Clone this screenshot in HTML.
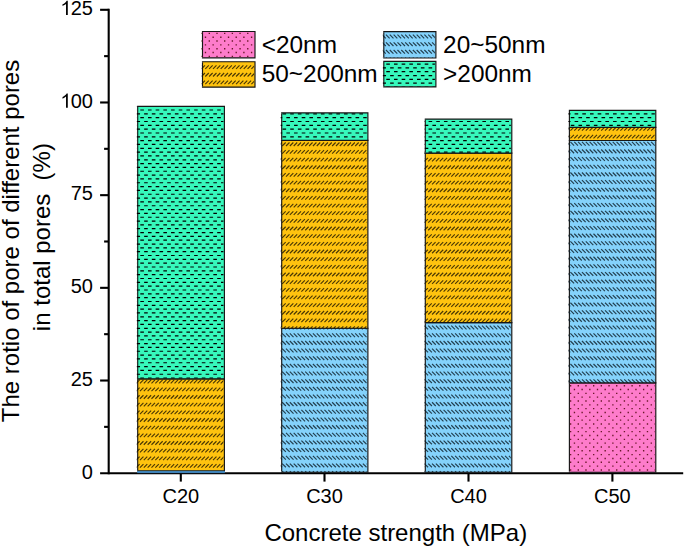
<!DOCTYPE html>
<html><head><meta charset="utf-8"><title>chart</title>
<style>html,body{margin:0;padding:0;background:#fff;}body{width:685px;height:546px;overflow:hidden;}svg{display:block;}text{font-family:"Liberation Sans",sans-serif;fill:#000;}</style>
</head><body>
<svg width="685" height="546" viewBox="0 0 685 546">
<rect width="685" height="546" fill="#fff"/>
<g stroke="#000" stroke-width="2.1" fill="none">
<path d="M108.7 8.8V474.15"/>
<path stroke-width="1.95" d="M100.1 473.2H683.2"/>
<path d="M100.1 380.52H108.7"/>
<path d="M100.1 287.84H108.7"/>
<path d="M100.1 195.16H108.7"/>
<path d="M100.1 102.48H108.7"/>
<path d="M100.1 9.8H108.7"/>
<path d="M104.1 426.86H108.7"/>
<path d="M104.1 334.18H108.7"/>
<path d="M104.1 241.5H108.7"/>
<path d="M104.1 148.82H108.7"/>
<path d="M104.1 56.14H108.7"/>
<path d="M180.8 473.2V481.6"/>
<path d="M324.5 473.2V481.6"/>
<path d="M468.5 473.2V481.6"/>
<path d="M612.4 473.2V481.6"/>
</g>
<clipPath id="c1"><rect x="136.7" y="378.8" width="86.7" height="92.1"/></clipPath>
<rect x="137.7" y="378.8" width="86.7" height="92.1" fill="#FFC30F"/>
<path d="M137.7 379.38V470.32" stroke="#161616" stroke-width="1.15" fill="none"/>
<path clip-path="url(#c1)" fill="none" stroke="#1c1400" stroke-opacity="0.8" stroke-width="1.15" d="M128.42 375.79l3.5 -3.5M132.26 375.79l3.5 -3.5M136.11 375.79l3.5 -3.5M139.95 375.79l3.5 -3.5M143.79 375.79l3.5 -3.5M147.64 375.79l3.5 -3.5M151.48 375.79l3.5 -3.5M155.32 375.79l3.5 -3.5M159.17 375.79l3.5 -3.5M163.01 375.79l3.5 -3.5M166.85 375.79l3.5 -3.5M170.7 375.79l3.5 -3.5M174.54 375.79l3.5 -3.5M178.38 375.79l3.5 -3.5M182.23 375.79l3.5 -3.5M186.07 375.79l3.5 -3.5M189.92 375.79l3.5 -3.5M193.76 375.79l3.5 -3.5M197.6 375.79l3.5 -3.5M201.45 375.79l3.5 -3.5M205.29 375.79l3.5 -3.5M209.13 375.79l3.5 -3.5M212.98 375.79l3.5 -3.5M216.82 375.79l3.5 -3.5M220.66 375.79l3.5 -3.5M224.51 375.79l3.5 -3.5M228.35 375.79l3.5 -3.5M128.42 383.45l3.5 -3.5M132.26 383.45l3.5 -3.5M136.11 383.45l3.5 -3.5M139.95 383.45l3.5 -3.5M143.79 383.45l3.5 -3.5M147.64 383.45l3.5 -3.5M151.48 383.45l3.5 -3.5M155.32 383.45l3.5 -3.5M159.17 383.45l3.5 -3.5M163.01 383.45l3.5 -3.5M166.85 383.45l3.5 -3.5M170.7 383.45l3.5 -3.5M174.54 383.45l3.5 -3.5M178.38 383.45l3.5 -3.5M182.23 383.45l3.5 -3.5M186.07 383.45l3.5 -3.5M189.92 383.45l3.5 -3.5M193.76 383.45l3.5 -3.5M197.6 383.45l3.5 -3.5M201.45 383.45l3.5 -3.5M205.29 383.45l3.5 -3.5M209.13 383.45l3.5 -3.5M212.98 383.45l3.5 -3.5M216.82 383.45l3.5 -3.5M220.66 383.45l3.5 -3.5M224.51 383.45l3.5 -3.5M228.35 383.45l3.5 -3.5M128.42 391.11l3.5 -3.5M132.26 391.11l3.5 -3.5M136.11 391.11l3.5 -3.5M139.95 391.11l3.5 -3.5M143.79 391.11l3.5 -3.5M147.64 391.11l3.5 -3.5M151.48 391.11l3.5 -3.5M155.32 391.11l3.5 -3.5M159.17 391.11l3.5 -3.5M163.01 391.11l3.5 -3.5M166.85 391.11l3.5 -3.5M170.7 391.11l3.5 -3.5M174.54 391.11l3.5 -3.5M178.38 391.11l3.5 -3.5M182.23 391.11l3.5 -3.5M186.07 391.11l3.5 -3.5M189.92 391.11l3.5 -3.5M193.76 391.11l3.5 -3.5M197.6 391.11l3.5 -3.5M201.45 391.11l3.5 -3.5M205.29 391.11l3.5 -3.5M209.13 391.11l3.5 -3.5M212.98 391.11l3.5 -3.5M216.82 391.11l3.5 -3.5M220.66 391.11l3.5 -3.5M224.51 391.11l3.5 -3.5M228.35 391.11l3.5 -3.5M128.42 398.77l3.5 -3.5M132.26 398.77l3.5 -3.5M136.11 398.77l3.5 -3.5M139.95 398.77l3.5 -3.5M143.79 398.77l3.5 -3.5M147.64 398.77l3.5 -3.5M151.48 398.77l3.5 -3.5M155.32 398.77l3.5 -3.5M159.17 398.77l3.5 -3.5M163.01 398.77l3.5 -3.5M166.85 398.77l3.5 -3.5M170.7 398.77l3.5 -3.5M174.54 398.77l3.5 -3.5M178.38 398.77l3.5 -3.5M182.23 398.77l3.5 -3.5M186.07 398.77l3.5 -3.5M189.92 398.77l3.5 -3.5M193.76 398.77l3.5 -3.5M197.6 398.77l3.5 -3.5M201.45 398.77l3.5 -3.5M205.29 398.77l3.5 -3.5M209.13 398.77l3.5 -3.5M212.98 398.77l3.5 -3.5M216.82 398.77l3.5 -3.5M220.66 398.77l3.5 -3.5M224.51 398.77l3.5 -3.5M228.35 398.77l3.5 -3.5M128.42 406.43l3.5 -3.5M132.26 406.43l3.5 -3.5M136.11 406.43l3.5 -3.5M139.95 406.43l3.5 -3.5M143.79 406.43l3.5 -3.5M147.64 406.43l3.5 -3.5M151.48 406.43l3.5 -3.5M155.32 406.43l3.5 -3.5M159.17 406.43l3.5 -3.5M163.01 406.43l3.5 -3.5M166.85 406.43l3.5 -3.5M170.7 406.43l3.5 -3.5M174.54 406.43l3.5 -3.5M178.38 406.43l3.5 -3.5M182.23 406.43l3.5 -3.5M186.07 406.43l3.5 -3.5M189.92 406.43l3.5 -3.5M193.76 406.43l3.5 -3.5M197.6 406.43l3.5 -3.5M201.45 406.43l3.5 -3.5M205.29 406.43l3.5 -3.5M209.13 406.43l3.5 -3.5M212.98 406.43l3.5 -3.5M216.82 406.43l3.5 -3.5M220.66 406.43l3.5 -3.5M224.51 406.43l3.5 -3.5M228.35 406.43l3.5 -3.5M128.42 414.09l3.5 -3.5M132.26 414.09l3.5 -3.5M136.11 414.09l3.5 -3.5M139.95 414.09l3.5 -3.5M143.79 414.09l3.5 -3.5M147.64 414.09l3.5 -3.5M151.48 414.09l3.5 -3.5M155.32 414.09l3.5 -3.5M159.17 414.09l3.5 -3.5M163.01 414.09l3.5 -3.5M166.85 414.09l3.5 -3.5M170.7 414.09l3.5 -3.5M174.54 414.09l3.5 -3.5M178.38 414.09l3.5 -3.5M182.23 414.09l3.5 -3.5M186.07 414.09l3.5 -3.5M189.92 414.09l3.5 -3.5M193.76 414.09l3.5 -3.5M197.6 414.09l3.5 -3.5M201.45 414.09l3.5 -3.5M205.29 414.09l3.5 -3.5M209.13 414.09l3.5 -3.5M212.98 414.09l3.5 -3.5M216.82 414.09l3.5 -3.5M220.66 414.09l3.5 -3.5M224.51 414.09l3.5 -3.5M228.35 414.09l3.5 -3.5M128.42 421.75l3.5 -3.5M132.26 421.75l3.5 -3.5M136.11 421.75l3.5 -3.5M139.95 421.75l3.5 -3.5M143.79 421.75l3.5 -3.5M147.64 421.75l3.5 -3.5M151.48 421.75l3.5 -3.5M155.32 421.75l3.5 -3.5M159.17 421.75l3.5 -3.5M163.01 421.75l3.5 -3.5M166.85 421.75l3.5 -3.5M170.7 421.75l3.5 -3.5M174.54 421.75l3.5 -3.5M178.38 421.75l3.5 -3.5M182.23 421.75l3.5 -3.5M186.07 421.75l3.5 -3.5M189.92 421.75l3.5 -3.5M193.76 421.75l3.5 -3.5M197.6 421.75l3.5 -3.5M201.45 421.75l3.5 -3.5M205.29 421.75l3.5 -3.5M209.13 421.75l3.5 -3.5M212.98 421.75l3.5 -3.5M216.82 421.75l3.5 -3.5M220.66 421.75l3.5 -3.5M224.51 421.75l3.5 -3.5M228.35 421.75l3.5 -3.5M128.42 429.4l3.5 -3.5M132.26 429.4l3.5 -3.5M136.11 429.4l3.5 -3.5M139.95 429.4l3.5 -3.5M143.79 429.4l3.5 -3.5M147.64 429.4l3.5 -3.5M151.48 429.4l3.5 -3.5M155.32 429.4l3.5 -3.5M159.17 429.4l3.5 -3.5M163.01 429.4l3.5 -3.5M166.85 429.4l3.5 -3.5M170.7 429.4l3.5 -3.5M174.54 429.4l3.5 -3.5M178.38 429.4l3.5 -3.5M182.23 429.4l3.5 -3.5M186.07 429.4l3.5 -3.5M189.92 429.4l3.5 -3.5M193.76 429.4l3.5 -3.5M197.6 429.4l3.5 -3.5M201.45 429.4l3.5 -3.5M205.29 429.4l3.5 -3.5M209.13 429.4l3.5 -3.5M212.98 429.4l3.5 -3.5M216.82 429.4l3.5 -3.5M220.66 429.4l3.5 -3.5M224.51 429.4l3.5 -3.5M228.35 429.4l3.5 -3.5M128.42 437.06l3.5 -3.5M132.26 437.06l3.5 -3.5M136.11 437.06l3.5 -3.5M139.95 437.06l3.5 -3.5M143.79 437.06l3.5 -3.5M147.64 437.06l3.5 -3.5M151.48 437.06l3.5 -3.5M155.32 437.06l3.5 -3.5M159.17 437.06l3.5 -3.5M163.01 437.06l3.5 -3.5M166.85 437.06l3.5 -3.5M170.7 437.06l3.5 -3.5M174.54 437.06l3.5 -3.5M178.38 437.06l3.5 -3.5M182.23 437.06l3.5 -3.5M186.07 437.06l3.5 -3.5M189.92 437.06l3.5 -3.5M193.76 437.06l3.5 -3.5M197.6 437.06l3.5 -3.5M201.45 437.06l3.5 -3.5M205.29 437.06l3.5 -3.5M209.13 437.06l3.5 -3.5M212.98 437.06l3.5 -3.5M216.82 437.06l3.5 -3.5M220.66 437.06l3.5 -3.5M224.51 437.06l3.5 -3.5M228.35 437.06l3.5 -3.5M128.42 444.72l3.5 -3.5M132.26 444.72l3.5 -3.5M136.11 444.72l3.5 -3.5M139.95 444.72l3.5 -3.5M143.79 444.72l3.5 -3.5M147.64 444.72l3.5 -3.5M151.48 444.72l3.5 -3.5M155.32 444.72l3.5 -3.5M159.17 444.72l3.5 -3.5M163.01 444.72l3.5 -3.5M166.85 444.72l3.5 -3.5M170.7 444.72l3.5 -3.5M174.54 444.72l3.5 -3.5M178.38 444.72l3.5 -3.5M182.23 444.72l3.5 -3.5M186.07 444.72l3.5 -3.5M189.92 444.72l3.5 -3.5M193.76 444.72l3.5 -3.5M197.6 444.72l3.5 -3.5M201.45 444.72l3.5 -3.5M205.29 444.72l3.5 -3.5M209.13 444.72l3.5 -3.5M212.98 444.72l3.5 -3.5M216.82 444.72l3.5 -3.5M220.66 444.72l3.5 -3.5M224.51 444.72l3.5 -3.5M228.35 444.72l3.5 -3.5M128.42 452.38l3.5 -3.5M132.26 452.38l3.5 -3.5M136.11 452.38l3.5 -3.5M139.95 452.38l3.5 -3.5M143.79 452.38l3.5 -3.5M147.64 452.38l3.5 -3.5M151.48 452.38l3.5 -3.5M155.32 452.38l3.5 -3.5M159.17 452.38l3.5 -3.5M163.01 452.38l3.5 -3.5M166.85 452.38l3.5 -3.5M170.7 452.38l3.5 -3.5M174.54 452.38l3.5 -3.5M178.38 452.38l3.5 -3.5M182.23 452.38l3.5 -3.5M186.07 452.38l3.5 -3.5M189.92 452.38l3.5 -3.5M193.76 452.38l3.5 -3.5M197.6 452.38l3.5 -3.5M201.45 452.38l3.5 -3.5M205.29 452.38l3.5 -3.5M209.13 452.38l3.5 -3.5M212.98 452.38l3.5 -3.5M216.82 452.38l3.5 -3.5M220.66 452.38l3.5 -3.5M224.51 452.38l3.5 -3.5M228.35 452.38l3.5 -3.5M128.42 460.04l3.5 -3.5M132.26 460.04l3.5 -3.5M136.11 460.04l3.5 -3.5M139.95 460.04l3.5 -3.5M143.79 460.04l3.5 -3.5M147.64 460.04l3.5 -3.5M151.48 460.04l3.5 -3.5M155.32 460.04l3.5 -3.5M159.17 460.04l3.5 -3.5M163.01 460.04l3.5 -3.5M166.85 460.04l3.5 -3.5M170.7 460.04l3.5 -3.5M174.54 460.04l3.5 -3.5M178.38 460.04l3.5 -3.5M182.23 460.04l3.5 -3.5M186.07 460.04l3.5 -3.5M189.92 460.04l3.5 -3.5M193.76 460.04l3.5 -3.5M197.6 460.04l3.5 -3.5M201.45 460.04l3.5 -3.5M205.29 460.04l3.5 -3.5M209.13 460.04l3.5 -3.5M212.98 460.04l3.5 -3.5M216.82 460.04l3.5 -3.5M220.66 460.04l3.5 -3.5M224.51 460.04l3.5 -3.5M228.35 460.04l3.5 -3.5M128.42 467.7l3.5 -3.5M132.26 467.7l3.5 -3.5M136.11 467.7l3.5 -3.5M139.95 467.7l3.5 -3.5M143.79 467.7l3.5 -3.5M147.64 467.7l3.5 -3.5M151.48 467.7l3.5 -3.5M155.32 467.7l3.5 -3.5M159.17 467.7l3.5 -3.5M163.01 467.7l3.5 -3.5M166.85 467.7l3.5 -3.5M170.7 467.7l3.5 -3.5M174.54 467.7l3.5 -3.5M178.38 467.7l3.5 -3.5M182.23 467.7l3.5 -3.5M186.07 467.7l3.5 -3.5M189.92 467.7l3.5 -3.5M193.76 467.7l3.5 -3.5M197.6 467.7l3.5 -3.5M201.45 467.7l3.5 -3.5M205.29 467.7l3.5 -3.5M209.13 467.7l3.5 -3.5M212.98 467.7l3.5 -3.5M216.82 467.7l3.5 -3.5M220.66 467.7l3.5 -3.5M224.51 467.7l3.5 -3.5M228.35 467.7l3.5 -3.5M128.42 475.36l3.5 -3.5M132.26 475.36l3.5 -3.5M136.11 475.36l3.5 -3.5M139.95 475.36l3.5 -3.5M143.79 475.36l3.5 -3.5M147.64 475.36l3.5 -3.5M151.48 475.36l3.5 -3.5M155.32 475.36l3.5 -3.5M159.17 475.36l3.5 -3.5M163.01 475.36l3.5 -3.5M166.85 475.36l3.5 -3.5M170.7 475.36l3.5 -3.5M174.54 475.36l3.5 -3.5M178.38 475.36l3.5 -3.5M182.23 475.36l3.5 -3.5M186.07 475.36l3.5 -3.5M189.92 475.36l3.5 -3.5M193.76 475.36l3.5 -3.5M197.6 475.36l3.5 -3.5M201.45 475.36l3.5 -3.5M205.29 475.36l3.5 -3.5M209.13 475.36l3.5 -3.5M212.98 475.36l3.5 -3.5M216.82 475.36l3.5 -3.5M220.66 475.36l3.5 -3.5M224.51 475.36l3.5 -3.5M228.35 475.36l3.5 -3.5M128.42 483.02l3.5 -3.5M132.26 483.02l3.5 -3.5M136.11 483.02l3.5 -3.5M139.95 483.02l3.5 -3.5M143.79 483.02l3.5 -3.5M147.64 483.02l3.5 -3.5M151.48 483.02l3.5 -3.5M155.32 483.02l3.5 -3.5M159.17 483.02l3.5 -3.5M163.01 483.02l3.5 -3.5M166.85 483.02l3.5 -3.5M170.7 483.02l3.5 -3.5M174.54 483.02l3.5 -3.5M178.38 483.02l3.5 -3.5M182.23 483.02l3.5 -3.5M186.07 483.02l3.5 -3.5M189.92 483.02l3.5 -3.5M193.76 483.02l3.5 -3.5M197.6 483.02l3.5 -3.5M201.45 483.02l3.5 -3.5M205.29 483.02l3.5 -3.5M209.13 483.02l3.5 -3.5M212.98 483.02l3.5 -3.5M216.82 483.02l3.5 -3.5M220.66 483.02l3.5 -3.5M224.51 483.02l3.5 -3.5M228.35 483.02l3.5 -3.5"/>
<path d="M137.12 378.8H224.4V470.9H137.12" stroke="#161616" stroke-width="1.15" fill="none" stroke-linejoin="miter"/>
<clipPath id="c2"><rect x="136.7" y="106.3" width="86.7" height="272.5"/></clipPath>
<rect x="137.7" y="106.3" width="86.7" height="272.5" fill="#37F8BC"/>
<path d="M137.7 106.88V378.23" stroke="#161616" stroke-width="1.15" fill="none"/>
<path clip-path="url(#c2)" fill="#000" d="M128.77 97.91h3.6v1.2h-3.6zM136.46 97.91h3.6v1.2h-3.6zM144.14 97.91h3.6v1.2h-3.6zM151.83 97.91h3.6v1.2h-3.6zM159.52 97.91h3.6v1.2h-3.6zM167.2 97.91h3.6v1.2h-3.6zM174.89 97.91h3.6v1.2h-3.6zM182.58 97.91h3.6v1.2h-3.6zM190.27 97.91h3.6v1.2h-3.6zM197.95 97.91h3.6v1.2h-3.6zM205.64 97.91h3.6v1.2h-3.6zM213.33 97.91h3.6v1.2h-3.6zM221.01 97.91h3.6v1.2h-3.6zM228.7 97.91h3.6v1.2h-3.6zM124.93 101.74h3.6v1.2h-3.6zM132.61 101.74h3.6v1.2h-3.6zM140.3 101.74h3.6v1.2h-3.6zM147.99 101.74h3.6v1.2h-3.6zM155.67 101.74h3.6v1.2h-3.6zM163.36 101.74h3.6v1.2h-3.6zM171.05 101.74h3.6v1.2h-3.6zM178.73 101.74h3.6v1.2h-3.6zM186.42 101.74h3.6v1.2h-3.6zM194.11 101.74h3.6v1.2h-3.6zM201.8 101.74h3.6v1.2h-3.6zM209.48 101.74h3.6v1.2h-3.6zM217.17 101.74h3.6v1.2h-3.6zM224.86 101.74h3.6v1.2h-3.6zM232.54 101.74h3.6v1.2h-3.6zM128.77 105.57h3.6v1.2h-3.6zM136.46 105.57h3.6v1.2h-3.6zM144.14 105.57h3.6v1.2h-3.6zM151.83 105.57h3.6v1.2h-3.6zM159.52 105.57h3.6v1.2h-3.6zM167.2 105.57h3.6v1.2h-3.6zM174.89 105.57h3.6v1.2h-3.6zM182.58 105.57h3.6v1.2h-3.6zM190.27 105.57h3.6v1.2h-3.6zM197.95 105.57h3.6v1.2h-3.6zM205.64 105.57h3.6v1.2h-3.6zM213.33 105.57h3.6v1.2h-3.6zM221.01 105.57h3.6v1.2h-3.6zM228.7 105.57h3.6v1.2h-3.6zM124.93 109.4h3.6v1.2h-3.6zM132.61 109.4h3.6v1.2h-3.6zM140.3 109.4h3.6v1.2h-3.6zM147.99 109.4h3.6v1.2h-3.6zM155.67 109.4h3.6v1.2h-3.6zM163.36 109.4h3.6v1.2h-3.6zM171.05 109.4h3.6v1.2h-3.6zM178.73 109.4h3.6v1.2h-3.6zM186.42 109.4h3.6v1.2h-3.6zM194.11 109.4h3.6v1.2h-3.6zM201.8 109.4h3.6v1.2h-3.6zM209.48 109.4h3.6v1.2h-3.6zM217.17 109.4h3.6v1.2h-3.6zM224.86 109.4h3.6v1.2h-3.6zM232.54 109.4h3.6v1.2h-3.6zM128.77 113.23h3.6v1.2h-3.6zM136.46 113.23h3.6v1.2h-3.6zM144.14 113.23h3.6v1.2h-3.6zM151.83 113.23h3.6v1.2h-3.6zM159.52 113.23h3.6v1.2h-3.6zM167.2 113.23h3.6v1.2h-3.6zM174.89 113.23h3.6v1.2h-3.6zM182.58 113.23h3.6v1.2h-3.6zM190.27 113.23h3.6v1.2h-3.6zM197.95 113.23h3.6v1.2h-3.6zM205.64 113.23h3.6v1.2h-3.6zM213.33 113.23h3.6v1.2h-3.6zM221.01 113.23h3.6v1.2h-3.6zM228.7 113.23h3.6v1.2h-3.6zM124.93 117.06h3.6v1.2h-3.6zM132.61 117.06h3.6v1.2h-3.6zM140.3 117.06h3.6v1.2h-3.6zM147.99 117.06h3.6v1.2h-3.6zM155.67 117.06h3.6v1.2h-3.6zM163.36 117.06h3.6v1.2h-3.6zM171.05 117.06h3.6v1.2h-3.6zM178.73 117.06h3.6v1.2h-3.6zM186.42 117.06h3.6v1.2h-3.6zM194.11 117.06h3.6v1.2h-3.6zM201.8 117.06h3.6v1.2h-3.6zM209.48 117.06h3.6v1.2h-3.6zM217.17 117.06h3.6v1.2h-3.6zM224.86 117.06h3.6v1.2h-3.6zM232.54 117.06h3.6v1.2h-3.6zM128.77 120.89h3.6v1.2h-3.6zM136.46 120.89h3.6v1.2h-3.6zM144.14 120.89h3.6v1.2h-3.6zM151.83 120.89h3.6v1.2h-3.6zM159.52 120.89h3.6v1.2h-3.6zM167.2 120.89h3.6v1.2h-3.6zM174.89 120.89h3.6v1.2h-3.6zM182.58 120.89h3.6v1.2h-3.6zM190.27 120.89h3.6v1.2h-3.6zM197.95 120.89h3.6v1.2h-3.6zM205.64 120.89h3.6v1.2h-3.6zM213.33 120.89h3.6v1.2h-3.6zM221.01 120.89h3.6v1.2h-3.6zM228.7 120.89h3.6v1.2h-3.6zM124.93 124.72h3.6v1.2h-3.6zM132.61 124.72h3.6v1.2h-3.6zM140.3 124.72h3.6v1.2h-3.6zM147.99 124.72h3.6v1.2h-3.6zM155.67 124.72h3.6v1.2h-3.6zM163.36 124.72h3.6v1.2h-3.6zM171.05 124.72h3.6v1.2h-3.6zM178.73 124.72h3.6v1.2h-3.6zM186.42 124.72h3.6v1.2h-3.6zM194.11 124.72h3.6v1.2h-3.6zM201.8 124.72h3.6v1.2h-3.6zM209.48 124.72h3.6v1.2h-3.6zM217.17 124.72h3.6v1.2h-3.6zM224.86 124.72h3.6v1.2h-3.6zM232.54 124.72h3.6v1.2h-3.6zM128.77 128.55h3.6v1.2h-3.6zM136.46 128.55h3.6v1.2h-3.6zM144.14 128.55h3.6v1.2h-3.6zM151.83 128.55h3.6v1.2h-3.6zM159.52 128.55h3.6v1.2h-3.6zM167.2 128.55h3.6v1.2h-3.6zM174.89 128.55h3.6v1.2h-3.6zM182.58 128.55h3.6v1.2h-3.6zM190.27 128.55h3.6v1.2h-3.6zM197.95 128.55h3.6v1.2h-3.6zM205.64 128.55h3.6v1.2h-3.6zM213.33 128.55h3.6v1.2h-3.6zM221.01 128.55h3.6v1.2h-3.6zM228.7 128.55h3.6v1.2h-3.6zM124.93 132.38h3.6v1.2h-3.6zM132.61 132.38h3.6v1.2h-3.6zM140.3 132.38h3.6v1.2h-3.6zM147.99 132.38h3.6v1.2h-3.6zM155.67 132.38h3.6v1.2h-3.6zM163.36 132.38h3.6v1.2h-3.6zM171.05 132.38h3.6v1.2h-3.6zM178.73 132.38h3.6v1.2h-3.6zM186.42 132.38h3.6v1.2h-3.6zM194.11 132.38h3.6v1.2h-3.6zM201.8 132.38h3.6v1.2h-3.6zM209.48 132.38h3.6v1.2h-3.6zM217.17 132.38h3.6v1.2h-3.6zM224.86 132.38h3.6v1.2h-3.6zM232.54 132.38h3.6v1.2h-3.6zM128.77 136.21h3.6v1.2h-3.6zM136.46 136.21h3.6v1.2h-3.6zM144.14 136.21h3.6v1.2h-3.6zM151.83 136.21h3.6v1.2h-3.6zM159.52 136.21h3.6v1.2h-3.6zM167.2 136.21h3.6v1.2h-3.6zM174.89 136.21h3.6v1.2h-3.6zM182.58 136.21h3.6v1.2h-3.6zM190.27 136.21h3.6v1.2h-3.6zM197.95 136.21h3.6v1.2h-3.6zM205.64 136.21h3.6v1.2h-3.6zM213.33 136.21h3.6v1.2h-3.6zM221.01 136.21h3.6v1.2h-3.6zM228.7 136.21h3.6v1.2h-3.6zM124.93 140.04h3.6v1.2h-3.6zM132.61 140.04h3.6v1.2h-3.6zM140.3 140.04h3.6v1.2h-3.6zM147.99 140.04h3.6v1.2h-3.6zM155.67 140.04h3.6v1.2h-3.6zM163.36 140.04h3.6v1.2h-3.6zM171.05 140.04h3.6v1.2h-3.6zM178.73 140.04h3.6v1.2h-3.6zM186.42 140.04h3.6v1.2h-3.6zM194.11 140.04h3.6v1.2h-3.6zM201.8 140.04h3.6v1.2h-3.6zM209.48 140.04h3.6v1.2h-3.6zM217.17 140.04h3.6v1.2h-3.6zM224.86 140.04h3.6v1.2h-3.6zM232.54 140.04h3.6v1.2h-3.6zM128.77 143.87h3.6v1.2h-3.6zM136.46 143.87h3.6v1.2h-3.6zM144.14 143.87h3.6v1.2h-3.6zM151.83 143.87h3.6v1.2h-3.6zM159.52 143.87h3.6v1.2h-3.6zM167.2 143.87h3.6v1.2h-3.6zM174.89 143.87h3.6v1.2h-3.6zM182.58 143.87h3.6v1.2h-3.6zM190.27 143.87h3.6v1.2h-3.6zM197.95 143.87h3.6v1.2h-3.6zM205.64 143.87h3.6v1.2h-3.6zM213.33 143.87h3.6v1.2h-3.6zM221.01 143.87h3.6v1.2h-3.6zM228.7 143.87h3.6v1.2h-3.6zM124.93 147.7h3.6v1.2h-3.6zM132.61 147.7h3.6v1.2h-3.6zM140.3 147.7h3.6v1.2h-3.6zM147.99 147.7h3.6v1.2h-3.6zM155.67 147.7h3.6v1.2h-3.6zM163.36 147.7h3.6v1.2h-3.6zM171.05 147.7h3.6v1.2h-3.6zM178.73 147.7h3.6v1.2h-3.6zM186.42 147.7h3.6v1.2h-3.6zM194.11 147.7h3.6v1.2h-3.6zM201.8 147.7h3.6v1.2h-3.6zM209.48 147.7h3.6v1.2h-3.6zM217.17 147.7h3.6v1.2h-3.6zM224.86 147.7h3.6v1.2h-3.6zM232.54 147.7h3.6v1.2h-3.6zM128.77 151.52h3.6v1.2h-3.6zM136.46 151.52h3.6v1.2h-3.6zM144.14 151.52h3.6v1.2h-3.6zM151.83 151.52h3.6v1.2h-3.6zM159.52 151.52h3.6v1.2h-3.6zM167.2 151.52h3.6v1.2h-3.6zM174.89 151.52h3.6v1.2h-3.6zM182.58 151.52h3.6v1.2h-3.6zM190.27 151.52h3.6v1.2h-3.6zM197.95 151.52h3.6v1.2h-3.6zM205.64 151.52h3.6v1.2h-3.6zM213.33 151.52h3.6v1.2h-3.6zM221.01 151.52h3.6v1.2h-3.6zM228.7 151.52h3.6v1.2h-3.6zM124.93 155.35h3.6v1.2h-3.6zM132.61 155.35h3.6v1.2h-3.6zM140.3 155.35h3.6v1.2h-3.6zM147.99 155.35h3.6v1.2h-3.6zM155.67 155.35h3.6v1.2h-3.6zM163.36 155.35h3.6v1.2h-3.6zM171.05 155.35h3.6v1.2h-3.6zM178.73 155.35h3.6v1.2h-3.6zM186.42 155.35h3.6v1.2h-3.6zM194.11 155.35h3.6v1.2h-3.6zM201.8 155.35h3.6v1.2h-3.6zM209.48 155.35h3.6v1.2h-3.6zM217.17 155.35h3.6v1.2h-3.6zM224.86 155.35h3.6v1.2h-3.6zM232.54 155.35h3.6v1.2h-3.6zM128.77 159.18h3.6v1.2h-3.6zM136.46 159.18h3.6v1.2h-3.6zM144.14 159.18h3.6v1.2h-3.6zM151.83 159.18h3.6v1.2h-3.6zM159.52 159.18h3.6v1.2h-3.6zM167.2 159.18h3.6v1.2h-3.6zM174.89 159.18h3.6v1.2h-3.6zM182.58 159.18h3.6v1.2h-3.6zM190.27 159.18h3.6v1.2h-3.6zM197.95 159.18h3.6v1.2h-3.6zM205.64 159.18h3.6v1.2h-3.6zM213.33 159.18h3.6v1.2h-3.6zM221.01 159.18h3.6v1.2h-3.6zM228.7 159.18h3.6v1.2h-3.6zM124.93 163.01h3.6v1.2h-3.6zM132.61 163.01h3.6v1.2h-3.6zM140.3 163.01h3.6v1.2h-3.6zM147.99 163.01h3.6v1.2h-3.6zM155.67 163.01h3.6v1.2h-3.6zM163.36 163.01h3.6v1.2h-3.6zM171.05 163.01h3.6v1.2h-3.6zM178.73 163.01h3.6v1.2h-3.6zM186.42 163.01h3.6v1.2h-3.6zM194.11 163.01h3.6v1.2h-3.6zM201.8 163.01h3.6v1.2h-3.6zM209.48 163.01h3.6v1.2h-3.6zM217.17 163.01h3.6v1.2h-3.6zM224.86 163.01h3.6v1.2h-3.6zM232.54 163.01h3.6v1.2h-3.6zM128.77 166.84h3.6v1.2h-3.6zM136.46 166.84h3.6v1.2h-3.6zM144.14 166.84h3.6v1.2h-3.6zM151.83 166.84h3.6v1.2h-3.6zM159.52 166.84h3.6v1.2h-3.6zM167.2 166.84h3.6v1.2h-3.6zM174.89 166.84h3.6v1.2h-3.6zM182.58 166.84h3.6v1.2h-3.6zM190.27 166.84h3.6v1.2h-3.6zM197.95 166.84h3.6v1.2h-3.6zM205.64 166.84h3.6v1.2h-3.6zM213.33 166.84h3.6v1.2h-3.6zM221.01 166.84h3.6v1.2h-3.6zM228.7 166.84h3.6v1.2h-3.6zM124.93 170.67h3.6v1.2h-3.6zM132.61 170.67h3.6v1.2h-3.6zM140.3 170.67h3.6v1.2h-3.6zM147.99 170.67h3.6v1.2h-3.6zM155.67 170.67h3.6v1.2h-3.6zM163.36 170.67h3.6v1.2h-3.6zM171.05 170.67h3.6v1.2h-3.6zM178.73 170.67h3.6v1.2h-3.6zM186.42 170.67h3.6v1.2h-3.6zM194.11 170.67h3.6v1.2h-3.6zM201.8 170.67h3.6v1.2h-3.6zM209.48 170.67h3.6v1.2h-3.6zM217.17 170.67h3.6v1.2h-3.6zM224.86 170.67h3.6v1.2h-3.6zM232.54 170.67h3.6v1.2h-3.6zM128.77 174.5h3.6v1.2h-3.6zM136.46 174.5h3.6v1.2h-3.6zM144.14 174.5h3.6v1.2h-3.6zM151.83 174.5h3.6v1.2h-3.6zM159.52 174.5h3.6v1.2h-3.6zM167.2 174.5h3.6v1.2h-3.6zM174.89 174.5h3.6v1.2h-3.6zM182.58 174.5h3.6v1.2h-3.6zM190.27 174.5h3.6v1.2h-3.6zM197.95 174.5h3.6v1.2h-3.6zM205.64 174.5h3.6v1.2h-3.6zM213.33 174.5h3.6v1.2h-3.6zM221.01 174.5h3.6v1.2h-3.6zM228.7 174.5h3.6v1.2h-3.6zM124.93 178.33h3.6v1.2h-3.6zM132.61 178.33h3.6v1.2h-3.6zM140.3 178.33h3.6v1.2h-3.6zM147.99 178.33h3.6v1.2h-3.6zM155.67 178.33h3.6v1.2h-3.6zM163.36 178.33h3.6v1.2h-3.6zM171.05 178.33h3.6v1.2h-3.6zM178.73 178.33h3.6v1.2h-3.6zM186.42 178.33h3.6v1.2h-3.6zM194.11 178.33h3.6v1.2h-3.6zM201.8 178.33h3.6v1.2h-3.6zM209.48 178.33h3.6v1.2h-3.6zM217.17 178.33h3.6v1.2h-3.6zM224.86 178.33h3.6v1.2h-3.6zM232.54 178.33h3.6v1.2h-3.6zM128.77 182.16h3.6v1.2h-3.6zM136.46 182.16h3.6v1.2h-3.6zM144.14 182.16h3.6v1.2h-3.6zM151.83 182.16h3.6v1.2h-3.6zM159.52 182.16h3.6v1.2h-3.6zM167.2 182.16h3.6v1.2h-3.6zM174.89 182.16h3.6v1.2h-3.6zM182.58 182.16h3.6v1.2h-3.6zM190.27 182.16h3.6v1.2h-3.6zM197.95 182.16h3.6v1.2h-3.6zM205.64 182.16h3.6v1.2h-3.6zM213.33 182.16h3.6v1.2h-3.6zM221.01 182.16h3.6v1.2h-3.6zM228.7 182.16h3.6v1.2h-3.6zM124.93 185.99h3.6v1.2h-3.6zM132.61 185.99h3.6v1.2h-3.6zM140.3 185.99h3.6v1.2h-3.6zM147.99 185.99h3.6v1.2h-3.6zM155.67 185.99h3.6v1.2h-3.6zM163.36 185.99h3.6v1.2h-3.6zM171.05 185.99h3.6v1.2h-3.6zM178.73 185.99h3.6v1.2h-3.6zM186.42 185.99h3.6v1.2h-3.6zM194.11 185.99h3.6v1.2h-3.6zM201.8 185.99h3.6v1.2h-3.6zM209.48 185.99h3.6v1.2h-3.6zM217.17 185.99h3.6v1.2h-3.6zM224.86 185.99h3.6v1.2h-3.6zM232.54 185.99h3.6v1.2h-3.6zM128.77 189.82h3.6v1.2h-3.6zM136.46 189.82h3.6v1.2h-3.6zM144.14 189.82h3.6v1.2h-3.6zM151.83 189.82h3.6v1.2h-3.6zM159.52 189.82h3.6v1.2h-3.6zM167.2 189.82h3.6v1.2h-3.6zM174.89 189.82h3.6v1.2h-3.6zM182.58 189.82h3.6v1.2h-3.6zM190.27 189.82h3.6v1.2h-3.6zM197.95 189.82h3.6v1.2h-3.6zM205.64 189.82h3.6v1.2h-3.6zM213.33 189.82h3.6v1.2h-3.6zM221.01 189.82h3.6v1.2h-3.6zM228.7 189.82h3.6v1.2h-3.6zM124.93 193.65h3.6v1.2h-3.6zM132.61 193.65h3.6v1.2h-3.6zM140.3 193.65h3.6v1.2h-3.6zM147.99 193.65h3.6v1.2h-3.6zM155.67 193.65h3.6v1.2h-3.6zM163.36 193.65h3.6v1.2h-3.6zM171.05 193.65h3.6v1.2h-3.6zM178.73 193.65h3.6v1.2h-3.6zM186.42 193.65h3.6v1.2h-3.6zM194.11 193.65h3.6v1.2h-3.6zM201.8 193.65h3.6v1.2h-3.6zM209.48 193.65h3.6v1.2h-3.6zM217.17 193.65h3.6v1.2h-3.6zM224.86 193.65h3.6v1.2h-3.6zM232.54 193.65h3.6v1.2h-3.6zM128.77 197.48h3.6v1.2h-3.6zM136.46 197.48h3.6v1.2h-3.6zM144.14 197.48h3.6v1.2h-3.6zM151.83 197.48h3.6v1.2h-3.6zM159.52 197.48h3.6v1.2h-3.6zM167.2 197.48h3.6v1.2h-3.6zM174.89 197.48h3.6v1.2h-3.6zM182.58 197.48h3.6v1.2h-3.6zM190.27 197.48h3.6v1.2h-3.6zM197.95 197.48h3.6v1.2h-3.6zM205.64 197.48h3.6v1.2h-3.6zM213.33 197.48h3.6v1.2h-3.6zM221.01 197.48h3.6v1.2h-3.6zM228.7 197.48h3.6v1.2h-3.6zM124.93 201.31h3.6v1.2h-3.6zM132.61 201.31h3.6v1.2h-3.6zM140.3 201.31h3.6v1.2h-3.6zM147.99 201.31h3.6v1.2h-3.6zM155.67 201.31h3.6v1.2h-3.6zM163.36 201.31h3.6v1.2h-3.6zM171.05 201.31h3.6v1.2h-3.6zM178.73 201.31h3.6v1.2h-3.6zM186.42 201.31h3.6v1.2h-3.6zM194.11 201.31h3.6v1.2h-3.6zM201.8 201.31h3.6v1.2h-3.6zM209.48 201.31h3.6v1.2h-3.6zM217.17 201.31h3.6v1.2h-3.6zM224.86 201.31h3.6v1.2h-3.6zM232.54 201.31h3.6v1.2h-3.6zM128.77 205.14h3.6v1.2h-3.6zM136.46 205.14h3.6v1.2h-3.6zM144.14 205.14h3.6v1.2h-3.6zM151.83 205.14h3.6v1.2h-3.6zM159.52 205.14h3.6v1.2h-3.6zM167.2 205.14h3.6v1.2h-3.6zM174.89 205.14h3.6v1.2h-3.6zM182.58 205.14h3.6v1.2h-3.6zM190.27 205.14h3.6v1.2h-3.6zM197.95 205.14h3.6v1.2h-3.6zM205.64 205.14h3.6v1.2h-3.6zM213.33 205.14h3.6v1.2h-3.6zM221.01 205.14h3.6v1.2h-3.6zM228.7 205.14h3.6v1.2h-3.6zM124.93 208.97h3.6v1.2h-3.6zM132.61 208.97h3.6v1.2h-3.6zM140.3 208.97h3.6v1.2h-3.6zM147.99 208.97h3.6v1.2h-3.6zM155.67 208.97h3.6v1.2h-3.6zM163.36 208.97h3.6v1.2h-3.6zM171.05 208.97h3.6v1.2h-3.6zM178.73 208.97h3.6v1.2h-3.6zM186.42 208.97h3.6v1.2h-3.6zM194.11 208.97h3.6v1.2h-3.6zM201.8 208.97h3.6v1.2h-3.6zM209.48 208.97h3.6v1.2h-3.6zM217.17 208.97h3.6v1.2h-3.6zM224.86 208.97h3.6v1.2h-3.6zM232.54 208.97h3.6v1.2h-3.6zM128.77 212.8h3.6v1.2h-3.6zM136.46 212.8h3.6v1.2h-3.6zM144.14 212.8h3.6v1.2h-3.6zM151.83 212.8h3.6v1.2h-3.6zM159.52 212.8h3.6v1.2h-3.6zM167.2 212.8h3.6v1.2h-3.6zM174.89 212.8h3.6v1.2h-3.6zM182.58 212.8h3.6v1.2h-3.6zM190.27 212.8h3.6v1.2h-3.6zM197.95 212.8h3.6v1.2h-3.6zM205.64 212.8h3.6v1.2h-3.6zM213.33 212.8h3.6v1.2h-3.6zM221.01 212.8h3.6v1.2h-3.6zM228.7 212.8h3.6v1.2h-3.6zM124.93 216.63h3.6v1.2h-3.6zM132.61 216.63h3.6v1.2h-3.6zM140.3 216.63h3.6v1.2h-3.6zM147.99 216.63h3.6v1.2h-3.6zM155.67 216.63h3.6v1.2h-3.6zM163.36 216.63h3.6v1.2h-3.6zM171.05 216.63h3.6v1.2h-3.6zM178.73 216.63h3.6v1.2h-3.6zM186.42 216.63h3.6v1.2h-3.6zM194.11 216.63h3.6v1.2h-3.6zM201.8 216.63h3.6v1.2h-3.6zM209.48 216.63h3.6v1.2h-3.6zM217.17 216.63h3.6v1.2h-3.6zM224.86 216.63h3.6v1.2h-3.6zM232.54 216.63h3.6v1.2h-3.6zM128.77 220.46h3.6v1.2h-3.6zM136.46 220.46h3.6v1.2h-3.6zM144.14 220.46h3.6v1.2h-3.6zM151.83 220.46h3.6v1.2h-3.6zM159.52 220.46h3.6v1.2h-3.6zM167.2 220.46h3.6v1.2h-3.6zM174.89 220.46h3.6v1.2h-3.6zM182.58 220.46h3.6v1.2h-3.6zM190.27 220.46h3.6v1.2h-3.6zM197.95 220.46h3.6v1.2h-3.6zM205.64 220.46h3.6v1.2h-3.6zM213.33 220.46h3.6v1.2h-3.6zM221.01 220.46h3.6v1.2h-3.6zM228.7 220.46h3.6v1.2h-3.6zM124.93 224.28h3.6v1.2h-3.6zM132.61 224.28h3.6v1.2h-3.6zM140.3 224.28h3.6v1.2h-3.6zM147.99 224.28h3.6v1.2h-3.6zM155.67 224.28h3.6v1.2h-3.6zM163.36 224.28h3.6v1.2h-3.6zM171.05 224.28h3.6v1.2h-3.6zM178.73 224.28h3.6v1.2h-3.6zM186.42 224.28h3.6v1.2h-3.6zM194.11 224.28h3.6v1.2h-3.6zM201.8 224.28h3.6v1.2h-3.6zM209.48 224.28h3.6v1.2h-3.6zM217.17 224.28h3.6v1.2h-3.6zM224.86 224.28h3.6v1.2h-3.6zM232.54 224.28h3.6v1.2h-3.6zM128.77 228.11h3.6v1.2h-3.6zM136.46 228.11h3.6v1.2h-3.6zM144.14 228.11h3.6v1.2h-3.6zM151.83 228.11h3.6v1.2h-3.6zM159.52 228.11h3.6v1.2h-3.6zM167.2 228.11h3.6v1.2h-3.6zM174.89 228.11h3.6v1.2h-3.6zM182.58 228.11h3.6v1.2h-3.6zM190.27 228.11h3.6v1.2h-3.6zM197.95 228.11h3.6v1.2h-3.6zM205.64 228.11h3.6v1.2h-3.6zM213.33 228.11h3.6v1.2h-3.6zM221.01 228.11h3.6v1.2h-3.6zM228.7 228.11h3.6v1.2h-3.6zM124.93 231.94h3.6v1.2h-3.6zM132.61 231.94h3.6v1.2h-3.6zM140.3 231.94h3.6v1.2h-3.6zM147.99 231.94h3.6v1.2h-3.6zM155.67 231.94h3.6v1.2h-3.6zM163.36 231.94h3.6v1.2h-3.6zM171.05 231.94h3.6v1.2h-3.6zM178.73 231.94h3.6v1.2h-3.6zM186.42 231.94h3.6v1.2h-3.6zM194.11 231.94h3.6v1.2h-3.6zM201.8 231.94h3.6v1.2h-3.6zM209.48 231.94h3.6v1.2h-3.6zM217.17 231.94h3.6v1.2h-3.6zM224.86 231.94h3.6v1.2h-3.6zM232.54 231.94h3.6v1.2h-3.6zM128.77 235.77h3.6v1.2h-3.6zM136.46 235.77h3.6v1.2h-3.6zM144.14 235.77h3.6v1.2h-3.6zM151.83 235.77h3.6v1.2h-3.6zM159.52 235.77h3.6v1.2h-3.6zM167.2 235.77h3.6v1.2h-3.6zM174.89 235.77h3.6v1.2h-3.6zM182.58 235.77h3.6v1.2h-3.6zM190.27 235.77h3.6v1.2h-3.6zM197.95 235.77h3.6v1.2h-3.6zM205.64 235.77h3.6v1.2h-3.6zM213.33 235.77h3.6v1.2h-3.6zM221.01 235.77h3.6v1.2h-3.6zM228.7 235.77h3.6v1.2h-3.6zM124.93 239.6h3.6v1.2h-3.6zM132.61 239.6h3.6v1.2h-3.6zM140.3 239.6h3.6v1.2h-3.6zM147.99 239.6h3.6v1.2h-3.6zM155.67 239.6h3.6v1.2h-3.6zM163.36 239.6h3.6v1.2h-3.6zM171.05 239.6h3.6v1.2h-3.6zM178.73 239.6h3.6v1.2h-3.6zM186.42 239.6h3.6v1.2h-3.6zM194.11 239.6h3.6v1.2h-3.6zM201.8 239.6h3.6v1.2h-3.6zM209.48 239.6h3.6v1.2h-3.6zM217.17 239.6h3.6v1.2h-3.6zM224.86 239.6h3.6v1.2h-3.6zM232.54 239.6h3.6v1.2h-3.6zM128.77 243.43h3.6v1.2h-3.6zM136.46 243.43h3.6v1.2h-3.6zM144.14 243.43h3.6v1.2h-3.6zM151.83 243.43h3.6v1.2h-3.6zM159.52 243.43h3.6v1.2h-3.6zM167.2 243.43h3.6v1.2h-3.6zM174.89 243.43h3.6v1.2h-3.6zM182.58 243.43h3.6v1.2h-3.6zM190.27 243.43h3.6v1.2h-3.6zM197.95 243.43h3.6v1.2h-3.6zM205.64 243.43h3.6v1.2h-3.6zM213.33 243.43h3.6v1.2h-3.6zM221.01 243.43h3.6v1.2h-3.6zM228.7 243.43h3.6v1.2h-3.6zM124.93 247.26h3.6v1.2h-3.6zM132.61 247.26h3.6v1.2h-3.6zM140.3 247.26h3.6v1.2h-3.6zM147.99 247.26h3.6v1.2h-3.6zM155.67 247.26h3.6v1.2h-3.6zM163.36 247.26h3.6v1.2h-3.6zM171.05 247.26h3.6v1.2h-3.6zM178.73 247.26h3.6v1.2h-3.6zM186.42 247.26h3.6v1.2h-3.6zM194.11 247.26h3.6v1.2h-3.6zM201.8 247.26h3.6v1.2h-3.6zM209.48 247.26h3.6v1.2h-3.6zM217.17 247.26h3.6v1.2h-3.6zM224.86 247.26h3.6v1.2h-3.6zM232.54 247.26h3.6v1.2h-3.6zM128.77 251.09h3.6v1.2h-3.6zM136.46 251.09h3.6v1.2h-3.6zM144.14 251.09h3.6v1.2h-3.6zM151.83 251.09h3.6v1.2h-3.6zM159.52 251.09h3.6v1.2h-3.6zM167.2 251.09h3.6v1.2h-3.6zM174.89 251.09h3.6v1.2h-3.6zM182.58 251.09h3.6v1.2h-3.6zM190.27 251.09h3.6v1.2h-3.6zM197.95 251.09h3.6v1.2h-3.6zM205.64 251.09h3.6v1.2h-3.6zM213.33 251.09h3.6v1.2h-3.6zM221.01 251.09h3.6v1.2h-3.6zM228.7 251.09h3.6v1.2h-3.6zM124.93 254.92h3.6v1.2h-3.6zM132.61 254.92h3.6v1.2h-3.6zM140.3 254.92h3.6v1.2h-3.6zM147.99 254.92h3.6v1.2h-3.6zM155.67 254.92h3.6v1.2h-3.6zM163.36 254.92h3.6v1.2h-3.6zM171.05 254.92h3.6v1.2h-3.6zM178.73 254.92h3.6v1.2h-3.6zM186.42 254.92h3.6v1.2h-3.6zM194.11 254.92h3.6v1.2h-3.6zM201.8 254.92h3.6v1.2h-3.6zM209.48 254.92h3.6v1.2h-3.6zM217.17 254.92h3.6v1.2h-3.6zM224.86 254.92h3.6v1.2h-3.6zM232.54 254.92h3.6v1.2h-3.6zM128.77 258.75h3.6v1.2h-3.6zM136.46 258.75h3.6v1.2h-3.6zM144.14 258.75h3.6v1.2h-3.6zM151.83 258.75h3.6v1.2h-3.6zM159.52 258.75h3.6v1.2h-3.6zM167.2 258.75h3.6v1.2h-3.6zM174.89 258.75h3.6v1.2h-3.6zM182.58 258.75h3.6v1.2h-3.6zM190.27 258.75h3.6v1.2h-3.6zM197.95 258.75h3.6v1.2h-3.6zM205.64 258.75h3.6v1.2h-3.6zM213.33 258.75h3.6v1.2h-3.6zM221.01 258.75h3.6v1.2h-3.6zM228.7 258.75h3.6v1.2h-3.6zM124.93 262.58h3.6v1.2h-3.6zM132.61 262.58h3.6v1.2h-3.6zM140.3 262.58h3.6v1.2h-3.6zM147.99 262.58h3.6v1.2h-3.6zM155.67 262.58h3.6v1.2h-3.6zM163.36 262.58h3.6v1.2h-3.6zM171.05 262.58h3.6v1.2h-3.6zM178.73 262.58h3.6v1.2h-3.6zM186.42 262.58h3.6v1.2h-3.6zM194.11 262.58h3.6v1.2h-3.6zM201.8 262.58h3.6v1.2h-3.6zM209.48 262.58h3.6v1.2h-3.6zM217.17 262.58h3.6v1.2h-3.6zM224.86 262.58h3.6v1.2h-3.6zM232.54 262.58h3.6v1.2h-3.6zM128.77 266.41h3.6v1.2h-3.6zM136.46 266.41h3.6v1.2h-3.6zM144.14 266.41h3.6v1.2h-3.6zM151.83 266.41h3.6v1.2h-3.6zM159.52 266.41h3.6v1.2h-3.6zM167.2 266.41h3.6v1.2h-3.6zM174.89 266.41h3.6v1.2h-3.6zM182.58 266.41h3.6v1.2h-3.6zM190.27 266.41h3.6v1.2h-3.6zM197.95 266.41h3.6v1.2h-3.6zM205.64 266.41h3.6v1.2h-3.6zM213.33 266.41h3.6v1.2h-3.6zM221.01 266.41h3.6v1.2h-3.6zM228.7 266.41h3.6v1.2h-3.6zM124.93 270.24h3.6v1.2h-3.6zM132.61 270.24h3.6v1.2h-3.6zM140.3 270.24h3.6v1.2h-3.6zM147.99 270.24h3.6v1.2h-3.6zM155.67 270.24h3.6v1.2h-3.6zM163.36 270.24h3.6v1.2h-3.6zM171.05 270.24h3.6v1.2h-3.6zM178.73 270.24h3.6v1.2h-3.6zM186.42 270.24h3.6v1.2h-3.6zM194.11 270.24h3.6v1.2h-3.6zM201.8 270.24h3.6v1.2h-3.6zM209.48 270.24h3.6v1.2h-3.6zM217.17 270.24h3.6v1.2h-3.6zM224.86 270.24h3.6v1.2h-3.6zM232.54 270.24h3.6v1.2h-3.6zM128.77 274.07h3.6v1.2h-3.6zM136.46 274.07h3.6v1.2h-3.6zM144.14 274.07h3.6v1.2h-3.6zM151.83 274.07h3.6v1.2h-3.6zM159.52 274.07h3.6v1.2h-3.6zM167.2 274.07h3.6v1.2h-3.6zM174.89 274.07h3.6v1.2h-3.6zM182.58 274.07h3.6v1.2h-3.6zM190.27 274.07h3.6v1.2h-3.6zM197.95 274.07h3.6v1.2h-3.6zM205.64 274.07h3.6v1.2h-3.6zM213.33 274.07h3.6v1.2h-3.6zM221.01 274.07h3.6v1.2h-3.6zM228.7 274.07h3.6v1.2h-3.6zM124.93 277.9h3.6v1.2h-3.6zM132.61 277.9h3.6v1.2h-3.6zM140.3 277.9h3.6v1.2h-3.6zM147.99 277.9h3.6v1.2h-3.6zM155.67 277.9h3.6v1.2h-3.6zM163.36 277.9h3.6v1.2h-3.6zM171.05 277.9h3.6v1.2h-3.6zM178.73 277.9h3.6v1.2h-3.6zM186.42 277.9h3.6v1.2h-3.6zM194.11 277.9h3.6v1.2h-3.6zM201.8 277.9h3.6v1.2h-3.6zM209.48 277.9h3.6v1.2h-3.6zM217.17 277.9h3.6v1.2h-3.6zM224.86 277.9h3.6v1.2h-3.6zM232.54 277.9h3.6v1.2h-3.6zM128.77 281.73h3.6v1.2h-3.6zM136.46 281.73h3.6v1.2h-3.6zM144.14 281.73h3.6v1.2h-3.6zM151.83 281.73h3.6v1.2h-3.6zM159.52 281.73h3.6v1.2h-3.6zM167.2 281.73h3.6v1.2h-3.6zM174.89 281.73h3.6v1.2h-3.6zM182.58 281.73h3.6v1.2h-3.6zM190.27 281.73h3.6v1.2h-3.6zM197.95 281.73h3.6v1.2h-3.6zM205.64 281.73h3.6v1.2h-3.6zM213.33 281.73h3.6v1.2h-3.6zM221.01 281.73h3.6v1.2h-3.6zM228.7 281.73h3.6v1.2h-3.6zM124.93 285.56h3.6v1.2h-3.6zM132.61 285.56h3.6v1.2h-3.6zM140.3 285.56h3.6v1.2h-3.6zM147.99 285.56h3.6v1.2h-3.6zM155.67 285.56h3.6v1.2h-3.6zM163.36 285.56h3.6v1.2h-3.6zM171.05 285.56h3.6v1.2h-3.6zM178.73 285.56h3.6v1.2h-3.6zM186.42 285.56h3.6v1.2h-3.6zM194.11 285.56h3.6v1.2h-3.6zM201.8 285.56h3.6v1.2h-3.6zM209.48 285.56h3.6v1.2h-3.6zM217.17 285.56h3.6v1.2h-3.6zM224.86 285.56h3.6v1.2h-3.6zM232.54 285.56h3.6v1.2h-3.6zM128.77 289.39h3.6v1.2h-3.6zM136.46 289.39h3.6v1.2h-3.6zM144.14 289.39h3.6v1.2h-3.6zM151.83 289.39h3.6v1.2h-3.6zM159.52 289.39h3.6v1.2h-3.6zM167.2 289.39h3.6v1.2h-3.6zM174.89 289.39h3.6v1.2h-3.6zM182.58 289.39h3.6v1.2h-3.6zM190.27 289.39h3.6v1.2h-3.6zM197.95 289.39h3.6v1.2h-3.6zM205.64 289.39h3.6v1.2h-3.6zM213.33 289.39h3.6v1.2h-3.6zM221.01 289.39h3.6v1.2h-3.6zM228.7 289.39h3.6v1.2h-3.6zM124.93 293.22h3.6v1.2h-3.6zM132.61 293.22h3.6v1.2h-3.6zM140.3 293.22h3.6v1.2h-3.6zM147.99 293.22h3.6v1.2h-3.6zM155.67 293.22h3.6v1.2h-3.6zM163.36 293.22h3.6v1.2h-3.6zM171.05 293.22h3.6v1.2h-3.6zM178.73 293.22h3.6v1.2h-3.6zM186.42 293.22h3.6v1.2h-3.6zM194.11 293.22h3.6v1.2h-3.6zM201.8 293.22h3.6v1.2h-3.6zM209.48 293.22h3.6v1.2h-3.6zM217.17 293.22h3.6v1.2h-3.6zM224.86 293.22h3.6v1.2h-3.6zM232.54 293.22h3.6v1.2h-3.6zM128.77 297.05h3.6v1.2h-3.6zM136.46 297.05h3.6v1.2h-3.6zM144.14 297.05h3.6v1.2h-3.6zM151.83 297.05h3.6v1.2h-3.6zM159.52 297.05h3.6v1.2h-3.6zM167.2 297.05h3.6v1.2h-3.6zM174.89 297.05h3.6v1.2h-3.6zM182.58 297.05h3.6v1.2h-3.6zM190.27 297.05h3.6v1.2h-3.6zM197.95 297.05h3.6v1.2h-3.6zM205.64 297.05h3.6v1.2h-3.6zM213.33 297.05h3.6v1.2h-3.6zM221.01 297.05h3.6v1.2h-3.6zM228.7 297.05h3.6v1.2h-3.6zM124.93 300.88h3.6v1.2h-3.6zM132.61 300.88h3.6v1.2h-3.6zM140.3 300.88h3.6v1.2h-3.6zM147.99 300.88h3.6v1.2h-3.6zM155.67 300.88h3.6v1.2h-3.6zM163.36 300.88h3.6v1.2h-3.6zM171.05 300.88h3.6v1.2h-3.6zM178.73 300.88h3.6v1.2h-3.6zM186.42 300.88h3.6v1.2h-3.6zM194.11 300.88h3.6v1.2h-3.6zM201.8 300.88h3.6v1.2h-3.6zM209.48 300.88h3.6v1.2h-3.6zM217.17 300.88h3.6v1.2h-3.6zM224.86 300.88h3.6v1.2h-3.6zM232.54 300.88h3.6v1.2h-3.6zM128.77 304.7h3.6v1.2h-3.6zM136.46 304.7h3.6v1.2h-3.6zM144.14 304.7h3.6v1.2h-3.6zM151.83 304.7h3.6v1.2h-3.6zM159.52 304.7h3.6v1.2h-3.6zM167.2 304.7h3.6v1.2h-3.6zM174.89 304.7h3.6v1.2h-3.6zM182.58 304.7h3.6v1.2h-3.6zM190.27 304.7h3.6v1.2h-3.6zM197.95 304.7h3.6v1.2h-3.6zM205.64 304.7h3.6v1.2h-3.6zM213.33 304.7h3.6v1.2h-3.6zM221.01 304.7h3.6v1.2h-3.6zM228.7 304.7h3.6v1.2h-3.6zM124.93 308.53h3.6v1.2h-3.6zM132.61 308.53h3.6v1.2h-3.6zM140.3 308.53h3.6v1.2h-3.6zM147.99 308.53h3.6v1.2h-3.6zM155.67 308.53h3.6v1.2h-3.6zM163.36 308.53h3.6v1.2h-3.6zM171.05 308.53h3.6v1.2h-3.6zM178.73 308.53h3.6v1.2h-3.6zM186.42 308.53h3.6v1.2h-3.6zM194.11 308.53h3.6v1.2h-3.6zM201.8 308.53h3.6v1.2h-3.6zM209.48 308.53h3.6v1.2h-3.6zM217.17 308.53h3.6v1.2h-3.6zM224.86 308.53h3.6v1.2h-3.6zM232.54 308.53h3.6v1.2h-3.6zM128.77 312.36h3.6v1.2h-3.6zM136.46 312.36h3.6v1.2h-3.6zM144.14 312.36h3.6v1.2h-3.6zM151.83 312.36h3.6v1.2h-3.6zM159.52 312.36h3.6v1.2h-3.6zM167.2 312.36h3.6v1.2h-3.6zM174.89 312.36h3.6v1.2h-3.6zM182.58 312.36h3.6v1.2h-3.6zM190.27 312.36h3.6v1.2h-3.6zM197.95 312.36h3.6v1.2h-3.6zM205.64 312.36h3.6v1.2h-3.6zM213.33 312.36h3.6v1.2h-3.6zM221.01 312.36h3.6v1.2h-3.6zM228.7 312.36h3.6v1.2h-3.6zM124.93 316.19h3.6v1.2h-3.6zM132.61 316.19h3.6v1.2h-3.6zM140.3 316.19h3.6v1.2h-3.6zM147.99 316.19h3.6v1.2h-3.6zM155.67 316.19h3.6v1.2h-3.6zM163.36 316.19h3.6v1.2h-3.6zM171.05 316.19h3.6v1.2h-3.6zM178.73 316.19h3.6v1.2h-3.6zM186.42 316.19h3.6v1.2h-3.6zM194.11 316.19h3.6v1.2h-3.6zM201.8 316.19h3.6v1.2h-3.6zM209.48 316.19h3.6v1.2h-3.6zM217.17 316.19h3.6v1.2h-3.6zM224.86 316.19h3.6v1.2h-3.6zM232.54 316.19h3.6v1.2h-3.6zM128.77 320.02h3.6v1.2h-3.6zM136.46 320.02h3.6v1.2h-3.6zM144.14 320.02h3.6v1.2h-3.6zM151.83 320.02h3.6v1.2h-3.6zM159.52 320.02h3.6v1.2h-3.6zM167.2 320.02h3.6v1.2h-3.6zM174.89 320.02h3.6v1.2h-3.6zM182.58 320.02h3.6v1.2h-3.6zM190.27 320.02h3.6v1.2h-3.6zM197.95 320.02h3.6v1.2h-3.6zM205.64 320.02h3.6v1.2h-3.6zM213.33 320.02h3.6v1.2h-3.6zM221.01 320.02h3.6v1.2h-3.6zM228.7 320.02h3.6v1.2h-3.6zM124.93 323.85h3.6v1.2h-3.6zM132.61 323.85h3.6v1.2h-3.6zM140.3 323.85h3.6v1.2h-3.6zM147.99 323.85h3.6v1.2h-3.6zM155.67 323.85h3.6v1.2h-3.6zM163.36 323.85h3.6v1.2h-3.6zM171.05 323.85h3.6v1.2h-3.6zM178.73 323.85h3.6v1.2h-3.6zM186.42 323.85h3.6v1.2h-3.6zM194.11 323.85h3.6v1.2h-3.6zM201.8 323.85h3.6v1.2h-3.6zM209.48 323.85h3.6v1.2h-3.6zM217.17 323.85h3.6v1.2h-3.6zM224.86 323.85h3.6v1.2h-3.6zM232.54 323.85h3.6v1.2h-3.6zM128.77 327.68h3.6v1.2h-3.6zM136.46 327.68h3.6v1.2h-3.6zM144.14 327.68h3.6v1.2h-3.6zM151.83 327.68h3.6v1.2h-3.6zM159.52 327.68h3.6v1.2h-3.6zM167.2 327.68h3.6v1.2h-3.6zM174.89 327.68h3.6v1.2h-3.6zM182.58 327.68h3.6v1.2h-3.6zM190.27 327.68h3.6v1.2h-3.6zM197.95 327.68h3.6v1.2h-3.6zM205.64 327.68h3.6v1.2h-3.6zM213.33 327.68h3.6v1.2h-3.6zM221.01 327.68h3.6v1.2h-3.6zM228.7 327.68h3.6v1.2h-3.6zM124.93 331.51h3.6v1.2h-3.6zM132.61 331.51h3.6v1.2h-3.6zM140.3 331.51h3.6v1.2h-3.6zM147.99 331.51h3.6v1.2h-3.6zM155.67 331.51h3.6v1.2h-3.6zM163.36 331.51h3.6v1.2h-3.6zM171.05 331.51h3.6v1.2h-3.6zM178.73 331.51h3.6v1.2h-3.6zM186.42 331.51h3.6v1.2h-3.6zM194.11 331.51h3.6v1.2h-3.6zM201.8 331.51h3.6v1.2h-3.6zM209.48 331.51h3.6v1.2h-3.6zM217.17 331.51h3.6v1.2h-3.6zM224.86 331.51h3.6v1.2h-3.6zM232.54 331.51h3.6v1.2h-3.6zM128.77 335.34h3.6v1.2h-3.6zM136.46 335.34h3.6v1.2h-3.6zM144.14 335.34h3.6v1.2h-3.6zM151.83 335.34h3.6v1.2h-3.6zM159.52 335.34h3.6v1.2h-3.6zM167.2 335.34h3.6v1.2h-3.6zM174.89 335.34h3.6v1.2h-3.6zM182.58 335.34h3.6v1.2h-3.6zM190.27 335.34h3.6v1.2h-3.6zM197.95 335.34h3.6v1.2h-3.6zM205.64 335.34h3.6v1.2h-3.6zM213.33 335.34h3.6v1.2h-3.6zM221.01 335.34h3.6v1.2h-3.6zM228.7 335.34h3.6v1.2h-3.6zM124.93 339.17h3.6v1.2h-3.6zM132.61 339.17h3.6v1.2h-3.6zM140.3 339.17h3.6v1.2h-3.6zM147.99 339.17h3.6v1.2h-3.6zM155.67 339.17h3.6v1.2h-3.6zM163.36 339.17h3.6v1.2h-3.6zM171.05 339.17h3.6v1.2h-3.6zM178.73 339.17h3.6v1.2h-3.6zM186.42 339.17h3.6v1.2h-3.6zM194.11 339.17h3.6v1.2h-3.6zM201.8 339.17h3.6v1.2h-3.6zM209.48 339.17h3.6v1.2h-3.6zM217.17 339.17h3.6v1.2h-3.6zM224.86 339.17h3.6v1.2h-3.6zM232.54 339.17h3.6v1.2h-3.6zM128.77 343h3.6v1.2h-3.6zM136.46 343h3.6v1.2h-3.6zM144.14 343h3.6v1.2h-3.6zM151.83 343h3.6v1.2h-3.6zM159.52 343h3.6v1.2h-3.6zM167.2 343h3.6v1.2h-3.6zM174.89 343h3.6v1.2h-3.6zM182.58 343h3.6v1.2h-3.6zM190.27 343h3.6v1.2h-3.6zM197.95 343h3.6v1.2h-3.6zM205.64 343h3.6v1.2h-3.6zM213.33 343h3.6v1.2h-3.6zM221.01 343h3.6v1.2h-3.6zM228.7 343h3.6v1.2h-3.6zM124.93 346.83h3.6v1.2h-3.6zM132.61 346.83h3.6v1.2h-3.6zM140.3 346.83h3.6v1.2h-3.6zM147.99 346.83h3.6v1.2h-3.6zM155.67 346.83h3.6v1.2h-3.6zM163.36 346.83h3.6v1.2h-3.6zM171.05 346.83h3.6v1.2h-3.6zM178.73 346.83h3.6v1.2h-3.6zM186.42 346.83h3.6v1.2h-3.6zM194.11 346.83h3.6v1.2h-3.6zM201.8 346.83h3.6v1.2h-3.6zM209.48 346.83h3.6v1.2h-3.6zM217.17 346.83h3.6v1.2h-3.6zM224.86 346.83h3.6v1.2h-3.6zM232.54 346.83h3.6v1.2h-3.6zM128.77 350.66h3.6v1.2h-3.6zM136.46 350.66h3.6v1.2h-3.6zM144.14 350.66h3.6v1.2h-3.6zM151.83 350.66h3.6v1.2h-3.6zM159.52 350.66h3.6v1.2h-3.6zM167.2 350.66h3.6v1.2h-3.6zM174.89 350.66h3.6v1.2h-3.6zM182.58 350.66h3.6v1.2h-3.6zM190.27 350.66h3.6v1.2h-3.6zM197.95 350.66h3.6v1.2h-3.6zM205.64 350.66h3.6v1.2h-3.6zM213.33 350.66h3.6v1.2h-3.6zM221.01 350.66h3.6v1.2h-3.6zM228.7 350.66h3.6v1.2h-3.6zM124.93 354.49h3.6v1.2h-3.6zM132.61 354.49h3.6v1.2h-3.6zM140.3 354.49h3.6v1.2h-3.6zM147.99 354.49h3.6v1.2h-3.6zM155.67 354.49h3.6v1.2h-3.6zM163.36 354.49h3.6v1.2h-3.6zM171.05 354.49h3.6v1.2h-3.6zM178.73 354.49h3.6v1.2h-3.6zM186.42 354.49h3.6v1.2h-3.6zM194.11 354.49h3.6v1.2h-3.6zM201.8 354.49h3.6v1.2h-3.6zM209.48 354.49h3.6v1.2h-3.6zM217.17 354.49h3.6v1.2h-3.6zM224.86 354.49h3.6v1.2h-3.6zM232.54 354.49h3.6v1.2h-3.6zM128.77 358.32h3.6v1.2h-3.6zM136.46 358.32h3.6v1.2h-3.6zM144.14 358.32h3.6v1.2h-3.6zM151.83 358.32h3.6v1.2h-3.6zM159.52 358.32h3.6v1.2h-3.6zM167.2 358.32h3.6v1.2h-3.6zM174.89 358.32h3.6v1.2h-3.6zM182.58 358.32h3.6v1.2h-3.6zM190.27 358.32h3.6v1.2h-3.6zM197.95 358.32h3.6v1.2h-3.6zM205.64 358.32h3.6v1.2h-3.6zM213.33 358.32h3.6v1.2h-3.6zM221.01 358.32h3.6v1.2h-3.6zM228.7 358.32h3.6v1.2h-3.6zM124.93 362.15h3.6v1.2h-3.6zM132.61 362.15h3.6v1.2h-3.6zM140.3 362.15h3.6v1.2h-3.6zM147.99 362.15h3.6v1.2h-3.6zM155.67 362.15h3.6v1.2h-3.6zM163.36 362.15h3.6v1.2h-3.6zM171.05 362.15h3.6v1.2h-3.6zM178.73 362.15h3.6v1.2h-3.6zM186.42 362.15h3.6v1.2h-3.6zM194.11 362.15h3.6v1.2h-3.6zM201.8 362.15h3.6v1.2h-3.6zM209.48 362.15h3.6v1.2h-3.6zM217.17 362.15h3.6v1.2h-3.6zM224.86 362.15h3.6v1.2h-3.6zM232.54 362.15h3.6v1.2h-3.6zM128.77 365.98h3.6v1.2h-3.6zM136.46 365.98h3.6v1.2h-3.6zM144.14 365.98h3.6v1.2h-3.6zM151.83 365.98h3.6v1.2h-3.6zM159.52 365.98h3.6v1.2h-3.6zM167.2 365.98h3.6v1.2h-3.6zM174.89 365.98h3.6v1.2h-3.6zM182.58 365.98h3.6v1.2h-3.6zM190.27 365.98h3.6v1.2h-3.6zM197.95 365.98h3.6v1.2h-3.6zM205.64 365.98h3.6v1.2h-3.6zM213.33 365.98h3.6v1.2h-3.6zM221.01 365.98h3.6v1.2h-3.6zM228.7 365.98h3.6v1.2h-3.6zM124.93 369.81h3.6v1.2h-3.6zM132.61 369.81h3.6v1.2h-3.6zM140.3 369.81h3.6v1.2h-3.6zM147.99 369.81h3.6v1.2h-3.6zM155.67 369.81h3.6v1.2h-3.6zM163.36 369.81h3.6v1.2h-3.6zM171.05 369.81h3.6v1.2h-3.6zM178.73 369.81h3.6v1.2h-3.6zM186.42 369.81h3.6v1.2h-3.6zM194.11 369.81h3.6v1.2h-3.6zM201.8 369.81h3.6v1.2h-3.6zM209.48 369.81h3.6v1.2h-3.6zM217.17 369.81h3.6v1.2h-3.6zM224.86 369.81h3.6v1.2h-3.6zM232.54 369.81h3.6v1.2h-3.6zM128.77 373.64h3.6v1.2h-3.6zM136.46 373.64h3.6v1.2h-3.6zM144.14 373.64h3.6v1.2h-3.6zM151.83 373.64h3.6v1.2h-3.6zM159.52 373.64h3.6v1.2h-3.6zM167.2 373.64h3.6v1.2h-3.6zM174.89 373.64h3.6v1.2h-3.6zM182.58 373.64h3.6v1.2h-3.6zM190.27 373.64h3.6v1.2h-3.6zM197.95 373.64h3.6v1.2h-3.6zM205.64 373.64h3.6v1.2h-3.6zM213.33 373.64h3.6v1.2h-3.6zM221.01 373.64h3.6v1.2h-3.6zM228.7 373.64h3.6v1.2h-3.6zM124.93 377.46h3.6v1.2h-3.6zM132.61 377.46h3.6v1.2h-3.6zM140.3 377.46h3.6v1.2h-3.6zM147.99 377.46h3.6v1.2h-3.6zM155.67 377.46h3.6v1.2h-3.6zM163.36 377.46h3.6v1.2h-3.6zM171.05 377.46h3.6v1.2h-3.6zM178.73 377.46h3.6v1.2h-3.6zM186.42 377.46h3.6v1.2h-3.6zM194.11 377.46h3.6v1.2h-3.6zM201.8 377.46h3.6v1.2h-3.6zM209.48 377.46h3.6v1.2h-3.6zM217.17 377.46h3.6v1.2h-3.6zM224.86 377.46h3.6v1.2h-3.6zM232.54 377.46h3.6v1.2h-3.6zM128.77 381.29h3.6v1.2h-3.6zM136.46 381.29h3.6v1.2h-3.6zM144.14 381.29h3.6v1.2h-3.6zM151.83 381.29h3.6v1.2h-3.6zM159.52 381.29h3.6v1.2h-3.6zM167.2 381.29h3.6v1.2h-3.6zM174.89 381.29h3.6v1.2h-3.6zM182.58 381.29h3.6v1.2h-3.6zM190.27 381.29h3.6v1.2h-3.6zM197.95 381.29h3.6v1.2h-3.6zM205.64 381.29h3.6v1.2h-3.6zM213.33 381.29h3.6v1.2h-3.6zM221.01 381.29h3.6v1.2h-3.6zM228.7 381.29h3.6v1.2h-3.6zM124.93 385.12h3.6v1.2h-3.6zM132.61 385.12h3.6v1.2h-3.6zM140.3 385.12h3.6v1.2h-3.6zM147.99 385.12h3.6v1.2h-3.6zM155.67 385.12h3.6v1.2h-3.6zM163.36 385.12h3.6v1.2h-3.6zM171.05 385.12h3.6v1.2h-3.6zM178.73 385.12h3.6v1.2h-3.6zM186.42 385.12h3.6v1.2h-3.6zM194.11 385.12h3.6v1.2h-3.6zM201.8 385.12h3.6v1.2h-3.6zM209.48 385.12h3.6v1.2h-3.6zM217.17 385.12h3.6v1.2h-3.6zM224.86 385.12h3.6v1.2h-3.6zM232.54 385.12h3.6v1.2h-3.6z"/>
<path d="M137.12 106.3H224.4V378.8H137.12" stroke="#161616" stroke-width="1.15" fill="none" stroke-linejoin="miter"/>
<rect x="137.2" y="470.9" width="87.7" height="2.2" fill="#3f82b8"/>
<clipPath id="c3"><rect x="280.7" y="328.2" width="86.2" height="144"/></clipPath>
<rect x="281.7" y="328.2" width="86.2" height="144" fill="#84D2FB"/>
<path d="M281.7 328.77V471.62" stroke="#161616" stroke-width="1.15" fill="none"/>
<path clip-path="url(#c3)" fill="none" stroke="#0a1a24" stroke-opacity="0.8" stroke-width="1.18" d="M274.47 318.03l3.7 3.7M278.31 318.03l3.7 3.7M282.16 318.03l3.7 3.7M286 318.03l3.7 3.7M289.84 318.03l3.7 3.7M293.69 318.03l3.7 3.7M297.53 318.03l3.7 3.7M301.37 318.03l3.7 3.7M305.22 318.03l3.7 3.7M309.06 318.03l3.7 3.7M312.9 318.03l3.7 3.7M316.75 318.03l3.7 3.7M320.59 318.03l3.7 3.7M324.44 318.03l3.7 3.7M328.28 318.03l3.7 3.7M332.12 318.03l3.7 3.7M335.97 318.03l3.7 3.7M339.81 318.03l3.7 3.7M343.65 318.03l3.7 3.7M347.5 318.03l3.7 3.7M351.34 318.03l3.7 3.7M355.18 318.03l3.7 3.7M359.03 318.03l3.7 3.7M362.87 318.03l3.7 3.7M366.71 318.03l3.7 3.7M370.56 318.03l3.7 3.7M274.47 325.69l3.7 3.7M278.31 325.69l3.7 3.7M282.16 325.69l3.7 3.7M286 325.69l3.7 3.7M289.84 325.69l3.7 3.7M293.69 325.69l3.7 3.7M297.53 325.69l3.7 3.7M301.37 325.69l3.7 3.7M305.22 325.69l3.7 3.7M309.06 325.69l3.7 3.7M312.9 325.69l3.7 3.7M316.75 325.69l3.7 3.7M320.59 325.69l3.7 3.7M324.44 325.69l3.7 3.7M328.28 325.69l3.7 3.7M332.12 325.69l3.7 3.7M335.97 325.69l3.7 3.7M339.81 325.69l3.7 3.7M343.65 325.69l3.7 3.7M347.5 325.69l3.7 3.7M351.34 325.69l3.7 3.7M355.18 325.69l3.7 3.7M359.03 325.69l3.7 3.7M362.87 325.69l3.7 3.7M366.71 325.69l3.7 3.7M370.56 325.69l3.7 3.7M274.47 333.35l3.7 3.7M278.31 333.35l3.7 3.7M282.16 333.35l3.7 3.7M286 333.35l3.7 3.7M289.84 333.35l3.7 3.7M293.69 333.35l3.7 3.7M297.53 333.35l3.7 3.7M301.37 333.35l3.7 3.7M305.22 333.35l3.7 3.7M309.06 333.35l3.7 3.7M312.9 333.35l3.7 3.7M316.75 333.35l3.7 3.7M320.59 333.35l3.7 3.7M324.44 333.35l3.7 3.7M328.28 333.35l3.7 3.7M332.12 333.35l3.7 3.7M335.97 333.35l3.7 3.7M339.81 333.35l3.7 3.7M343.65 333.35l3.7 3.7M347.5 333.35l3.7 3.7M351.34 333.35l3.7 3.7M355.18 333.35l3.7 3.7M359.03 333.35l3.7 3.7M362.87 333.35l3.7 3.7M366.71 333.35l3.7 3.7M370.56 333.35l3.7 3.7M274.47 341.01l3.7 3.7M278.31 341.01l3.7 3.7M282.16 341.01l3.7 3.7M286 341.01l3.7 3.7M289.84 341.01l3.7 3.7M293.69 341.01l3.7 3.7M297.53 341.01l3.7 3.7M301.37 341.01l3.7 3.7M305.22 341.01l3.7 3.7M309.06 341.01l3.7 3.7M312.9 341.01l3.7 3.7M316.75 341.01l3.7 3.7M320.59 341.01l3.7 3.7M324.44 341.01l3.7 3.7M328.28 341.01l3.7 3.7M332.12 341.01l3.7 3.7M335.97 341.01l3.7 3.7M339.81 341.01l3.7 3.7M343.65 341.01l3.7 3.7M347.5 341.01l3.7 3.7M351.34 341.01l3.7 3.7M355.18 341.01l3.7 3.7M359.03 341.01l3.7 3.7M362.87 341.01l3.7 3.7M366.71 341.01l3.7 3.7M370.56 341.01l3.7 3.7M274.47 348.67l3.7 3.7M278.31 348.67l3.7 3.7M282.16 348.67l3.7 3.7M286 348.67l3.7 3.7M289.84 348.67l3.7 3.7M293.69 348.67l3.7 3.7M297.53 348.67l3.7 3.7M301.37 348.67l3.7 3.7M305.22 348.67l3.7 3.7M309.06 348.67l3.7 3.7M312.9 348.67l3.7 3.7M316.75 348.67l3.7 3.7M320.59 348.67l3.7 3.7M324.44 348.67l3.7 3.7M328.28 348.67l3.7 3.7M332.12 348.67l3.7 3.7M335.97 348.67l3.7 3.7M339.81 348.67l3.7 3.7M343.65 348.67l3.7 3.7M347.5 348.67l3.7 3.7M351.34 348.67l3.7 3.7M355.18 348.67l3.7 3.7M359.03 348.67l3.7 3.7M362.87 348.67l3.7 3.7M366.71 348.67l3.7 3.7M370.56 348.67l3.7 3.7M274.47 356.33l3.7 3.7M278.31 356.33l3.7 3.7M282.16 356.33l3.7 3.7M286 356.33l3.7 3.7M289.84 356.33l3.7 3.7M293.69 356.33l3.7 3.7M297.53 356.33l3.7 3.7M301.37 356.33l3.7 3.7M305.22 356.33l3.7 3.7M309.06 356.33l3.7 3.7M312.9 356.33l3.7 3.7M316.75 356.33l3.7 3.7M320.59 356.33l3.7 3.7M324.44 356.33l3.7 3.7M328.28 356.33l3.7 3.7M332.12 356.33l3.7 3.7M335.97 356.33l3.7 3.7M339.81 356.33l3.7 3.7M343.65 356.33l3.7 3.7M347.5 356.33l3.7 3.7M351.34 356.33l3.7 3.7M355.18 356.33l3.7 3.7M359.03 356.33l3.7 3.7M362.87 356.33l3.7 3.7M366.71 356.33l3.7 3.7M370.56 356.33l3.7 3.7M274.47 363.99l3.7 3.7M278.31 363.99l3.7 3.7M282.16 363.99l3.7 3.7M286 363.99l3.7 3.7M289.84 363.99l3.7 3.7M293.69 363.99l3.7 3.7M297.53 363.99l3.7 3.7M301.37 363.99l3.7 3.7M305.22 363.99l3.7 3.7M309.06 363.99l3.7 3.7M312.9 363.99l3.7 3.7M316.75 363.99l3.7 3.7M320.59 363.99l3.7 3.7M324.44 363.99l3.7 3.7M328.28 363.99l3.7 3.7M332.12 363.99l3.7 3.7M335.97 363.99l3.7 3.7M339.81 363.99l3.7 3.7M343.65 363.99l3.7 3.7M347.5 363.99l3.7 3.7M351.34 363.99l3.7 3.7M355.18 363.99l3.7 3.7M359.03 363.99l3.7 3.7M362.87 363.99l3.7 3.7M366.71 363.99l3.7 3.7M370.56 363.99l3.7 3.7M274.47 371.64l3.7 3.7M278.31 371.64l3.7 3.7M282.16 371.64l3.7 3.7M286 371.64l3.7 3.7M289.84 371.64l3.7 3.7M293.69 371.64l3.7 3.7M297.53 371.64l3.7 3.7M301.37 371.64l3.7 3.7M305.22 371.64l3.7 3.7M309.06 371.64l3.7 3.7M312.9 371.64l3.7 3.7M316.75 371.64l3.7 3.7M320.59 371.64l3.7 3.7M324.44 371.64l3.7 3.7M328.28 371.64l3.7 3.7M332.12 371.64l3.7 3.7M335.97 371.64l3.7 3.7M339.81 371.64l3.7 3.7M343.65 371.64l3.7 3.7M347.5 371.64l3.7 3.7M351.34 371.64l3.7 3.7M355.18 371.64l3.7 3.7M359.03 371.64l3.7 3.7M362.87 371.64l3.7 3.7M366.71 371.64l3.7 3.7M370.56 371.64l3.7 3.7M274.47 379.3l3.7 3.7M278.31 379.3l3.7 3.7M282.16 379.3l3.7 3.7M286 379.3l3.7 3.7M289.84 379.3l3.7 3.7M293.69 379.3l3.7 3.7M297.53 379.3l3.7 3.7M301.37 379.3l3.7 3.7M305.22 379.3l3.7 3.7M309.06 379.3l3.7 3.7M312.9 379.3l3.7 3.7M316.75 379.3l3.7 3.7M320.59 379.3l3.7 3.7M324.44 379.3l3.7 3.7M328.28 379.3l3.7 3.7M332.12 379.3l3.7 3.7M335.97 379.3l3.7 3.7M339.81 379.3l3.7 3.7M343.65 379.3l3.7 3.7M347.5 379.3l3.7 3.7M351.34 379.3l3.7 3.7M355.18 379.3l3.7 3.7M359.03 379.3l3.7 3.7M362.87 379.3l3.7 3.7M366.71 379.3l3.7 3.7M370.56 379.3l3.7 3.7M274.47 386.96l3.7 3.7M278.31 386.96l3.7 3.7M282.16 386.96l3.7 3.7M286 386.96l3.7 3.7M289.84 386.96l3.7 3.7M293.69 386.96l3.7 3.7M297.53 386.96l3.7 3.7M301.37 386.96l3.7 3.7M305.22 386.96l3.7 3.7M309.06 386.96l3.7 3.7M312.9 386.96l3.7 3.7M316.75 386.96l3.7 3.7M320.59 386.96l3.7 3.7M324.44 386.96l3.7 3.7M328.28 386.96l3.7 3.7M332.12 386.96l3.7 3.7M335.97 386.96l3.7 3.7M339.81 386.96l3.7 3.7M343.65 386.96l3.7 3.7M347.5 386.96l3.7 3.7M351.34 386.96l3.7 3.7M355.18 386.96l3.7 3.7M359.03 386.96l3.7 3.7M362.87 386.96l3.7 3.7M366.71 386.96l3.7 3.7M370.56 386.96l3.7 3.7M274.47 394.62l3.7 3.7M278.31 394.62l3.7 3.7M282.16 394.62l3.7 3.7M286 394.62l3.7 3.7M289.84 394.62l3.7 3.7M293.69 394.62l3.7 3.7M297.53 394.62l3.7 3.7M301.37 394.62l3.7 3.7M305.22 394.62l3.7 3.7M309.06 394.62l3.7 3.7M312.9 394.62l3.7 3.7M316.75 394.62l3.7 3.7M320.59 394.62l3.7 3.7M324.44 394.62l3.7 3.7M328.28 394.62l3.7 3.7M332.12 394.62l3.7 3.7M335.97 394.62l3.7 3.7M339.81 394.62l3.7 3.7M343.65 394.62l3.7 3.7M347.5 394.62l3.7 3.7M351.34 394.62l3.7 3.7M355.18 394.62l3.7 3.7M359.03 394.62l3.7 3.7M362.87 394.62l3.7 3.7M366.71 394.62l3.7 3.7M370.56 394.62l3.7 3.7M274.47 402.28l3.7 3.7M278.31 402.28l3.7 3.7M282.16 402.28l3.7 3.7M286 402.28l3.7 3.7M289.84 402.28l3.7 3.7M293.69 402.28l3.7 3.7M297.53 402.28l3.7 3.7M301.37 402.28l3.7 3.7M305.22 402.28l3.7 3.7M309.06 402.28l3.7 3.7M312.9 402.28l3.7 3.7M316.75 402.28l3.7 3.7M320.59 402.28l3.7 3.7M324.44 402.28l3.7 3.7M328.28 402.28l3.7 3.7M332.12 402.28l3.7 3.7M335.97 402.28l3.7 3.7M339.81 402.28l3.7 3.7M343.65 402.28l3.7 3.7M347.5 402.28l3.7 3.7M351.34 402.28l3.7 3.7M355.18 402.28l3.7 3.7M359.03 402.28l3.7 3.7M362.87 402.28l3.7 3.7M366.71 402.28l3.7 3.7M370.56 402.28l3.7 3.7M274.47 409.94l3.7 3.7M278.31 409.94l3.7 3.7M282.16 409.94l3.7 3.7M286 409.94l3.7 3.7M289.84 409.94l3.7 3.7M293.69 409.94l3.7 3.7M297.53 409.94l3.7 3.7M301.37 409.94l3.7 3.7M305.22 409.94l3.7 3.7M309.06 409.94l3.7 3.7M312.9 409.94l3.7 3.7M316.75 409.94l3.7 3.7M320.59 409.94l3.7 3.7M324.44 409.94l3.7 3.7M328.28 409.94l3.7 3.7M332.12 409.94l3.7 3.7M335.97 409.94l3.7 3.7M339.81 409.94l3.7 3.7M343.65 409.94l3.7 3.7M347.5 409.94l3.7 3.7M351.34 409.94l3.7 3.7M355.18 409.94l3.7 3.7M359.03 409.94l3.7 3.7M362.87 409.94l3.7 3.7M366.71 409.94l3.7 3.7M370.56 409.94l3.7 3.7M274.47 417.6l3.7 3.7M278.31 417.6l3.7 3.7M282.16 417.6l3.7 3.7M286 417.6l3.7 3.7M289.84 417.6l3.7 3.7M293.69 417.6l3.7 3.7M297.53 417.6l3.7 3.7M301.37 417.6l3.7 3.7M305.22 417.6l3.7 3.7M309.06 417.6l3.7 3.7M312.9 417.6l3.7 3.7M316.75 417.6l3.7 3.7M320.59 417.6l3.7 3.7M324.44 417.6l3.7 3.7M328.28 417.6l3.7 3.7M332.12 417.6l3.7 3.7M335.97 417.6l3.7 3.7M339.81 417.6l3.7 3.7M343.65 417.6l3.7 3.7M347.5 417.6l3.7 3.7M351.34 417.6l3.7 3.7M355.18 417.6l3.7 3.7M359.03 417.6l3.7 3.7M362.87 417.6l3.7 3.7M366.71 417.6l3.7 3.7M370.56 417.6l3.7 3.7M274.47 425.26l3.7 3.7M278.31 425.26l3.7 3.7M282.16 425.26l3.7 3.7M286 425.26l3.7 3.7M289.84 425.26l3.7 3.7M293.69 425.26l3.7 3.7M297.53 425.26l3.7 3.7M301.37 425.26l3.7 3.7M305.22 425.26l3.7 3.7M309.06 425.26l3.7 3.7M312.9 425.26l3.7 3.7M316.75 425.26l3.7 3.7M320.59 425.26l3.7 3.7M324.44 425.26l3.7 3.7M328.28 425.26l3.7 3.7M332.12 425.26l3.7 3.7M335.97 425.26l3.7 3.7M339.81 425.26l3.7 3.7M343.65 425.26l3.7 3.7M347.5 425.26l3.7 3.7M351.34 425.26l3.7 3.7M355.18 425.26l3.7 3.7M359.03 425.26l3.7 3.7M362.87 425.26l3.7 3.7M366.71 425.26l3.7 3.7M370.56 425.26l3.7 3.7M274.47 432.92l3.7 3.7M278.31 432.92l3.7 3.7M282.16 432.92l3.7 3.7M286 432.92l3.7 3.7M289.84 432.92l3.7 3.7M293.69 432.92l3.7 3.7M297.53 432.92l3.7 3.7M301.37 432.92l3.7 3.7M305.22 432.92l3.7 3.7M309.06 432.92l3.7 3.7M312.9 432.92l3.7 3.7M316.75 432.92l3.7 3.7M320.59 432.92l3.7 3.7M324.44 432.92l3.7 3.7M328.28 432.92l3.7 3.7M332.12 432.92l3.7 3.7M335.97 432.92l3.7 3.7M339.81 432.92l3.7 3.7M343.65 432.92l3.7 3.7M347.5 432.92l3.7 3.7M351.34 432.92l3.7 3.7M355.18 432.92l3.7 3.7M359.03 432.92l3.7 3.7M362.87 432.92l3.7 3.7M366.71 432.92l3.7 3.7M370.56 432.92l3.7 3.7M274.47 440.58l3.7 3.7M278.31 440.58l3.7 3.7M282.16 440.58l3.7 3.7M286 440.58l3.7 3.7M289.84 440.58l3.7 3.7M293.69 440.58l3.7 3.7M297.53 440.58l3.7 3.7M301.37 440.58l3.7 3.7M305.22 440.58l3.7 3.7M309.06 440.58l3.7 3.7M312.9 440.58l3.7 3.7M316.75 440.58l3.7 3.7M320.59 440.58l3.7 3.7M324.44 440.58l3.7 3.7M328.28 440.58l3.7 3.7M332.12 440.58l3.7 3.7M335.97 440.58l3.7 3.7M339.81 440.58l3.7 3.7M343.65 440.58l3.7 3.7M347.5 440.58l3.7 3.7M351.34 440.58l3.7 3.7M355.18 440.58l3.7 3.7M359.03 440.58l3.7 3.7M362.87 440.58l3.7 3.7M366.71 440.58l3.7 3.7M370.56 440.58l3.7 3.7M274.47 448.23l3.7 3.7M278.31 448.23l3.7 3.7M282.16 448.23l3.7 3.7M286 448.23l3.7 3.7M289.84 448.23l3.7 3.7M293.69 448.23l3.7 3.7M297.53 448.23l3.7 3.7M301.37 448.23l3.7 3.7M305.22 448.23l3.7 3.7M309.06 448.23l3.7 3.7M312.9 448.23l3.7 3.7M316.75 448.23l3.7 3.7M320.59 448.23l3.7 3.7M324.44 448.23l3.7 3.7M328.28 448.23l3.7 3.7M332.12 448.23l3.7 3.7M335.97 448.23l3.7 3.7M339.81 448.23l3.7 3.7M343.65 448.23l3.7 3.7M347.5 448.23l3.7 3.7M351.34 448.23l3.7 3.7M355.18 448.23l3.7 3.7M359.03 448.23l3.7 3.7M362.87 448.23l3.7 3.7M366.71 448.23l3.7 3.7M370.56 448.23l3.7 3.7M274.47 455.89l3.7 3.7M278.31 455.89l3.7 3.7M282.16 455.89l3.7 3.7M286 455.89l3.7 3.7M289.84 455.89l3.7 3.7M293.69 455.89l3.7 3.7M297.53 455.89l3.7 3.7M301.37 455.89l3.7 3.7M305.22 455.89l3.7 3.7M309.06 455.89l3.7 3.7M312.9 455.89l3.7 3.7M316.75 455.89l3.7 3.7M320.59 455.89l3.7 3.7M324.44 455.89l3.7 3.7M328.28 455.89l3.7 3.7M332.12 455.89l3.7 3.7M335.97 455.89l3.7 3.7M339.81 455.89l3.7 3.7M343.65 455.89l3.7 3.7M347.5 455.89l3.7 3.7M351.34 455.89l3.7 3.7M355.18 455.89l3.7 3.7M359.03 455.89l3.7 3.7M362.87 455.89l3.7 3.7M366.71 455.89l3.7 3.7M370.56 455.89l3.7 3.7M274.47 463.55l3.7 3.7M278.31 463.55l3.7 3.7M282.16 463.55l3.7 3.7M286 463.55l3.7 3.7M289.84 463.55l3.7 3.7M293.69 463.55l3.7 3.7M297.53 463.55l3.7 3.7M301.37 463.55l3.7 3.7M305.22 463.55l3.7 3.7M309.06 463.55l3.7 3.7M312.9 463.55l3.7 3.7M316.75 463.55l3.7 3.7M320.59 463.55l3.7 3.7M324.44 463.55l3.7 3.7M328.28 463.55l3.7 3.7M332.12 463.55l3.7 3.7M335.97 463.55l3.7 3.7M339.81 463.55l3.7 3.7M343.65 463.55l3.7 3.7M347.5 463.55l3.7 3.7M351.34 463.55l3.7 3.7M355.18 463.55l3.7 3.7M359.03 463.55l3.7 3.7M362.87 463.55l3.7 3.7M366.71 463.55l3.7 3.7M370.56 463.55l3.7 3.7M274.47 471.21l3.7 3.7M278.31 471.21l3.7 3.7M282.16 471.21l3.7 3.7M286 471.21l3.7 3.7M289.84 471.21l3.7 3.7M293.69 471.21l3.7 3.7M297.53 471.21l3.7 3.7M301.37 471.21l3.7 3.7M305.22 471.21l3.7 3.7M309.06 471.21l3.7 3.7M312.9 471.21l3.7 3.7M316.75 471.21l3.7 3.7M320.59 471.21l3.7 3.7M324.44 471.21l3.7 3.7M328.28 471.21l3.7 3.7M332.12 471.21l3.7 3.7M335.97 471.21l3.7 3.7M339.81 471.21l3.7 3.7M343.65 471.21l3.7 3.7M347.5 471.21l3.7 3.7M351.34 471.21l3.7 3.7M355.18 471.21l3.7 3.7M359.03 471.21l3.7 3.7M362.87 471.21l3.7 3.7M366.71 471.21l3.7 3.7M370.56 471.21l3.7 3.7M274.47 478.87l3.7 3.7M278.31 478.87l3.7 3.7M282.16 478.87l3.7 3.7M286 478.87l3.7 3.7M289.84 478.87l3.7 3.7M293.69 478.87l3.7 3.7M297.53 478.87l3.7 3.7M301.37 478.87l3.7 3.7M305.22 478.87l3.7 3.7M309.06 478.87l3.7 3.7M312.9 478.87l3.7 3.7M316.75 478.87l3.7 3.7M320.59 478.87l3.7 3.7M324.44 478.87l3.7 3.7M328.28 478.87l3.7 3.7M332.12 478.87l3.7 3.7M335.97 478.87l3.7 3.7M339.81 478.87l3.7 3.7M343.65 478.87l3.7 3.7M347.5 478.87l3.7 3.7M351.34 478.87l3.7 3.7M355.18 478.87l3.7 3.7M359.03 478.87l3.7 3.7M362.87 478.87l3.7 3.7M366.71 478.87l3.7 3.7M370.56 478.87l3.7 3.7"/>
<path d="M281.12 328.2H367.9V472.2H281.12" stroke="#161616" stroke-width="1.15" fill="none" stroke-linejoin="miter"/>
<clipPath id="c4"><rect x="280.7" y="140.3" width="86.2" height="187.9"/></clipPath>
<rect x="281.7" y="140.3" width="86.2" height="187.9" fill="#FFC30F"/>
<path d="M281.7 140.88V327.62" stroke="#161616" stroke-width="1.15" fill="none"/>
<path clip-path="url(#c4)" fill="none" stroke="#1c1400" stroke-opacity="0.8" stroke-width="1.15" d="M274.47 130.7l3.5 -3.5M278.32 130.7l3.5 -3.5M282.16 130.7l3.5 -3.5M286 130.7l3.5 -3.5M289.85 130.7l3.5 -3.5M293.69 130.7l3.5 -3.5M297.53 130.7l3.5 -3.5M301.38 130.7l3.5 -3.5M305.22 130.7l3.5 -3.5M309.06 130.7l3.5 -3.5M312.91 130.7l3.5 -3.5M316.75 130.7l3.5 -3.5M320.59 130.7l3.5 -3.5M324.44 130.7l3.5 -3.5M328.28 130.7l3.5 -3.5M332.12 130.7l3.5 -3.5M335.97 130.7l3.5 -3.5M339.81 130.7l3.5 -3.5M343.66 130.7l3.5 -3.5M347.5 130.7l3.5 -3.5M351.34 130.7l3.5 -3.5M355.19 130.7l3.5 -3.5M359.03 130.7l3.5 -3.5M362.87 130.7l3.5 -3.5M366.72 130.7l3.5 -3.5M370.56 130.7l3.5 -3.5M274.47 138.36l3.5 -3.5M278.32 138.36l3.5 -3.5M282.16 138.36l3.5 -3.5M286 138.36l3.5 -3.5M289.85 138.36l3.5 -3.5M293.69 138.36l3.5 -3.5M297.53 138.36l3.5 -3.5M301.38 138.36l3.5 -3.5M305.22 138.36l3.5 -3.5M309.06 138.36l3.5 -3.5M312.91 138.36l3.5 -3.5M316.75 138.36l3.5 -3.5M320.59 138.36l3.5 -3.5M324.44 138.36l3.5 -3.5M328.28 138.36l3.5 -3.5M332.12 138.36l3.5 -3.5M335.97 138.36l3.5 -3.5M339.81 138.36l3.5 -3.5M343.66 138.36l3.5 -3.5M347.5 138.36l3.5 -3.5M351.34 138.36l3.5 -3.5M355.19 138.36l3.5 -3.5M359.03 138.36l3.5 -3.5M362.87 138.36l3.5 -3.5M366.72 138.36l3.5 -3.5M370.56 138.36l3.5 -3.5M274.47 146.02l3.5 -3.5M278.32 146.02l3.5 -3.5M282.16 146.02l3.5 -3.5M286 146.02l3.5 -3.5M289.85 146.02l3.5 -3.5M293.69 146.02l3.5 -3.5M297.53 146.02l3.5 -3.5M301.38 146.02l3.5 -3.5M305.22 146.02l3.5 -3.5M309.06 146.02l3.5 -3.5M312.91 146.02l3.5 -3.5M316.75 146.02l3.5 -3.5M320.59 146.02l3.5 -3.5M324.44 146.02l3.5 -3.5M328.28 146.02l3.5 -3.5M332.12 146.02l3.5 -3.5M335.97 146.02l3.5 -3.5M339.81 146.02l3.5 -3.5M343.66 146.02l3.5 -3.5M347.5 146.02l3.5 -3.5M351.34 146.02l3.5 -3.5M355.19 146.02l3.5 -3.5M359.03 146.02l3.5 -3.5M362.87 146.02l3.5 -3.5M366.72 146.02l3.5 -3.5M370.56 146.02l3.5 -3.5M274.47 153.68l3.5 -3.5M278.32 153.68l3.5 -3.5M282.16 153.68l3.5 -3.5M286 153.68l3.5 -3.5M289.85 153.68l3.5 -3.5M293.69 153.68l3.5 -3.5M297.53 153.68l3.5 -3.5M301.38 153.68l3.5 -3.5M305.22 153.68l3.5 -3.5M309.06 153.68l3.5 -3.5M312.91 153.68l3.5 -3.5M316.75 153.68l3.5 -3.5M320.59 153.68l3.5 -3.5M324.44 153.68l3.5 -3.5M328.28 153.68l3.5 -3.5M332.12 153.68l3.5 -3.5M335.97 153.68l3.5 -3.5M339.81 153.68l3.5 -3.5M343.66 153.68l3.5 -3.5M347.5 153.68l3.5 -3.5M351.34 153.68l3.5 -3.5M355.19 153.68l3.5 -3.5M359.03 153.68l3.5 -3.5M362.87 153.68l3.5 -3.5M366.72 153.68l3.5 -3.5M370.56 153.68l3.5 -3.5M274.47 161.34l3.5 -3.5M278.32 161.34l3.5 -3.5M282.16 161.34l3.5 -3.5M286 161.34l3.5 -3.5M289.85 161.34l3.5 -3.5M293.69 161.34l3.5 -3.5M297.53 161.34l3.5 -3.5M301.38 161.34l3.5 -3.5M305.22 161.34l3.5 -3.5M309.06 161.34l3.5 -3.5M312.91 161.34l3.5 -3.5M316.75 161.34l3.5 -3.5M320.59 161.34l3.5 -3.5M324.44 161.34l3.5 -3.5M328.28 161.34l3.5 -3.5M332.12 161.34l3.5 -3.5M335.97 161.34l3.5 -3.5M339.81 161.34l3.5 -3.5M343.66 161.34l3.5 -3.5M347.5 161.34l3.5 -3.5M351.34 161.34l3.5 -3.5M355.19 161.34l3.5 -3.5M359.03 161.34l3.5 -3.5M362.87 161.34l3.5 -3.5M366.72 161.34l3.5 -3.5M370.56 161.34l3.5 -3.5M274.47 169l3.5 -3.5M278.32 169l3.5 -3.5M282.16 169l3.5 -3.5M286 169l3.5 -3.5M289.85 169l3.5 -3.5M293.69 169l3.5 -3.5M297.53 169l3.5 -3.5M301.38 169l3.5 -3.5M305.22 169l3.5 -3.5M309.06 169l3.5 -3.5M312.91 169l3.5 -3.5M316.75 169l3.5 -3.5M320.59 169l3.5 -3.5M324.44 169l3.5 -3.5M328.28 169l3.5 -3.5M332.12 169l3.5 -3.5M335.97 169l3.5 -3.5M339.81 169l3.5 -3.5M343.66 169l3.5 -3.5M347.5 169l3.5 -3.5M351.34 169l3.5 -3.5M355.19 169l3.5 -3.5M359.03 169l3.5 -3.5M362.87 169l3.5 -3.5M366.72 169l3.5 -3.5M370.56 169l3.5 -3.5M274.47 176.66l3.5 -3.5M278.32 176.66l3.5 -3.5M282.16 176.66l3.5 -3.5M286 176.66l3.5 -3.5M289.85 176.66l3.5 -3.5M293.69 176.66l3.5 -3.5M297.53 176.66l3.5 -3.5M301.38 176.66l3.5 -3.5M305.22 176.66l3.5 -3.5M309.06 176.66l3.5 -3.5M312.91 176.66l3.5 -3.5M316.75 176.66l3.5 -3.5M320.59 176.66l3.5 -3.5M324.44 176.66l3.5 -3.5M328.28 176.66l3.5 -3.5M332.12 176.66l3.5 -3.5M335.97 176.66l3.5 -3.5M339.81 176.66l3.5 -3.5M343.66 176.66l3.5 -3.5M347.5 176.66l3.5 -3.5M351.34 176.66l3.5 -3.5M355.19 176.66l3.5 -3.5M359.03 176.66l3.5 -3.5M362.87 176.66l3.5 -3.5M366.72 176.66l3.5 -3.5M370.56 176.66l3.5 -3.5M274.47 184.32l3.5 -3.5M278.32 184.32l3.5 -3.5M282.16 184.32l3.5 -3.5M286 184.32l3.5 -3.5M289.85 184.32l3.5 -3.5M293.69 184.32l3.5 -3.5M297.53 184.32l3.5 -3.5M301.38 184.32l3.5 -3.5M305.22 184.32l3.5 -3.5M309.06 184.32l3.5 -3.5M312.91 184.32l3.5 -3.5M316.75 184.32l3.5 -3.5M320.59 184.32l3.5 -3.5M324.44 184.32l3.5 -3.5M328.28 184.32l3.5 -3.5M332.12 184.32l3.5 -3.5M335.97 184.32l3.5 -3.5M339.81 184.32l3.5 -3.5M343.66 184.32l3.5 -3.5M347.5 184.32l3.5 -3.5M351.34 184.32l3.5 -3.5M355.19 184.32l3.5 -3.5M359.03 184.32l3.5 -3.5M362.87 184.32l3.5 -3.5M366.72 184.32l3.5 -3.5M370.56 184.32l3.5 -3.5M274.47 191.97l3.5 -3.5M278.32 191.97l3.5 -3.5M282.16 191.97l3.5 -3.5M286 191.97l3.5 -3.5M289.85 191.97l3.5 -3.5M293.69 191.97l3.5 -3.5M297.53 191.97l3.5 -3.5M301.38 191.97l3.5 -3.5M305.22 191.97l3.5 -3.5M309.06 191.97l3.5 -3.5M312.91 191.97l3.5 -3.5M316.75 191.97l3.5 -3.5M320.59 191.97l3.5 -3.5M324.44 191.97l3.5 -3.5M328.28 191.97l3.5 -3.5M332.12 191.97l3.5 -3.5M335.97 191.97l3.5 -3.5M339.81 191.97l3.5 -3.5M343.66 191.97l3.5 -3.5M347.5 191.97l3.5 -3.5M351.34 191.97l3.5 -3.5M355.19 191.97l3.5 -3.5M359.03 191.97l3.5 -3.5M362.87 191.97l3.5 -3.5M366.72 191.97l3.5 -3.5M370.56 191.97l3.5 -3.5M274.47 199.63l3.5 -3.5M278.32 199.63l3.5 -3.5M282.16 199.63l3.5 -3.5M286 199.63l3.5 -3.5M289.85 199.63l3.5 -3.5M293.69 199.63l3.5 -3.5M297.53 199.63l3.5 -3.5M301.38 199.63l3.5 -3.5M305.22 199.63l3.5 -3.5M309.06 199.63l3.5 -3.5M312.91 199.63l3.5 -3.5M316.75 199.63l3.5 -3.5M320.59 199.63l3.5 -3.5M324.44 199.63l3.5 -3.5M328.28 199.63l3.5 -3.5M332.12 199.63l3.5 -3.5M335.97 199.63l3.5 -3.5M339.81 199.63l3.5 -3.5M343.66 199.63l3.5 -3.5M347.5 199.63l3.5 -3.5M351.34 199.63l3.5 -3.5M355.19 199.63l3.5 -3.5M359.03 199.63l3.5 -3.5M362.87 199.63l3.5 -3.5M366.72 199.63l3.5 -3.5M370.56 199.63l3.5 -3.5M274.47 207.29l3.5 -3.5M278.32 207.29l3.5 -3.5M282.16 207.29l3.5 -3.5M286 207.29l3.5 -3.5M289.85 207.29l3.5 -3.5M293.69 207.29l3.5 -3.5M297.53 207.29l3.5 -3.5M301.38 207.29l3.5 -3.5M305.22 207.29l3.5 -3.5M309.06 207.29l3.5 -3.5M312.91 207.29l3.5 -3.5M316.75 207.29l3.5 -3.5M320.59 207.29l3.5 -3.5M324.44 207.29l3.5 -3.5M328.28 207.29l3.5 -3.5M332.12 207.29l3.5 -3.5M335.97 207.29l3.5 -3.5M339.81 207.29l3.5 -3.5M343.66 207.29l3.5 -3.5M347.5 207.29l3.5 -3.5M351.34 207.29l3.5 -3.5M355.19 207.29l3.5 -3.5M359.03 207.29l3.5 -3.5M362.87 207.29l3.5 -3.5M366.72 207.29l3.5 -3.5M370.56 207.29l3.5 -3.5M274.47 214.95l3.5 -3.5M278.32 214.95l3.5 -3.5M282.16 214.95l3.5 -3.5M286 214.95l3.5 -3.5M289.85 214.95l3.5 -3.5M293.69 214.95l3.5 -3.5M297.53 214.95l3.5 -3.5M301.38 214.95l3.5 -3.5M305.22 214.95l3.5 -3.5M309.06 214.95l3.5 -3.5M312.91 214.95l3.5 -3.5M316.75 214.95l3.5 -3.5M320.59 214.95l3.5 -3.5M324.44 214.95l3.5 -3.5M328.28 214.95l3.5 -3.5M332.12 214.95l3.5 -3.5M335.97 214.95l3.5 -3.5M339.81 214.95l3.5 -3.5M343.66 214.95l3.5 -3.5M347.5 214.95l3.5 -3.5M351.34 214.95l3.5 -3.5M355.19 214.95l3.5 -3.5M359.03 214.95l3.5 -3.5M362.87 214.95l3.5 -3.5M366.72 214.95l3.5 -3.5M370.56 214.95l3.5 -3.5M274.47 222.61l3.5 -3.5M278.32 222.61l3.5 -3.5M282.16 222.61l3.5 -3.5M286 222.61l3.5 -3.5M289.85 222.61l3.5 -3.5M293.69 222.61l3.5 -3.5M297.53 222.61l3.5 -3.5M301.38 222.61l3.5 -3.5M305.22 222.61l3.5 -3.5M309.06 222.61l3.5 -3.5M312.91 222.61l3.5 -3.5M316.75 222.61l3.5 -3.5M320.59 222.61l3.5 -3.5M324.44 222.61l3.5 -3.5M328.28 222.61l3.5 -3.5M332.12 222.61l3.5 -3.5M335.97 222.61l3.5 -3.5M339.81 222.61l3.5 -3.5M343.66 222.61l3.5 -3.5M347.5 222.61l3.5 -3.5M351.34 222.61l3.5 -3.5M355.19 222.61l3.5 -3.5M359.03 222.61l3.5 -3.5M362.87 222.61l3.5 -3.5M366.72 222.61l3.5 -3.5M370.56 222.61l3.5 -3.5M274.47 230.27l3.5 -3.5M278.32 230.27l3.5 -3.5M282.16 230.27l3.5 -3.5M286 230.27l3.5 -3.5M289.85 230.27l3.5 -3.5M293.69 230.27l3.5 -3.5M297.53 230.27l3.5 -3.5M301.38 230.27l3.5 -3.5M305.22 230.27l3.5 -3.5M309.06 230.27l3.5 -3.5M312.91 230.27l3.5 -3.5M316.75 230.27l3.5 -3.5M320.59 230.27l3.5 -3.5M324.44 230.27l3.5 -3.5M328.28 230.27l3.5 -3.5M332.12 230.27l3.5 -3.5M335.97 230.27l3.5 -3.5M339.81 230.27l3.5 -3.5M343.66 230.27l3.5 -3.5M347.5 230.27l3.5 -3.5M351.34 230.27l3.5 -3.5M355.19 230.27l3.5 -3.5M359.03 230.27l3.5 -3.5M362.87 230.27l3.5 -3.5M366.72 230.27l3.5 -3.5M370.56 230.27l3.5 -3.5M274.47 237.93l3.5 -3.5M278.32 237.93l3.5 -3.5M282.16 237.93l3.5 -3.5M286 237.93l3.5 -3.5M289.85 237.93l3.5 -3.5M293.69 237.93l3.5 -3.5M297.53 237.93l3.5 -3.5M301.38 237.93l3.5 -3.5M305.22 237.93l3.5 -3.5M309.06 237.93l3.5 -3.5M312.91 237.93l3.5 -3.5M316.75 237.93l3.5 -3.5M320.59 237.93l3.5 -3.5M324.44 237.93l3.5 -3.5M328.28 237.93l3.5 -3.5M332.12 237.93l3.5 -3.5M335.97 237.93l3.5 -3.5M339.81 237.93l3.5 -3.5M343.66 237.93l3.5 -3.5M347.5 237.93l3.5 -3.5M351.34 237.93l3.5 -3.5M355.19 237.93l3.5 -3.5M359.03 237.93l3.5 -3.5M362.87 237.93l3.5 -3.5M366.72 237.93l3.5 -3.5M370.56 237.93l3.5 -3.5M274.47 245.59l3.5 -3.5M278.32 245.59l3.5 -3.5M282.16 245.59l3.5 -3.5M286 245.59l3.5 -3.5M289.85 245.59l3.5 -3.5M293.69 245.59l3.5 -3.5M297.53 245.59l3.5 -3.5M301.38 245.59l3.5 -3.5M305.22 245.59l3.5 -3.5M309.06 245.59l3.5 -3.5M312.91 245.59l3.5 -3.5M316.75 245.59l3.5 -3.5M320.59 245.59l3.5 -3.5M324.44 245.59l3.5 -3.5M328.28 245.59l3.5 -3.5M332.12 245.59l3.5 -3.5M335.97 245.59l3.5 -3.5M339.81 245.59l3.5 -3.5M343.66 245.59l3.5 -3.5M347.5 245.59l3.5 -3.5M351.34 245.59l3.5 -3.5M355.19 245.59l3.5 -3.5M359.03 245.59l3.5 -3.5M362.87 245.59l3.5 -3.5M366.72 245.59l3.5 -3.5M370.56 245.59l3.5 -3.5M274.47 253.25l3.5 -3.5M278.32 253.25l3.5 -3.5M282.16 253.25l3.5 -3.5M286 253.25l3.5 -3.5M289.85 253.25l3.5 -3.5M293.69 253.25l3.5 -3.5M297.53 253.25l3.5 -3.5M301.38 253.25l3.5 -3.5M305.22 253.25l3.5 -3.5M309.06 253.25l3.5 -3.5M312.91 253.25l3.5 -3.5M316.75 253.25l3.5 -3.5M320.59 253.25l3.5 -3.5M324.44 253.25l3.5 -3.5M328.28 253.25l3.5 -3.5M332.12 253.25l3.5 -3.5M335.97 253.25l3.5 -3.5M339.81 253.25l3.5 -3.5M343.66 253.25l3.5 -3.5M347.5 253.25l3.5 -3.5M351.34 253.25l3.5 -3.5M355.19 253.25l3.5 -3.5M359.03 253.25l3.5 -3.5M362.87 253.25l3.5 -3.5M366.72 253.25l3.5 -3.5M370.56 253.25l3.5 -3.5M274.47 260.91l3.5 -3.5M278.32 260.91l3.5 -3.5M282.16 260.91l3.5 -3.5M286 260.91l3.5 -3.5M289.85 260.91l3.5 -3.5M293.69 260.91l3.5 -3.5M297.53 260.91l3.5 -3.5M301.38 260.91l3.5 -3.5M305.22 260.91l3.5 -3.5M309.06 260.91l3.5 -3.5M312.91 260.91l3.5 -3.5M316.75 260.91l3.5 -3.5M320.59 260.91l3.5 -3.5M324.44 260.91l3.5 -3.5M328.28 260.91l3.5 -3.5M332.12 260.91l3.5 -3.5M335.97 260.91l3.5 -3.5M339.81 260.91l3.5 -3.5M343.66 260.91l3.5 -3.5M347.5 260.91l3.5 -3.5M351.34 260.91l3.5 -3.5M355.19 260.91l3.5 -3.5M359.03 260.91l3.5 -3.5M362.87 260.91l3.5 -3.5M366.72 260.91l3.5 -3.5M370.56 260.91l3.5 -3.5M274.47 268.56l3.5 -3.5M278.32 268.56l3.5 -3.5M282.16 268.56l3.5 -3.5M286 268.56l3.5 -3.5M289.85 268.56l3.5 -3.5M293.69 268.56l3.5 -3.5M297.53 268.56l3.5 -3.5M301.38 268.56l3.5 -3.5M305.22 268.56l3.5 -3.5M309.06 268.56l3.5 -3.5M312.91 268.56l3.5 -3.5M316.75 268.56l3.5 -3.5M320.59 268.56l3.5 -3.5M324.44 268.56l3.5 -3.5M328.28 268.56l3.5 -3.5M332.12 268.56l3.5 -3.5M335.97 268.56l3.5 -3.5M339.81 268.56l3.5 -3.5M343.66 268.56l3.5 -3.5M347.5 268.56l3.5 -3.5M351.34 268.56l3.5 -3.5M355.19 268.56l3.5 -3.5M359.03 268.56l3.5 -3.5M362.87 268.56l3.5 -3.5M366.72 268.56l3.5 -3.5M370.56 268.56l3.5 -3.5M274.47 276.22l3.5 -3.5M278.32 276.22l3.5 -3.5M282.16 276.22l3.5 -3.5M286 276.22l3.5 -3.5M289.85 276.22l3.5 -3.5M293.69 276.22l3.5 -3.5M297.53 276.22l3.5 -3.5M301.38 276.22l3.5 -3.5M305.22 276.22l3.5 -3.5M309.06 276.22l3.5 -3.5M312.91 276.22l3.5 -3.5M316.75 276.22l3.5 -3.5M320.59 276.22l3.5 -3.5M324.44 276.22l3.5 -3.5M328.28 276.22l3.5 -3.5M332.12 276.22l3.5 -3.5M335.97 276.22l3.5 -3.5M339.81 276.22l3.5 -3.5M343.66 276.22l3.5 -3.5M347.5 276.22l3.5 -3.5M351.34 276.22l3.5 -3.5M355.19 276.22l3.5 -3.5M359.03 276.22l3.5 -3.5M362.87 276.22l3.5 -3.5M366.72 276.22l3.5 -3.5M370.56 276.22l3.5 -3.5M274.47 283.88l3.5 -3.5M278.32 283.88l3.5 -3.5M282.16 283.88l3.5 -3.5M286 283.88l3.5 -3.5M289.85 283.88l3.5 -3.5M293.69 283.88l3.5 -3.5M297.53 283.88l3.5 -3.5M301.38 283.88l3.5 -3.5M305.22 283.88l3.5 -3.5M309.06 283.88l3.5 -3.5M312.91 283.88l3.5 -3.5M316.75 283.88l3.5 -3.5M320.59 283.88l3.5 -3.5M324.44 283.88l3.5 -3.5M328.28 283.88l3.5 -3.5M332.12 283.88l3.5 -3.5M335.97 283.88l3.5 -3.5M339.81 283.88l3.5 -3.5M343.66 283.88l3.5 -3.5M347.5 283.88l3.5 -3.5M351.34 283.88l3.5 -3.5M355.19 283.88l3.5 -3.5M359.03 283.88l3.5 -3.5M362.87 283.88l3.5 -3.5M366.72 283.88l3.5 -3.5M370.56 283.88l3.5 -3.5M274.47 291.54l3.5 -3.5M278.32 291.54l3.5 -3.5M282.16 291.54l3.5 -3.5M286 291.54l3.5 -3.5M289.85 291.54l3.5 -3.5M293.69 291.54l3.5 -3.5M297.53 291.54l3.5 -3.5M301.38 291.54l3.5 -3.5M305.22 291.54l3.5 -3.5M309.06 291.54l3.5 -3.5M312.91 291.54l3.5 -3.5M316.75 291.54l3.5 -3.5M320.59 291.54l3.5 -3.5M324.44 291.54l3.5 -3.5M328.28 291.54l3.5 -3.5M332.12 291.54l3.5 -3.5M335.97 291.54l3.5 -3.5M339.81 291.54l3.5 -3.5M343.66 291.54l3.5 -3.5M347.5 291.54l3.5 -3.5M351.34 291.54l3.5 -3.5M355.19 291.54l3.5 -3.5M359.03 291.54l3.5 -3.5M362.87 291.54l3.5 -3.5M366.72 291.54l3.5 -3.5M370.56 291.54l3.5 -3.5M274.47 299.2l3.5 -3.5M278.32 299.2l3.5 -3.5M282.16 299.2l3.5 -3.5M286 299.2l3.5 -3.5M289.85 299.2l3.5 -3.5M293.69 299.2l3.5 -3.5M297.53 299.2l3.5 -3.5M301.38 299.2l3.5 -3.5M305.22 299.2l3.5 -3.5M309.06 299.2l3.5 -3.5M312.91 299.2l3.5 -3.5M316.75 299.2l3.5 -3.5M320.59 299.2l3.5 -3.5M324.44 299.2l3.5 -3.5M328.28 299.2l3.5 -3.5M332.12 299.2l3.5 -3.5M335.97 299.2l3.5 -3.5M339.81 299.2l3.5 -3.5M343.66 299.2l3.5 -3.5M347.5 299.2l3.5 -3.5M351.34 299.2l3.5 -3.5M355.19 299.2l3.5 -3.5M359.03 299.2l3.5 -3.5M362.87 299.2l3.5 -3.5M366.72 299.2l3.5 -3.5M370.56 299.2l3.5 -3.5M274.47 306.86l3.5 -3.5M278.32 306.86l3.5 -3.5M282.16 306.86l3.5 -3.5M286 306.86l3.5 -3.5M289.85 306.86l3.5 -3.5M293.69 306.86l3.5 -3.5M297.53 306.86l3.5 -3.5M301.38 306.86l3.5 -3.5M305.22 306.86l3.5 -3.5M309.06 306.86l3.5 -3.5M312.91 306.86l3.5 -3.5M316.75 306.86l3.5 -3.5M320.59 306.86l3.5 -3.5M324.44 306.86l3.5 -3.5M328.28 306.86l3.5 -3.5M332.12 306.86l3.5 -3.5M335.97 306.86l3.5 -3.5M339.81 306.86l3.5 -3.5M343.66 306.86l3.5 -3.5M347.5 306.86l3.5 -3.5M351.34 306.86l3.5 -3.5M355.19 306.86l3.5 -3.5M359.03 306.86l3.5 -3.5M362.87 306.86l3.5 -3.5M366.72 306.86l3.5 -3.5M370.56 306.86l3.5 -3.5M274.47 314.52l3.5 -3.5M278.32 314.52l3.5 -3.5M282.16 314.52l3.5 -3.5M286 314.52l3.5 -3.5M289.85 314.52l3.5 -3.5M293.69 314.52l3.5 -3.5M297.53 314.52l3.5 -3.5M301.38 314.52l3.5 -3.5M305.22 314.52l3.5 -3.5M309.06 314.52l3.5 -3.5M312.91 314.52l3.5 -3.5M316.75 314.52l3.5 -3.5M320.59 314.52l3.5 -3.5M324.44 314.52l3.5 -3.5M328.28 314.52l3.5 -3.5M332.12 314.52l3.5 -3.5M335.97 314.52l3.5 -3.5M339.81 314.52l3.5 -3.5M343.66 314.52l3.5 -3.5M347.5 314.52l3.5 -3.5M351.34 314.52l3.5 -3.5M355.19 314.52l3.5 -3.5M359.03 314.52l3.5 -3.5M362.87 314.52l3.5 -3.5M366.72 314.52l3.5 -3.5M370.56 314.52l3.5 -3.5M274.47 322.18l3.5 -3.5M278.32 322.18l3.5 -3.5M282.16 322.18l3.5 -3.5M286 322.18l3.5 -3.5M289.85 322.18l3.5 -3.5M293.69 322.18l3.5 -3.5M297.53 322.18l3.5 -3.5M301.38 322.18l3.5 -3.5M305.22 322.18l3.5 -3.5M309.06 322.18l3.5 -3.5M312.91 322.18l3.5 -3.5M316.75 322.18l3.5 -3.5M320.59 322.18l3.5 -3.5M324.44 322.18l3.5 -3.5M328.28 322.18l3.5 -3.5M332.12 322.18l3.5 -3.5M335.97 322.18l3.5 -3.5M339.81 322.18l3.5 -3.5M343.66 322.18l3.5 -3.5M347.5 322.18l3.5 -3.5M351.34 322.18l3.5 -3.5M355.19 322.18l3.5 -3.5M359.03 322.18l3.5 -3.5M362.87 322.18l3.5 -3.5M366.72 322.18l3.5 -3.5M370.56 322.18l3.5 -3.5M274.47 329.84l3.5 -3.5M278.32 329.84l3.5 -3.5M282.16 329.84l3.5 -3.5M286 329.84l3.5 -3.5M289.85 329.84l3.5 -3.5M293.69 329.84l3.5 -3.5M297.53 329.84l3.5 -3.5M301.38 329.84l3.5 -3.5M305.22 329.84l3.5 -3.5M309.06 329.84l3.5 -3.5M312.91 329.84l3.5 -3.5M316.75 329.84l3.5 -3.5M320.59 329.84l3.5 -3.5M324.44 329.84l3.5 -3.5M328.28 329.84l3.5 -3.5M332.12 329.84l3.5 -3.5M335.97 329.84l3.5 -3.5M339.81 329.84l3.5 -3.5M343.66 329.84l3.5 -3.5M347.5 329.84l3.5 -3.5M351.34 329.84l3.5 -3.5M355.19 329.84l3.5 -3.5M359.03 329.84l3.5 -3.5M362.87 329.84l3.5 -3.5M366.72 329.84l3.5 -3.5M370.56 329.84l3.5 -3.5M274.47 337.5l3.5 -3.5M278.32 337.5l3.5 -3.5M282.16 337.5l3.5 -3.5M286 337.5l3.5 -3.5M289.85 337.5l3.5 -3.5M293.69 337.5l3.5 -3.5M297.53 337.5l3.5 -3.5M301.38 337.5l3.5 -3.5M305.22 337.5l3.5 -3.5M309.06 337.5l3.5 -3.5M312.91 337.5l3.5 -3.5M316.75 337.5l3.5 -3.5M320.59 337.5l3.5 -3.5M324.44 337.5l3.5 -3.5M328.28 337.5l3.5 -3.5M332.12 337.5l3.5 -3.5M335.97 337.5l3.5 -3.5M339.81 337.5l3.5 -3.5M343.66 337.5l3.5 -3.5M347.5 337.5l3.5 -3.5M351.34 337.5l3.5 -3.5M355.19 337.5l3.5 -3.5M359.03 337.5l3.5 -3.5M362.87 337.5l3.5 -3.5M366.72 337.5l3.5 -3.5M370.56 337.5l3.5 -3.5"/>
<path d="M281.12 140.3H367.9V328.2H281.12" stroke="#161616" stroke-width="1.15" fill="none" stroke-linejoin="miter"/>
<clipPath id="c5"><rect x="280.7" y="112.9" width="86.2" height="27.4"/></clipPath>
<rect x="281.7" y="112.9" width="86.2" height="27.4" fill="#37F8BC"/>
<path d="M281.7 113.48V139.73" stroke="#161616" stroke-width="1.15" fill="none"/>
<path clip-path="url(#c5)" fill="#000" d="M274.82 105.57h3.6v1.2h-3.6zM282.51 105.57h3.6v1.2h-3.6zM290.2 105.57h3.6v1.2h-3.6zM297.88 105.57h3.6v1.2h-3.6zM305.57 105.57h3.6v1.2h-3.6zM313.26 105.57h3.6v1.2h-3.6zM320.94 105.57h3.6v1.2h-3.6zM328.63 105.57h3.6v1.2h-3.6zM336.32 105.57h3.6v1.2h-3.6zM344.01 105.57h3.6v1.2h-3.6zM351.69 105.57h3.6v1.2h-3.6zM359.38 105.57h3.6v1.2h-3.6zM367.07 105.57h3.6v1.2h-3.6zM374.75 105.57h3.6v1.2h-3.6zM270.98 109.4h3.6v1.2h-3.6zM278.67 109.4h3.6v1.2h-3.6zM286.35 109.4h3.6v1.2h-3.6zM294.04 109.4h3.6v1.2h-3.6zM301.73 109.4h3.6v1.2h-3.6zM309.41 109.4h3.6v1.2h-3.6zM317.1 109.4h3.6v1.2h-3.6zM324.79 109.4h3.6v1.2h-3.6zM332.47 109.4h3.6v1.2h-3.6zM340.16 109.4h3.6v1.2h-3.6zM347.85 109.4h3.6v1.2h-3.6zM355.54 109.4h3.6v1.2h-3.6zM363.22 109.4h3.6v1.2h-3.6zM370.91 109.4h3.6v1.2h-3.6zM274.82 113.23h3.6v1.2h-3.6zM282.51 113.23h3.6v1.2h-3.6zM290.2 113.23h3.6v1.2h-3.6zM297.88 113.23h3.6v1.2h-3.6zM305.57 113.23h3.6v1.2h-3.6zM313.26 113.23h3.6v1.2h-3.6zM320.94 113.23h3.6v1.2h-3.6zM328.63 113.23h3.6v1.2h-3.6zM336.32 113.23h3.6v1.2h-3.6zM344.01 113.23h3.6v1.2h-3.6zM351.69 113.23h3.6v1.2h-3.6zM359.38 113.23h3.6v1.2h-3.6zM367.07 113.23h3.6v1.2h-3.6zM374.75 113.23h3.6v1.2h-3.6zM270.98 117.06h3.6v1.2h-3.6zM278.67 117.06h3.6v1.2h-3.6zM286.35 117.06h3.6v1.2h-3.6zM294.04 117.06h3.6v1.2h-3.6zM301.73 117.06h3.6v1.2h-3.6zM309.41 117.06h3.6v1.2h-3.6zM317.1 117.06h3.6v1.2h-3.6zM324.79 117.06h3.6v1.2h-3.6zM332.47 117.06h3.6v1.2h-3.6zM340.16 117.06h3.6v1.2h-3.6zM347.85 117.06h3.6v1.2h-3.6zM355.54 117.06h3.6v1.2h-3.6zM363.22 117.06h3.6v1.2h-3.6zM370.91 117.06h3.6v1.2h-3.6zM274.82 120.89h3.6v1.2h-3.6zM282.51 120.89h3.6v1.2h-3.6zM290.2 120.89h3.6v1.2h-3.6zM297.88 120.89h3.6v1.2h-3.6zM305.57 120.89h3.6v1.2h-3.6zM313.26 120.89h3.6v1.2h-3.6zM320.94 120.89h3.6v1.2h-3.6zM328.63 120.89h3.6v1.2h-3.6zM336.32 120.89h3.6v1.2h-3.6zM344.01 120.89h3.6v1.2h-3.6zM351.69 120.89h3.6v1.2h-3.6zM359.38 120.89h3.6v1.2h-3.6zM367.07 120.89h3.6v1.2h-3.6zM374.75 120.89h3.6v1.2h-3.6zM270.98 124.72h3.6v1.2h-3.6zM278.67 124.72h3.6v1.2h-3.6zM286.35 124.72h3.6v1.2h-3.6zM294.04 124.72h3.6v1.2h-3.6zM301.73 124.72h3.6v1.2h-3.6zM309.41 124.72h3.6v1.2h-3.6zM317.1 124.72h3.6v1.2h-3.6zM324.79 124.72h3.6v1.2h-3.6zM332.47 124.72h3.6v1.2h-3.6zM340.16 124.72h3.6v1.2h-3.6zM347.85 124.72h3.6v1.2h-3.6zM355.54 124.72h3.6v1.2h-3.6zM363.22 124.72h3.6v1.2h-3.6zM370.91 124.72h3.6v1.2h-3.6zM274.82 128.55h3.6v1.2h-3.6zM282.51 128.55h3.6v1.2h-3.6zM290.2 128.55h3.6v1.2h-3.6zM297.88 128.55h3.6v1.2h-3.6zM305.57 128.55h3.6v1.2h-3.6zM313.26 128.55h3.6v1.2h-3.6zM320.94 128.55h3.6v1.2h-3.6zM328.63 128.55h3.6v1.2h-3.6zM336.32 128.55h3.6v1.2h-3.6zM344.01 128.55h3.6v1.2h-3.6zM351.69 128.55h3.6v1.2h-3.6zM359.38 128.55h3.6v1.2h-3.6zM367.07 128.55h3.6v1.2h-3.6zM374.75 128.55h3.6v1.2h-3.6zM270.98 132.38h3.6v1.2h-3.6zM278.67 132.38h3.6v1.2h-3.6zM286.35 132.38h3.6v1.2h-3.6zM294.04 132.38h3.6v1.2h-3.6zM301.73 132.38h3.6v1.2h-3.6zM309.41 132.38h3.6v1.2h-3.6zM317.1 132.38h3.6v1.2h-3.6zM324.79 132.38h3.6v1.2h-3.6zM332.47 132.38h3.6v1.2h-3.6zM340.16 132.38h3.6v1.2h-3.6zM347.85 132.38h3.6v1.2h-3.6zM355.54 132.38h3.6v1.2h-3.6zM363.22 132.38h3.6v1.2h-3.6zM370.91 132.38h3.6v1.2h-3.6zM274.82 136.21h3.6v1.2h-3.6zM282.51 136.21h3.6v1.2h-3.6zM290.2 136.21h3.6v1.2h-3.6zM297.88 136.21h3.6v1.2h-3.6zM305.57 136.21h3.6v1.2h-3.6zM313.26 136.21h3.6v1.2h-3.6zM320.94 136.21h3.6v1.2h-3.6zM328.63 136.21h3.6v1.2h-3.6zM336.32 136.21h3.6v1.2h-3.6zM344.01 136.21h3.6v1.2h-3.6zM351.69 136.21h3.6v1.2h-3.6zM359.38 136.21h3.6v1.2h-3.6zM367.07 136.21h3.6v1.2h-3.6zM374.75 136.21h3.6v1.2h-3.6zM270.98 140.04h3.6v1.2h-3.6zM278.67 140.04h3.6v1.2h-3.6zM286.35 140.04h3.6v1.2h-3.6zM294.04 140.04h3.6v1.2h-3.6zM301.73 140.04h3.6v1.2h-3.6zM309.41 140.04h3.6v1.2h-3.6zM317.1 140.04h3.6v1.2h-3.6zM324.79 140.04h3.6v1.2h-3.6zM332.47 140.04h3.6v1.2h-3.6zM340.16 140.04h3.6v1.2h-3.6zM347.85 140.04h3.6v1.2h-3.6zM355.54 140.04h3.6v1.2h-3.6zM363.22 140.04h3.6v1.2h-3.6zM370.91 140.04h3.6v1.2h-3.6zM274.82 143.87h3.6v1.2h-3.6zM282.51 143.87h3.6v1.2h-3.6zM290.2 143.87h3.6v1.2h-3.6zM297.88 143.87h3.6v1.2h-3.6zM305.57 143.87h3.6v1.2h-3.6zM313.26 143.87h3.6v1.2h-3.6zM320.94 143.87h3.6v1.2h-3.6zM328.63 143.87h3.6v1.2h-3.6zM336.32 143.87h3.6v1.2h-3.6zM344.01 143.87h3.6v1.2h-3.6zM351.69 143.87h3.6v1.2h-3.6zM359.38 143.87h3.6v1.2h-3.6zM367.07 143.87h3.6v1.2h-3.6zM374.75 143.87h3.6v1.2h-3.6z"/>
<path d="M281.12 112.9H367.9V140.3H281.12" stroke="#161616" stroke-width="1.15" fill="none" stroke-linejoin="miter"/>
<clipPath id="c6"><rect x="424.3" y="322.6" width="86.5" height="149.6"/></clipPath>
<rect x="425.3" y="322.6" width="86.5" height="149.6" fill="#84D2FB"/>
<path d="M425.3 323.18V471.62" stroke="#161616" stroke-width="1.15" fill="none"/>
<path clip-path="url(#c6)" fill="none" stroke="#0a1a24" stroke-opacity="0.8" stroke-width="1.18" d="M416.68 310.37l3.7 3.7M420.52 310.37l3.7 3.7M424.37 310.37l3.7 3.7M428.21 310.37l3.7 3.7M432.05 310.37l3.7 3.7M435.9 310.37l3.7 3.7M439.74 310.37l3.7 3.7M443.58 310.37l3.7 3.7M447.43 310.37l3.7 3.7M451.27 310.37l3.7 3.7M455.11 310.37l3.7 3.7M458.96 310.37l3.7 3.7M462.8 310.37l3.7 3.7M466.64 310.37l3.7 3.7M470.49 310.37l3.7 3.7M474.33 310.37l3.7 3.7M478.18 310.37l3.7 3.7M482.02 310.37l3.7 3.7M485.86 310.37l3.7 3.7M489.71 310.37l3.7 3.7M493.55 310.37l3.7 3.7M497.39 310.37l3.7 3.7M501.24 310.37l3.7 3.7M505.08 310.37l3.7 3.7M508.92 310.37l3.7 3.7M512.77 310.37l3.7 3.7M516.61 310.37l3.7 3.7M416.68 318.03l3.7 3.7M420.52 318.03l3.7 3.7M424.37 318.03l3.7 3.7M428.21 318.03l3.7 3.7M432.05 318.03l3.7 3.7M435.9 318.03l3.7 3.7M439.74 318.03l3.7 3.7M443.58 318.03l3.7 3.7M447.43 318.03l3.7 3.7M451.27 318.03l3.7 3.7M455.11 318.03l3.7 3.7M458.96 318.03l3.7 3.7M462.8 318.03l3.7 3.7M466.64 318.03l3.7 3.7M470.49 318.03l3.7 3.7M474.33 318.03l3.7 3.7M478.18 318.03l3.7 3.7M482.02 318.03l3.7 3.7M485.86 318.03l3.7 3.7M489.71 318.03l3.7 3.7M493.55 318.03l3.7 3.7M497.39 318.03l3.7 3.7M501.24 318.03l3.7 3.7M505.08 318.03l3.7 3.7M508.92 318.03l3.7 3.7M512.77 318.03l3.7 3.7M516.61 318.03l3.7 3.7M416.68 325.69l3.7 3.7M420.52 325.69l3.7 3.7M424.37 325.69l3.7 3.7M428.21 325.69l3.7 3.7M432.05 325.69l3.7 3.7M435.9 325.69l3.7 3.7M439.74 325.69l3.7 3.7M443.58 325.69l3.7 3.7M447.43 325.69l3.7 3.7M451.27 325.69l3.7 3.7M455.11 325.69l3.7 3.7M458.96 325.69l3.7 3.7M462.8 325.69l3.7 3.7M466.64 325.69l3.7 3.7M470.49 325.69l3.7 3.7M474.33 325.69l3.7 3.7M478.18 325.69l3.7 3.7M482.02 325.69l3.7 3.7M485.86 325.69l3.7 3.7M489.71 325.69l3.7 3.7M493.55 325.69l3.7 3.7M497.39 325.69l3.7 3.7M501.24 325.69l3.7 3.7M505.08 325.69l3.7 3.7M508.92 325.69l3.7 3.7M512.77 325.69l3.7 3.7M516.61 325.69l3.7 3.7M416.68 333.35l3.7 3.7M420.52 333.35l3.7 3.7M424.37 333.35l3.7 3.7M428.21 333.35l3.7 3.7M432.05 333.35l3.7 3.7M435.9 333.35l3.7 3.7M439.74 333.35l3.7 3.7M443.58 333.35l3.7 3.7M447.43 333.35l3.7 3.7M451.27 333.35l3.7 3.7M455.11 333.35l3.7 3.7M458.96 333.35l3.7 3.7M462.8 333.35l3.7 3.7M466.64 333.35l3.7 3.7M470.49 333.35l3.7 3.7M474.33 333.35l3.7 3.7M478.18 333.35l3.7 3.7M482.02 333.35l3.7 3.7M485.86 333.35l3.7 3.7M489.71 333.35l3.7 3.7M493.55 333.35l3.7 3.7M497.39 333.35l3.7 3.7M501.24 333.35l3.7 3.7M505.08 333.35l3.7 3.7M508.92 333.35l3.7 3.7M512.77 333.35l3.7 3.7M516.61 333.35l3.7 3.7M416.68 341.01l3.7 3.7M420.52 341.01l3.7 3.7M424.37 341.01l3.7 3.7M428.21 341.01l3.7 3.7M432.05 341.01l3.7 3.7M435.9 341.01l3.7 3.7M439.74 341.01l3.7 3.7M443.58 341.01l3.7 3.7M447.43 341.01l3.7 3.7M451.27 341.01l3.7 3.7M455.11 341.01l3.7 3.7M458.96 341.01l3.7 3.7M462.8 341.01l3.7 3.7M466.64 341.01l3.7 3.7M470.49 341.01l3.7 3.7M474.33 341.01l3.7 3.7M478.18 341.01l3.7 3.7M482.02 341.01l3.7 3.7M485.86 341.01l3.7 3.7M489.71 341.01l3.7 3.7M493.55 341.01l3.7 3.7M497.39 341.01l3.7 3.7M501.24 341.01l3.7 3.7M505.08 341.01l3.7 3.7M508.92 341.01l3.7 3.7M512.77 341.01l3.7 3.7M516.61 341.01l3.7 3.7M416.68 348.67l3.7 3.7M420.52 348.67l3.7 3.7M424.37 348.67l3.7 3.7M428.21 348.67l3.7 3.7M432.05 348.67l3.7 3.7M435.9 348.67l3.7 3.7M439.74 348.67l3.7 3.7M443.58 348.67l3.7 3.7M447.43 348.67l3.7 3.7M451.27 348.67l3.7 3.7M455.11 348.67l3.7 3.7M458.96 348.67l3.7 3.7M462.8 348.67l3.7 3.7M466.64 348.67l3.7 3.7M470.49 348.67l3.7 3.7M474.33 348.67l3.7 3.7M478.18 348.67l3.7 3.7M482.02 348.67l3.7 3.7M485.86 348.67l3.7 3.7M489.71 348.67l3.7 3.7M493.55 348.67l3.7 3.7M497.39 348.67l3.7 3.7M501.24 348.67l3.7 3.7M505.08 348.67l3.7 3.7M508.92 348.67l3.7 3.7M512.77 348.67l3.7 3.7M516.61 348.67l3.7 3.7M416.68 356.33l3.7 3.7M420.52 356.33l3.7 3.7M424.37 356.33l3.7 3.7M428.21 356.33l3.7 3.7M432.05 356.33l3.7 3.7M435.9 356.33l3.7 3.7M439.74 356.33l3.7 3.7M443.58 356.33l3.7 3.7M447.43 356.33l3.7 3.7M451.27 356.33l3.7 3.7M455.11 356.33l3.7 3.7M458.96 356.33l3.7 3.7M462.8 356.33l3.7 3.7M466.64 356.33l3.7 3.7M470.49 356.33l3.7 3.7M474.33 356.33l3.7 3.7M478.18 356.33l3.7 3.7M482.02 356.33l3.7 3.7M485.86 356.33l3.7 3.7M489.71 356.33l3.7 3.7M493.55 356.33l3.7 3.7M497.39 356.33l3.7 3.7M501.24 356.33l3.7 3.7M505.08 356.33l3.7 3.7M508.92 356.33l3.7 3.7M512.77 356.33l3.7 3.7M516.61 356.33l3.7 3.7M416.68 363.99l3.7 3.7M420.52 363.99l3.7 3.7M424.37 363.99l3.7 3.7M428.21 363.99l3.7 3.7M432.05 363.99l3.7 3.7M435.9 363.99l3.7 3.7M439.74 363.99l3.7 3.7M443.58 363.99l3.7 3.7M447.43 363.99l3.7 3.7M451.27 363.99l3.7 3.7M455.11 363.99l3.7 3.7M458.96 363.99l3.7 3.7M462.8 363.99l3.7 3.7M466.64 363.99l3.7 3.7M470.49 363.99l3.7 3.7M474.33 363.99l3.7 3.7M478.18 363.99l3.7 3.7M482.02 363.99l3.7 3.7M485.86 363.99l3.7 3.7M489.71 363.99l3.7 3.7M493.55 363.99l3.7 3.7M497.39 363.99l3.7 3.7M501.24 363.99l3.7 3.7M505.08 363.99l3.7 3.7M508.92 363.99l3.7 3.7M512.77 363.99l3.7 3.7M516.61 363.99l3.7 3.7M416.68 371.64l3.7 3.7M420.52 371.64l3.7 3.7M424.37 371.64l3.7 3.7M428.21 371.64l3.7 3.7M432.05 371.64l3.7 3.7M435.9 371.64l3.7 3.7M439.74 371.64l3.7 3.7M443.58 371.64l3.7 3.7M447.43 371.64l3.7 3.7M451.27 371.64l3.7 3.7M455.11 371.64l3.7 3.7M458.96 371.64l3.7 3.7M462.8 371.64l3.7 3.7M466.64 371.64l3.7 3.7M470.49 371.64l3.7 3.7M474.33 371.64l3.7 3.7M478.18 371.64l3.7 3.7M482.02 371.64l3.7 3.7M485.86 371.64l3.7 3.7M489.71 371.64l3.7 3.7M493.55 371.64l3.7 3.7M497.39 371.64l3.7 3.7M501.24 371.64l3.7 3.7M505.08 371.64l3.7 3.7M508.92 371.64l3.7 3.7M512.77 371.64l3.7 3.7M516.61 371.64l3.7 3.7M416.68 379.3l3.7 3.7M420.52 379.3l3.7 3.7M424.37 379.3l3.7 3.7M428.21 379.3l3.7 3.7M432.05 379.3l3.7 3.7M435.9 379.3l3.7 3.7M439.74 379.3l3.7 3.7M443.58 379.3l3.7 3.7M447.43 379.3l3.7 3.7M451.27 379.3l3.7 3.7M455.11 379.3l3.7 3.7M458.96 379.3l3.7 3.7M462.8 379.3l3.7 3.7M466.64 379.3l3.7 3.7M470.49 379.3l3.7 3.7M474.33 379.3l3.7 3.7M478.18 379.3l3.7 3.7M482.02 379.3l3.7 3.7M485.86 379.3l3.7 3.7M489.71 379.3l3.7 3.7M493.55 379.3l3.7 3.7M497.39 379.3l3.7 3.7M501.24 379.3l3.7 3.7M505.08 379.3l3.7 3.7M508.92 379.3l3.7 3.7M512.77 379.3l3.7 3.7M516.61 379.3l3.7 3.7M416.68 386.96l3.7 3.7M420.52 386.96l3.7 3.7M424.37 386.96l3.7 3.7M428.21 386.96l3.7 3.7M432.05 386.96l3.7 3.7M435.9 386.96l3.7 3.7M439.74 386.96l3.7 3.7M443.58 386.96l3.7 3.7M447.43 386.96l3.7 3.7M451.27 386.96l3.7 3.7M455.11 386.96l3.7 3.7M458.96 386.96l3.7 3.7M462.8 386.96l3.7 3.7M466.64 386.96l3.7 3.7M470.49 386.96l3.7 3.7M474.33 386.96l3.7 3.7M478.18 386.96l3.7 3.7M482.02 386.96l3.7 3.7M485.86 386.96l3.7 3.7M489.71 386.96l3.7 3.7M493.55 386.96l3.7 3.7M497.39 386.96l3.7 3.7M501.24 386.96l3.7 3.7M505.08 386.96l3.7 3.7M508.92 386.96l3.7 3.7M512.77 386.96l3.7 3.7M516.61 386.96l3.7 3.7M416.68 394.62l3.7 3.7M420.52 394.62l3.7 3.7M424.37 394.62l3.7 3.7M428.21 394.62l3.7 3.7M432.05 394.62l3.7 3.7M435.9 394.62l3.7 3.7M439.74 394.62l3.7 3.7M443.58 394.62l3.7 3.7M447.43 394.62l3.7 3.7M451.27 394.62l3.7 3.7M455.11 394.62l3.7 3.7M458.96 394.62l3.7 3.7M462.8 394.62l3.7 3.7M466.64 394.62l3.7 3.7M470.49 394.62l3.7 3.7M474.33 394.62l3.7 3.7M478.18 394.62l3.7 3.7M482.02 394.62l3.7 3.7M485.86 394.62l3.7 3.7M489.71 394.62l3.7 3.7M493.55 394.62l3.7 3.7M497.39 394.62l3.7 3.7M501.24 394.62l3.7 3.7M505.08 394.62l3.7 3.7M508.92 394.62l3.7 3.7M512.77 394.62l3.7 3.7M516.61 394.62l3.7 3.7M416.68 402.28l3.7 3.7M420.52 402.28l3.7 3.7M424.37 402.28l3.7 3.7M428.21 402.28l3.7 3.7M432.05 402.28l3.7 3.7M435.9 402.28l3.7 3.7M439.74 402.28l3.7 3.7M443.58 402.28l3.7 3.7M447.43 402.28l3.7 3.7M451.27 402.28l3.7 3.7M455.11 402.28l3.7 3.7M458.96 402.28l3.7 3.7M462.8 402.28l3.7 3.7M466.64 402.28l3.7 3.7M470.49 402.28l3.7 3.7M474.33 402.28l3.7 3.7M478.18 402.28l3.7 3.7M482.02 402.28l3.7 3.7M485.86 402.28l3.7 3.7M489.71 402.28l3.7 3.7M493.55 402.28l3.7 3.7M497.39 402.28l3.7 3.7M501.24 402.28l3.7 3.7M505.08 402.28l3.7 3.7M508.92 402.28l3.7 3.7M512.77 402.28l3.7 3.7M516.61 402.28l3.7 3.7M416.68 409.94l3.7 3.7M420.52 409.94l3.7 3.7M424.37 409.94l3.7 3.7M428.21 409.94l3.7 3.7M432.05 409.94l3.7 3.7M435.9 409.94l3.7 3.7M439.74 409.94l3.7 3.7M443.58 409.94l3.7 3.7M447.43 409.94l3.7 3.7M451.27 409.94l3.7 3.7M455.11 409.94l3.7 3.7M458.96 409.94l3.7 3.7M462.8 409.94l3.7 3.7M466.64 409.94l3.7 3.7M470.49 409.94l3.7 3.7M474.33 409.94l3.7 3.7M478.18 409.94l3.7 3.7M482.02 409.94l3.7 3.7M485.86 409.94l3.7 3.7M489.71 409.94l3.7 3.7M493.55 409.94l3.7 3.7M497.39 409.94l3.7 3.7M501.24 409.94l3.7 3.7M505.08 409.94l3.7 3.7M508.92 409.94l3.7 3.7M512.77 409.94l3.7 3.7M516.61 409.94l3.7 3.7M416.68 417.6l3.7 3.7M420.52 417.6l3.7 3.7M424.37 417.6l3.7 3.7M428.21 417.6l3.7 3.7M432.05 417.6l3.7 3.7M435.9 417.6l3.7 3.7M439.74 417.6l3.7 3.7M443.58 417.6l3.7 3.7M447.43 417.6l3.7 3.7M451.27 417.6l3.7 3.7M455.11 417.6l3.7 3.7M458.96 417.6l3.7 3.7M462.8 417.6l3.7 3.7M466.64 417.6l3.7 3.7M470.49 417.6l3.7 3.7M474.33 417.6l3.7 3.7M478.18 417.6l3.7 3.7M482.02 417.6l3.7 3.7M485.86 417.6l3.7 3.7M489.71 417.6l3.7 3.7M493.55 417.6l3.7 3.7M497.39 417.6l3.7 3.7M501.24 417.6l3.7 3.7M505.08 417.6l3.7 3.7M508.92 417.6l3.7 3.7M512.77 417.6l3.7 3.7M516.61 417.6l3.7 3.7M416.68 425.26l3.7 3.7M420.52 425.26l3.7 3.7M424.37 425.26l3.7 3.7M428.21 425.26l3.7 3.7M432.05 425.26l3.7 3.7M435.9 425.26l3.7 3.7M439.74 425.26l3.7 3.7M443.58 425.26l3.7 3.7M447.43 425.26l3.7 3.7M451.27 425.26l3.7 3.7M455.11 425.26l3.7 3.7M458.96 425.26l3.7 3.7M462.8 425.26l3.7 3.7M466.64 425.26l3.7 3.7M470.49 425.26l3.7 3.7M474.33 425.26l3.7 3.7M478.18 425.26l3.7 3.7M482.02 425.26l3.7 3.7M485.86 425.26l3.7 3.7M489.71 425.26l3.7 3.7M493.55 425.26l3.7 3.7M497.39 425.26l3.7 3.7M501.24 425.26l3.7 3.7M505.08 425.26l3.7 3.7M508.92 425.26l3.7 3.7M512.77 425.26l3.7 3.7M516.61 425.26l3.7 3.7M416.68 432.92l3.7 3.7M420.52 432.92l3.7 3.7M424.37 432.92l3.7 3.7M428.21 432.92l3.7 3.7M432.05 432.92l3.7 3.7M435.9 432.92l3.7 3.7M439.74 432.92l3.7 3.7M443.58 432.92l3.7 3.7M447.43 432.92l3.7 3.7M451.27 432.92l3.7 3.7M455.11 432.92l3.7 3.7M458.96 432.92l3.7 3.7M462.8 432.92l3.7 3.7M466.64 432.92l3.7 3.7M470.49 432.92l3.7 3.7M474.33 432.92l3.7 3.7M478.18 432.92l3.7 3.7M482.02 432.92l3.7 3.7M485.86 432.92l3.7 3.7M489.71 432.92l3.7 3.7M493.55 432.92l3.7 3.7M497.39 432.92l3.7 3.7M501.24 432.92l3.7 3.7M505.08 432.92l3.7 3.7M508.92 432.92l3.7 3.7M512.77 432.92l3.7 3.7M516.61 432.92l3.7 3.7M416.68 440.58l3.7 3.7M420.52 440.58l3.7 3.7M424.37 440.58l3.7 3.7M428.21 440.58l3.7 3.7M432.05 440.58l3.7 3.7M435.9 440.58l3.7 3.7M439.74 440.58l3.7 3.7M443.58 440.58l3.7 3.7M447.43 440.58l3.7 3.7M451.27 440.58l3.7 3.7M455.11 440.58l3.7 3.7M458.96 440.58l3.7 3.7M462.8 440.58l3.7 3.7M466.64 440.58l3.7 3.7M470.49 440.58l3.7 3.7M474.33 440.58l3.7 3.7M478.18 440.58l3.7 3.7M482.02 440.58l3.7 3.7M485.86 440.58l3.7 3.7M489.71 440.58l3.7 3.7M493.55 440.58l3.7 3.7M497.39 440.58l3.7 3.7M501.24 440.58l3.7 3.7M505.08 440.58l3.7 3.7M508.92 440.58l3.7 3.7M512.77 440.58l3.7 3.7M516.61 440.58l3.7 3.7M416.68 448.23l3.7 3.7M420.52 448.23l3.7 3.7M424.37 448.23l3.7 3.7M428.21 448.23l3.7 3.7M432.05 448.23l3.7 3.7M435.9 448.23l3.7 3.7M439.74 448.23l3.7 3.7M443.58 448.23l3.7 3.7M447.43 448.23l3.7 3.7M451.27 448.23l3.7 3.7M455.11 448.23l3.7 3.7M458.96 448.23l3.7 3.7M462.8 448.23l3.7 3.7M466.64 448.23l3.7 3.7M470.49 448.23l3.7 3.7M474.33 448.23l3.7 3.7M478.18 448.23l3.7 3.7M482.02 448.23l3.7 3.7M485.86 448.23l3.7 3.7M489.71 448.23l3.7 3.7M493.55 448.23l3.7 3.7M497.39 448.23l3.7 3.7M501.24 448.23l3.7 3.7M505.08 448.23l3.7 3.7M508.92 448.23l3.7 3.7M512.77 448.23l3.7 3.7M516.61 448.23l3.7 3.7M416.68 455.89l3.7 3.7M420.52 455.89l3.7 3.7M424.37 455.89l3.7 3.7M428.21 455.89l3.7 3.7M432.05 455.89l3.7 3.7M435.9 455.89l3.7 3.7M439.74 455.89l3.7 3.7M443.58 455.89l3.7 3.7M447.43 455.89l3.7 3.7M451.27 455.89l3.7 3.7M455.11 455.89l3.7 3.7M458.96 455.89l3.7 3.7M462.8 455.89l3.7 3.7M466.64 455.89l3.7 3.7M470.49 455.89l3.7 3.7M474.33 455.89l3.7 3.7M478.18 455.89l3.7 3.7M482.02 455.89l3.7 3.7M485.86 455.89l3.7 3.7M489.71 455.89l3.7 3.7M493.55 455.89l3.7 3.7M497.39 455.89l3.7 3.7M501.24 455.89l3.7 3.7M505.08 455.89l3.7 3.7M508.92 455.89l3.7 3.7M512.77 455.89l3.7 3.7M516.61 455.89l3.7 3.7M416.68 463.55l3.7 3.7M420.52 463.55l3.7 3.7M424.37 463.55l3.7 3.7M428.21 463.55l3.7 3.7M432.05 463.55l3.7 3.7M435.9 463.55l3.7 3.7M439.74 463.55l3.7 3.7M443.58 463.55l3.7 3.7M447.43 463.55l3.7 3.7M451.27 463.55l3.7 3.7M455.11 463.55l3.7 3.7M458.96 463.55l3.7 3.7M462.8 463.55l3.7 3.7M466.64 463.55l3.7 3.7M470.49 463.55l3.7 3.7M474.33 463.55l3.7 3.7M478.18 463.55l3.7 3.7M482.02 463.55l3.7 3.7M485.86 463.55l3.7 3.7M489.71 463.55l3.7 3.7M493.55 463.55l3.7 3.7M497.39 463.55l3.7 3.7M501.24 463.55l3.7 3.7M505.08 463.55l3.7 3.7M508.92 463.55l3.7 3.7M512.77 463.55l3.7 3.7M516.61 463.55l3.7 3.7M416.68 471.21l3.7 3.7M420.52 471.21l3.7 3.7M424.37 471.21l3.7 3.7M428.21 471.21l3.7 3.7M432.05 471.21l3.7 3.7M435.9 471.21l3.7 3.7M439.74 471.21l3.7 3.7M443.58 471.21l3.7 3.7M447.43 471.21l3.7 3.7M451.27 471.21l3.7 3.7M455.11 471.21l3.7 3.7M458.96 471.21l3.7 3.7M462.8 471.21l3.7 3.7M466.64 471.21l3.7 3.7M470.49 471.21l3.7 3.7M474.33 471.21l3.7 3.7M478.18 471.21l3.7 3.7M482.02 471.21l3.7 3.7M485.86 471.21l3.7 3.7M489.71 471.21l3.7 3.7M493.55 471.21l3.7 3.7M497.39 471.21l3.7 3.7M501.24 471.21l3.7 3.7M505.08 471.21l3.7 3.7M508.92 471.21l3.7 3.7M512.77 471.21l3.7 3.7M516.61 471.21l3.7 3.7M416.68 478.87l3.7 3.7M420.52 478.87l3.7 3.7M424.37 478.87l3.7 3.7M428.21 478.87l3.7 3.7M432.05 478.87l3.7 3.7M435.9 478.87l3.7 3.7M439.74 478.87l3.7 3.7M443.58 478.87l3.7 3.7M447.43 478.87l3.7 3.7M451.27 478.87l3.7 3.7M455.11 478.87l3.7 3.7M458.96 478.87l3.7 3.7M462.8 478.87l3.7 3.7M466.64 478.87l3.7 3.7M470.49 478.87l3.7 3.7M474.33 478.87l3.7 3.7M478.18 478.87l3.7 3.7M482.02 478.87l3.7 3.7M485.86 478.87l3.7 3.7M489.71 478.87l3.7 3.7M493.55 478.87l3.7 3.7M497.39 478.87l3.7 3.7M501.24 478.87l3.7 3.7M505.08 478.87l3.7 3.7M508.92 478.87l3.7 3.7M512.77 478.87l3.7 3.7M516.61 478.87l3.7 3.7"/>
<path d="M424.73 322.6H511.8V472.2H424.73" stroke="#161616" stroke-width="1.15" fill="none" stroke-linejoin="miter"/>
<clipPath id="c7"><rect x="424.3" y="153.1" width="86.5" height="169.5"/></clipPath>
<rect x="425.3" y="153.1" width="86.5" height="169.5" fill="#FFC30F"/>
<path d="M425.3 153.67V322.03" stroke="#161616" stroke-width="1.15" fill="none"/>
<path clip-path="url(#c7)" fill="none" stroke="#1c1400" stroke-opacity="0.8" stroke-width="1.15" d="M416.68 146.02l3.5 -3.5M420.53 146.02l3.5 -3.5M424.37 146.02l3.5 -3.5M428.21 146.02l3.5 -3.5M432.06 146.02l3.5 -3.5M435.9 146.02l3.5 -3.5M439.74 146.02l3.5 -3.5M443.59 146.02l3.5 -3.5M447.43 146.02l3.5 -3.5M451.27 146.02l3.5 -3.5M455.12 146.02l3.5 -3.5M458.96 146.02l3.5 -3.5M462.8 146.02l3.5 -3.5M466.65 146.02l3.5 -3.5M470.49 146.02l3.5 -3.5M474.33 146.02l3.5 -3.5M478.18 146.02l3.5 -3.5M482.02 146.02l3.5 -3.5M485.87 146.02l3.5 -3.5M489.71 146.02l3.5 -3.5M493.55 146.02l3.5 -3.5M497.4 146.02l3.5 -3.5M501.24 146.02l3.5 -3.5M505.08 146.02l3.5 -3.5M508.93 146.02l3.5 -3.5M512.77 146.02l3.5 -3.5M516.61 146.02l3.5 -3.5M416.68 153.68l3.5 -3.5M420.53 153.68l3.5 -3.5M424.37 153.68l3.5 -3.5M428.21 153.68l3.5 -3.5M432.06 153.68l3.5 -3.5M435.9 153.68l3.5 -3.5M439.74 153.68l3.5 -3.5M443.59 153.68l3.5 -3.5M447.43 153.68l3.5 -3.5M451.27 153.68l3.5 -3.5M455.12 153.68l3.5 -3.5M458.96 153.68l3.5 -3.5M462.8 153.68l3.5 -3.5M466.65 153.68l3.5 -3.5M470.49 153.68l3.5 -3.5M474.33 153.68l3.5 -3.5M478.18 153.68l3.5 -3.5M482.02 153.68l3.5 -3.5M485.87 153.68l3.5 -3.5M489.71 153.68l3.5 -3.5M493.55 153.68l3.5 -3.5M497.4 153.68l3.5 -3.5M501.24 153.68l3.5 -3.5M505.08 153.68l3.5 -3.5M508.93 153.68l3.5 -3.5M512.77 153.68l3.5 -3.5M516.61 153.68l3.5 -3.5M416.68 161.34l3.5 -3.5M420.53 161.34l3.5 -3.5M424.37 161.34l3.5 -3.5M428.21 161.34l3.5 -3.5M432.06 161.34l3.5 -3.5M435.9 161.34l3.5 -3.5M439.74 161.34l3.5 -3.5M443.59 161.34l3.5 -3.5M447.43 161.34l3.5 -3.5M451.27 161.34l3.5 -3.5M455.12 161.34l3.5 -3.5M458.96 161.34l3.5 -3.5M462.8 161.34l3.5 -3.5M466.65 161.34l3.5 -3.5M470.49 161.34l3.5 -3.5M474.33 161.34l3.5 -3.5M478.18 161.34l3.5 -3.5M482.02 161.34l3.5 -3.5M485.87 161.34l3.5 -3.5M489.71 161.34l3.5 -3.5M493.55 161.34l3.5 -3.5M497.4 161.34l3.5 -3.5M501.24 161.34l3.5 -3.5M505.08 161.34l3.5 -3.5M508.93 161.34l3.5 -3.5M512.77 161.34l3.5 -3.5M516.61 161.34l3.5 -3.5M416.68 169l3.5 -3.5M420.53 169l3.5 -3.5M424.37 169l3.5 -3.5M428.21 169l3.5 -3.5M432.06 169l3.5 -3.5M435.9 169l3.5 -3.5M439.74 169l3.5 -3.5M443.59 169l3.5 -3.5M447.43 169l3.5 -3.5M451.27 169l3.5 -3.5M455.12 169l3.5 -3.5M458.96 169l3.5 -3.5M462.8 169l3.5 -3.5M466.65 169l3.5 -3.5M470.49 169l3.5 -3.5M474.33 169l3.5 -3.5M478.18 169l3.5 -3.5M482.02 169l3.5 -3.5M485.87 169l3.5 -3.5M489.71 169l3.5 -3.5M493.55 169l3.5 -3.5M497.4 169l3.5 -3.5M501.24 169l3.5 -3.5M505.08 169l3.5 -3.5M508.93 169l3.5 -3.5M512.77 169l3.5 -3.5M516.61 169l3.5 -3.5M416.68 176.66l3.5 -3.5M420.53 176.66l3.5 -3.5M424.37 176.66l3.5 -3.5M428.21 176.66l3.5 -3.5M432.06 176.66l3.5 -3.5M435.9 176.66l3.5 -3.5M439.74 176.66l3.5 -3.5M443.59 176.66l3.5 -3.5M447.43 176.66l3.5 -3.5M451.27 176.66l3.5 -3.5M455.12 176.66l3.5 -3.5M458.96 176.66l3.5 -3.5M462.8 176.66l3.5 -3.5M466.65 176.66l3.5 -3.5M470.49 176.66l3.5 -3.5M474.33 176.66l3.5 -3.5M478.18 176.66l3.5 -3.5M482.02 176.66l3.5 -3.5M485.87 176.66l3.5 -3.5M489.71 176.66l3.5 -3.5M493.55 176.66l3.5 -3.5M497.4 176.66l3.5 -3.5M501.24 176.66l3.5 -3.5M505.08 176.66l3.5 -3.5M508.93 176.66l3.5 -3.5M512.77 176.66l3.5 -3.5M516.61 176.66l3.5 -3.5M416.68 184.32l3.5 -3.5M420.53 184.32l3.5 -3.5M424.37 184.32l3.5 -3.5M428.21 184.32l3.5 -3.5M432.06 184.32l3.5 -3.5M435.9 184.32l3.5 -3.5M439.74 184.32l3.5 -3.5M443.59 184.32l3.5 -3.5M447.43 184.32l3.5 -3.5M451.27 184.32l3.5 -3.5M455.12 184.32l3.5 -3.5M458.96 184.32l3.5 -3.5M462.8 184.32l3.5 -3.5M466.65 184.32l3.5 -3.5M470.49 184.32l3.5 -3.5M474.33 184.32l3.5 -3.5M478.18 184.32l3.5 -3.5M482.02 184.32l3.5 -3.5M485.87 184.32l3.5 -3.5M489.71 184.32l3.5 -3.5M493.55 184.32l3.5 -3.5M497.4 184.32l3.5 -3.5M501.24 184.32l3.5 -3.5M505.08 184.32l3.5 -3.5M508.93 184.32l3.5 -3.5M512.77 184.32l3.5 -3.5M516.61 184.32l3.5 -3.5M416.68 191.97l3.5 -3.5M420.53 191.97l3.5 -3.5M424.37 191.97l3.5 -3.5M428.21 191.97l3.5 -3.5M432.06 191.97l3.5 -3.5M435.9 191.97l3.5 -3.5M439.74 191.97l3.5 -3.5M443.59 191.97l3.5 -3.5M447.43 191.97l3.5 -3.5M451.27 191.97l3.5 -3.5M455.12 191.97l3.5 -3.5M458.96 191.97l3.5 -3.5M462.8 191.97l3.5 -3.5M466.65 191.97l3.5 -3.5M470.49 191.97l3.5 -3.5M474.33 191.97l3.5 -3.5M478.18 191.97l3.5 -3.5M482.02 191.97l3.5 -3.5M485.87 191.97l3.5 -3.5M489.71 191.97l3.5 -3.5M493.55 191.97l3.5 -3.5M497.4 191.97l3.5 -3.5M501.24 191.97l3.5 -3.5M505.08 191.97l3.5 -3.5M508.93 191.97l3.5 -3.5M512.77 191.97l3.5 -3.5M516.61 191.97l3.5 -3.5M416.68 199.63l3.5 -3.5M420.53 199.63l3.5 -3.5M424.37 199.63l3.5 -3.5M428.21 199.63l3.5 -3.5M432.06 199.63l3.5 -3.5M435.9 199.63l3.5 -3.5M439.74 199.63l3.5 -3.5M443.59 199.63l3.5 -3.5M447.43 199.63l3.5 -3.5M451.27 199.63l3.5 -3.5M455.12 199.63l3.5 -3.5M458.96 199.63l3.5 -3.5M462.8 199.63l3.5 -3.5M466.65 199.63l3.5 -3.5M470.49 199.63l3.5 -3.5M474.33 199.63l3.5 -3.5M478.18 199.63l3.5 -3.5M482.02 199.63l3.5 -3.5M485.87 199.63l3.5 -3.5M489.71 199.63l3.5 -3.5M493.55 199.63l3.5 -3.5M497.4 199.63l3.5 -3.5M501.24 199.63l3.5 -3.5M505.08 199.63l3.5 -3.5M508.93 199.63l3.5 -3.5M512.77 199.63l3.5 -3.5M516.61 199.63l3.5 -3.5M416.68 207.29l3.5 -3.5M420.53 207.29l3.5 -3.5M424.37 207.29l3.5 -3.5M428.21 207.29l3.5 -3.5M432.06 207.29l3.5 -3.5M435.9 207.29l3.5 -3.5M439.74 207.29l3.5 -3.5M443.59 207.29l3.5 -3.5M447.43 207.29l3.5 -3.5M451.27 207.29l3.5 -3.5M455.12 207.29l3.5 -3.5M458.96 207.29l3.5 -3.5M462.8 207.29l3.5 -3.5M466.65 207.29l3.5 -3.5M470.49 207.29l3.5 -3.5M474.33 207.29l3.5 -3.5M478.18 207.29l3.5 -3.5M482.02 207.29l3.5 -3.5M485.87 207.29l3.5 -3.5M489.71 207.29l3.5 -3.5M493.55 207.29l3.5 -3.5M497.4 207.29l3.5 -3.5M501.24 207.29l3.5 -3.5M505.08 207.29l3.5 -3.5M508.93 207.29l3.5 -3.5M512.77 207.29l3.5 -3.5M516.61 207.29l3.5 -3.5M416.68 214.95l3.5 -3.5M420.53 214.95l3.5 -3.5M424.37 214.95l3.5 -3.5M428.21 214.95l3.5 -3.5M432.06 214.95l3.5 -3.5M435.9 214.95l3.5 -3.5M439.74 214.95l3.5 -3.5M443.59 214.95l3.5 -3.5M447.43 214.95l3.5 -3.5M451.27 214.95l3.5 -3.5M455.12 214.95l3.5 -3.5M458.96 214.95l3.5 -3.5M462.8 214.95l3.5 -3.5M466.65 214.95l3.5 -3.5M470.49 214.95l3.5 -3.5M474.33 214.95l3.5 -3.5M478.18 214.95l3.5 -3.5M482.02 214.95l3.5 -3.5M485.87 214.95l3.5 -3.5M489.71 214.95l3.5 -3.5M493.55 214.95l3.5 -3.5M497.4 214.95l3.5 -3.5M501.24 214.95l3.5 -3.5M505.08 214.95l3.5 -3.5M508.93 214.95l3.5 -3.5M512.77 214.95l3.5 -3.5M516.61 214.95l3.5 -3.5M416.68 222.61l3.5 -3.5M420.53 222.61l3.5 -3.5M424.37 222.61l3.5 -3.5M428.21 222.61l3.5 -3.5M432.06 222.61l3.5 -3.5M435.9 222.61l3.5 -3.5M439.74 222.61l3.5 -3.5M443.59 222.61l3.5 -3.5M447.43 222.61l3.5 -3.5M451.27 222.61l3.5 -3.5M455.12 222.61l3.5 -3.5M458.96 222.61l3.5 -3.5M462.8 222.61l3.5 -3.5M466.65 222.61l3.5 -3.5M470.49 222.61l3.5 -3.5M474.33 222.61l3.5 -3.5M478.18 222.61l3.5 -3.5M482.02 222.61l3.5 -3.5M485.87 222.61l3.5 -3.5M489.71 222.61l3.5 -3.5M493.55 222.61l3.5 -3.5M497.4 222.61l3.5 -3.5M501.24 222.61l3.5 -3.5M505.08 222.61l3.5 -3.5M508.93 222.61l3.5 -3.5M512.77 222.61l3.5 -3.5M516.61 222.61l3.5 -3.5M416.68 230.27l3.5 -3.5M420.53 230.27l3.5 -3.5M424.37 230.27l3.5 -3.5M428.21 230.27l3.5 -3.5M432.06 230.27l3.5 -3.5M435.9 230.27l3.5 -3.5M439.74 230.27l3.5 -3.5M443.59 230.27l3.5 -3.5M447.43 230.27l3.5 -3.5M451.27 230.27l3.5 -3.5M455.12 230.27l3.5 -3.5M458.96 230.27l3.5 -3.5M462.8 230.27l3.5 -3.5M466.65 230.27l3.5 -3.5M470.49 230.27l3.5 -3.5M474.33 230.27l3.5 -3.5M478.18 230.27l3.5 -3.5M482.02 230.27l3.5 -3.5M485.87 230.27l3.5 -3.5M489.71 230.27l3.5 -3.5M493.55 230.27l3.5 -3.5M497.4 230.27l3.5 -3.5M501.24 230.27l3.5 -3.5M505.08 230.27l3.5 -3.5M508.93 230.27l3.5 -3.5M512.77 230.27l3.5 -3.5M516.61 230.27l3.5 -3.5M416.68 237.93l3.5 -3.5M420.53 237.93l3.5 -3.5M424.37 237.93l3.5 -3.5M428.21 237.93l3.5 -3.5M432.06 237.93l3.5 -3.5M435.9 237.93l3.5 -3.5M439.74 237.93l3.5 -3.5M443.59 237.93l3.5 -3.5M447.43 237.93l3.5 -3.5M451.27 237.93l3.5 -3.5M455.12 237.93l3.5 -3.5M458.96 237.93l3.5 -3.5M462.8 237.93l3.5 -3.5M466.65 237.93l3.5 -3.5M470.49 237.93l3.5 -3.5M474.33 237.93l3.5 -3.5M478.18 237.93l3.5 -3.5M482.02 237.93l3.5 -3.5M485.87 237.93l3.5 -3.5M489.71 237.93l3.5 -3.5M493.55 237.93l3.5 -3.5M497.4 237.93l3.5 -3.5M501.24 237.93l3.5 -3.5M505.08 237.93l3.5 -3.5M508.93 237.93l3.5 -3.5M512.77 237.93l3.5 -3.5M516.61 237.93l3.5 -3.5M416.68 245.59l3.5 -3.5M420.53 245.59l3.5 -3.5M424.37 245.59l3.5 -3.5M428.21 245.59l3.5 -3.5M432.06 245.59l3.5 -3.5M435.9 245.59l3.5 -3.5M439.74 245.59l3.5 -3.5M443.59 245.59l3.5 -3.5M447.43 245.59l3.5 -3.5M451.27 245.59l3.5 -3.5M455.12 245.59l3.5 -3.5M458.96 245.59l3.5 -3.5M462.8 245.59l3.5 -3.5M466.65 245.59l3.5 -3.5M470.49 245.59l3.5 -3.5M474.33 245.59l3.5 -3.5M478.18 245.59l3.5 -3.5M482.02 245.59l3.5 -3.5M485.87 245.59l3.5 -3.5M489.71 245.59l3.5 -3.5M493.55 245.59l3.5 -3.5M497.4 245.59l3.5 -3.5M501.24 245.59l3.5 -3.5M505.08 245.59l3.5 -3.5M508.93 245.59l3.5 -3.5M512.77 245.59l3.5 -3.5M516.61 245.59l3.5 -3.5M416.68 253.25l3.5 -3.5M420.53 253.25l3.5 -3.5M424.37 253.25l3.5 -3.5M428.21 253.25l3.5 -3.5M432.06 253.25l3.5 -3.5M435.9 253.25l3.5 -3.5M439.74 253.25l3.5 -3.5M443.59 253.25l3.5 -3.5M447.43 253.25l3.5 -3.5M451.27 253.25l3.5 -3.5M455.12 253.25l3.5 -3.5M458.96 253.25l3.5 -3.5M462.8 253.25l3.5 -3.5M466.65 253.25l3.5 -3.5M470.49 253.25l3.5 -3.5M474.33 253.25l3.5 -3.5M478.18 253.25l3.5 -3.5M482.02 253.25l3.5 -3.5M485.87 253.25l3.5 -3.5M489.71 253.25l3.5 -3.5M493.55 253.25l3.5 -3.5M497.4 253.25l3.5 -3.5M501.24 253.25l3.5 -3.5M505.08 253.25l3.5 -3.5M508.93 253.25l3.5 -3.5M512.77 253.25l3.5 -3.5M516.61 253.25l3.5 -3.5M416.68 260.91l3.5 -3.5M420.53 260.91l3.5 -3.5M424.37 260.91l3.5 -3.5M428.21 260.91l3.5 -3.5M432.06 260.91l3.5 -3.5M435.9 260.91l3.5 -3.5M439.74 260.91l3.5 -3.5M443.59 260.91l3.5 -3.5M447.43 260.91l3.5 -3.5M451.27 260.91l3.5 -3.5M455.12 260.91l3.5 -3.5M458.96 260.91l3.5 -3.5M462.8 260.91l3.5 -3.5M466.65 260.91l3.5 -3.5M470.49 260.91l3.5 -3.5M474.33 260.91l3.5 -3.5M478.18 260.91l3.5 -3.5M482.02 260.91l3.5 -3.5M485.87 260.91l3.5 -3.5M489.71 260.91l3.5 -3.5M493.55 260.91l3.5 -3.5M497.4 260.91l3.5 -3.5M501.24 260.91l3.5 -3.5M505.08 260.91l3.5 -3.5M508.93 260.91l3.5 -3.5M512.77 260.91l3.5 -3.5M516.61 260.91l3.5 -3.5M416.68 268.56l3.5 -3.5M420.53 268.56l3.5 -3.5M424.37 268.56l3.5 -3.5M428.21 268.56l3.5 -3.5M432.06 268.56l3.5 -3.5M435.9 268.56l3.5 -3.5M439.74 268.56l3.5 -3.5M443.59 268.56l3.5 -3.5M447.43 268.56l3.5 -3.5M451.27 268.56l3.5 -3.5M455.12 268.56l3.5 -3.5M458.96 268.56l3.5 -3.5M462.8 268.56l3.5 -3.5M466.65 268.56l3.5 -3.5M470.49 268.56l3.5 -3.5M474.33 268.56l3.5 -3.5M478.18 268.56l3.5 -3.5M482.02 268.56l3.5 -3.5M485.87 268.56l3.5 -3.5M489.71 268.56l3.5 -3.5M493.55 268.56l3.5 -3.5M497.4 268.56l3.5 -3.5M501.24 268.56l3.5 -3.5M505.08 268.56l3.5 -3.5M508.93 268.56l3.5 -3.5M512.77 268.56l3.5 -3.5M516.61 268.56l3.5 -3.5M416.68 276.22l3.5 -3.5M420.53 276.22l3.5 -3.5M424.37 276.22l3.5 -3.5M428.21 276.22l3.5 -3.5M432.06 276.22l3.5 -3.5M435.9 276.22l3.5 -3.5M439.74 276.22l3.5 -3.5M443.59 276.22l3.5 -3.5M447.43 276.22l3.5 -3.5M451.27 276.22l3.5 -3.5M455.12 276.22l3.5 -3.5M458.96 276.22l3.5 -3.5M462.8 276.22l3.5 -3.5M466.65 276.22l3.5 -3.5M470.49 276.22l3.5 -3.5M474.33 276.22l3.5 -3.5M478.18 276.22l3.5 -3.5M482.02 276.22l3.5 -3.5M485.87 276.22l3.5 -3.5M489.71 276.22l3.5 -3.5M493.55 276.22l3.5 -3.5M497.4 276.22l3.5 -3.5M501.24 276.22l3.5 -3.5M505.08 276.22l3.5 -3.5M508.93 276.22l3.5 -3.5M512.77 276.22l3.5 -3.5M516.61 276.22l3.5 -3.5M416.68 283.88l3.5 -3.5M420.53 283.88l3.5 -3.5M424.37 283.88l3.5 -3.5M428.21 283.88l3.5 -3.5M432.06 283.88l3.5 -3.5M435.9 283.88l3.5 -3.5M439.74 283.88l3.5 -3.5M443.59 283.88l3.5 -3.5M447.43 283.88l3.5 -3.5M451.27 283.88l3.5 -3.5M455.12 283.88l3.5 -3.5M458.96 283.88l3.5 -3.5M462.8 283.88l3.5 -3.5M466.65 283.88l3.5 -3.5M470.49 283.88l3.5 -3.5M474.33 283.88l3.5 -3.5M478.18 283.88l3.5 -3.5M482.02 283.88l3.5 -3.5M485.87 283.88l3.5 -3.5M489.71 283.88l3.5 -3.5M493.55 283.88l3.5 -3.5M497.4 283.88l3.5 -3.5M501.24 283.88l3.5 -3.5M505.08 283.88l3.5 -3.5M508.93 283.88l3.5 -3.5M512.77 283.88l3.5 -3.5M516.61 283.88l3.5 -3.5M416.68 291.54l3.5 -3.5M420.53 291.54l3.5 -3.5M424.37 291.54l3.5 -3.5M428.21 291.54l3.5 -3.5M432.06 291.54l3.5 -3.5M435.9 291.54l3.5 -3.5M439.74 291.54l3.5 -3.5M443.59 291.54l3.5 -3.5M447.43 291.54l3.5 -3.5M451.27 291.54l3.5 -3.5M455.12 291.54l3.5 -3.5M458.96 291.54l3.5 -3.5M462.8 291.54l3.5 -3.5M466.65 291.54l3.5 -3.5M470.49 291.54l3.5 -3.5M474.33 291.54l3.5 -3.5M478.18 291.54l3.5 -3.5M482.02 291.54l3.5 -3.5M485.87 291.54l3.5 -3.5M489.71 291.54l3.5 -3.5M493.55 291.54l3.5 -3.5M497.4 291.54l3.5 -3.5M501.24 291.54l3.5 -3.5M505.08 291.54l3.5 -3.5M508.93 291.54l3.5 -3.5M512.77 291.54l3.5 -3.5M516.61 291.54l3.5 -3.5M416.68 299.2l3.5 -3.5M420.53 299.2l3.5 -3.5M424.37 299.2l3.5 -3.5M428.21 299.2l3.5 -3.5M432.06 299.2l3.5 -3.5M435.9 299.2l3.5 -3.5M439.74 299.2l3.5 -3.5M443.59 299.2l3.5 -3.5M447.43 299.2l3.5 -3.5M451.27 299.2l3.5 -3.5M455.12 299.2l3.5 -3.5M458.96 299.2l3.5 -3.5M462.8 299.2l3.5 -3.5M466.65 299.2l3.5 -3.5M470.49 299.2l3.5 -3.5M474.33 299.2l3.5 -3.5M478.18 299.2l3.5 -3.5M482.02 299.2l3.5 -3.5M485.87 299.2l3.5 -3.5M489.71 299.2l3.5 -3.5M493.55 299.2l3.5 -3.5M497.4 299.2l3.5 -3.5M501.24 299.2l3.5 -3.5M505.08 299.2l3.5 -3.5M508.93 299.2l3.5 -3.5M512.77 299.2l3.5 -3.5M516.61 299.2l3.5 -3.5M416.68 306.86l3.5 -3.5M420.53 306.86l3.5 -3.5M424.37 306.86l3.5 -3.5M428.21 306.86l3.5 -3.5M432.06 306.86l3.5 -3.5M435.9 306.86l3.5 -3.5M439.74 306.86l3.5 -3.5M443.59 306.86l3.5 -3.5M447.43 306.86l3.5 -3.5M451.27 306.86l3.5 -3.5M455.12 306.86l3.5 -3.5M458.96 306.86l3.5 -3.5M462.8 306.86l3.5 -3.5M466.65 306.86l3.5 -3.5M470.49 306.86l3.5 -3.5M474.33 306.86l3.5 -3.5M478.18 306.86l3.5 -3.5M482.02 306.86l3.5 -3.5M485.87 306.86l3.5 -3.5M489.71 306.86l3.5 -3.5M493.55 306.86l3.5 -3.5M497.4 306.86l3.5 -3.5M501.24 306.86l3.5 -3.5M505.08 306.86l3.5 -3.5M508.93 306.86l3.5 -3.5M512.77 306.86l3.5 -3.5M516.61 306.86l3.5 -3.5M416.68 314.52l3.5 -3.5M420.53 314.52l3.5 -3.5M424.37 314.52l3.5 -3.5M428.21 314.52l3.5 -3.5M432.06 314.52l3.5 -3.5M435.9 314.52l3.5 -3.5M439.74 314.52l3.5 -3.5M443.59 314.52l3.5 -3.5M447.43 314.52l3.5 -3.5M451.27 314.52l3.5 -3.5M455.12 314.52l3.5 -3.5M458.96 314.52l3.5 -3.5M462.8 314.52l3.5 -3.5M466.65 314.52l3.5 -3.5M470.49 314.52l3.5 -3.5M474.33 314.52l3.5 -3.5M478.18 314.52l3.5 -3.5M482.02 314.52l3.5 -3.5M485.87 314.52l3.5 -3.5M489.71 314.52l3.5 -3.5M493.55 314.52l3.5 -3.5M497.4 314.52l3.5 -3.5M501.24 314.52l3.5 -3.5M505.08 314.52l3.5 -3.5M508.93 314.52l3.5 -3.5M512.77 314.52l3.5 -3.5M516.61 314.52l3.5 -3.5M416.68 322.18l3.5 -3.5M420.53 322.18l3.5 -3.5M424.37 322.18l3.5 -3.5M428.21 322.18l3.5 -3.5M432.06 322.18l3.5 -3.5M435.9 322.18l3.5 -3.5M439.74 322.18l3.5 -3.5M443.59 322.18l3.5 -3.5M447.43 322.18l3.5 -3.5M451.27 322.18l3.5 -3.5M455.12 322.18l3.5 -3.5M458.96 322.18l3.5 -3.5M462.8 322.18l3.5 -3.5M466.65 322.18l3.5 -3.5M470.49 322.18l3.5 -3.5M474.33 322.18l3.5 -3.5M478.18 322.18l3.5 -3.5M482.02 322.18l3.5 -3.5M485.87 322.18l3.5 -3.5M489.71 322.18l3.5 -3.5M493.55 322.18l3.5 -3.5M497.4 322.18l3.5 -3.5M501.24 322.18l3.5 -3.5M505.08 322.18l3.5 -3.5M508.93 322.18l3.5 -3.5M512.77 322.18l3.5 -3.5M516.61 322.18l3.5 -3.5M416.68 329.84l3.5 -3.5M420.53 329.84l3.5 -3.5M424.37 329.84l3.5 -3.5M428.21 329.84l3.5 -3.5M432.06 329.84l3.5 -3.5M435.9 329.84l3.5 -3.5M439.74 329.84l3.5 -3.5M443.59 329.84l3.5 -3.5M447.43 329.84l3.5 -3.5M451.27 329.84l3.5 -3.5M455.12 329.84l3.5 -3.5M458.96 329.84l3.5 -3.5M462.8 329.84l3.5 -3.5M466.65 329.84l3.5 -3.5M470.49 329.84l3.5 -3.5M474.33 329.84l3.5 -3.5M478.18 329.84l3.5 -3.5M482.02 329.84l3.5 -3.5M485.87 329.84l3.5 -3.5M489.71 329.84l3.5 -3.5M493.55 329.84l3.5 -3.5M497.4 329.84l3.5 -3.5M501.24 329.84l3.5 -3.5M505.08 329.84l3.5 -3.5M508.93 329.84l3.5 -3.5M512.77 329.84l3.5 -3.5M516.61 329.84l3.5 -3.5"/>
<path d="M424.73 153.1H511.8V322.6H424.73" stroke="#161616" stroke-width="1.15" fill="none" stroke-linejoin="miter"/>
<clipPath id="c8"><rect x="424.3" y="119.1" width="86.5" height="34"/></clipPath>
<rect x="425.3" y="119.1" width="86.5" height="34" fill="#37F8BC"/>
<path d="M425.3 119.67V152.53" stroke="#161616" stroke-width="1.15" fill="none"/>
<path clip-path="url(#c8)" fill="#000" d="M413.19 113.23h3.6v1.2h-3.6zM420.88 113.23h3.6v1.2h-3.6zM428.56 113.23h3.6v1.2h-3.6zM436.25 113.23h3.6v1.2h-3.6zM443.94 113.23h3.6v1.2h-3.6zM451.62 113.23h3.6v1.2h-3.6zM459.31 113.23h3.6v1.2h-3.6zM467 113.23h3.6v1.2h-3.6zM474.68 113.23h3.6v1.2h-3.6zM482.37 113.23h3.6v1.2h-3.6zM490.06 113.23h3.6v1.2h-3.6zM497.75 113.23h3.6v1.2h-3.6zM505.43 113.23h3.6v1.2h-3.6zM513.12 113.23h3.6v1.2h-3.6zM520.81 113.23h3.6v1.2h-3.6zM417.03 117.06h3.6v1.2h-3.6zM424.72 117.06h3.6v1.2h-3.6zM432.41 117.06h3.6v1.2h-3.6zM440.09 117.06h3.6v1.2h-3.6zM447.78 117.06h3.6v1.2h-3.6zM455.47 117.06h3.6v1.2h-3.6zM463.15 117.06h3.6v1.2h-3.6zM470.84 117.06h3.6v1.2h-3.6zM478.53 117.06h3.6v1.2h-3.6zM486.21 117.06h3.6v1.2h-3.6zM493.9 117.06h3.6v1.2h-3.6zM501.59 117.06h3.6v1.2h-3.6zM509.28 117.06h3.6v1.2h-3.6zM516.96 117.06h3.6v1.2h-3.6zM413.19 120.89h3.6v1.2h-3.6zM420.88 120.89h3.6v1.2h-3.6zM428.56 120.89h3.6v1.2h-3.6zM436.25 120.89h3.6v1.2h-3.6zM443.94 120.89h3.6v1.2h-3.6zM451.62 120.89h3.6v1.2h-3.6zM459.31 120.89h3.6v1.2h-3.6zM467 120.89h3.6v1.2h-3.6zM474.68 120.89h3.6v1.2h-3.6zM482.37 120.89h3.6v1.2h-3.6zM490.06 120.89h3.6v1.2h-3.6zM497.75 120.89h3.6v1.2h-3.6zM505.43 120.89h3.6v1.2h-3.6zM513.12 120.89h3.6v1.2h-3.6zM520.81 120.89h3.6v1.2h-3.6zM417.03 124.72h3.6v1.2h-3.6zM424.72 124.72h3.6v1.2h-3.6zM432.41 124.72h3.6v1.2h-3.6zM440.09 124.72h3.6v1.2h-3.6zM447.78 124.72h3.6v1.2h-3.6zM455.47 124.72h3.6v1.2h-3.6zM463.15 124.72h3.6v1.2h-3.6zM470.84 124.72h3.6v1.2h-3.6zM478.53 124.72h3.6v1.2h-3.6zM486.21 124.72h3.6v1.2h-3.6zM493.9 124.72h3.6v1.2h-3.6zM501.59 124.72h3.6v1.2h-3.6zM509.28 124.72h3.6v1.2h-3.6zM516.96 124.72h3.6v1.2h-3.6zM413.19 128.55h3.6v1.2h-3.6zM420.88 128.55h3.6v1.2h-3.6zM428.56 128.55h3.6v1.2h-3.6zM436.25 128.55h3.6v1.2h-3.6zM443.94 128.55h3.6v1.2h-3.6zM451.62 128.55h3.6v1.2h-3.6zM459.31 128.55h3.6v1.2h-3.6zM467 128.55h3.6v1.2h-3.6zM474.68 128.55h3.6v1.2h-3.6zM482.37 128.55h3.6v1.2h-3.6zM490.06 128.55h3.6v1.2h-3.6zM497.75 128.55h3.6v1.2h-3.6zM505.43 128.55h3.6v1.2h-3.6zM513.12 128.55h3.6v1.2h-3.6zM520.81 128.55h3.6v1.2h-3.6zM417.03 132.38h3.6v1.2h-3.6zM424.72 132.38h3.6v1.2h-3.6zM432.41 132.38h3.6v1.2h-3.6zM440.09 132.38h3.6v1.2h-3.6zM447.78 132.38h3.6v1.2h-3.6zM455.47 132.38h3.6v1.2h-3.6zM463.15 132.38h3.6v1.2h-3.6zM470.84 132.38h3.6v1.2h-3.6zM478.53 132.38h3.6v1.2h-3.6zM486.21 132.38h3.6v1.2h-3.6zM493.9 132.38h3.6v1.2h-3.6zM501.59 132.38h3.6v1.2h-3.6zM509.28 132.38h3.6v1.2h-3.6zM516.96 132.38h3.6v1.2h-3.6zM413.19 136.21h3.6v1.2h-3.6zM420.88 136.21h3.6v1.2h-3.6zM428.56 136.21h3.6v1.2h-3.6zM436.25 136.21h3.6v1.2h-3.6zM443.94 136.21h3.6v1.2h-3.6zM451.62 136.21h3.6v1.2h-3.6zM459.31 136.21h3.6v1.2h-3.6zM467 136.21h3.6v1.2h-3.6zM474.68 136.21h3.6v1.2h-3.6zM482.37 136.21h3.6v1.2h-3.6zM490.06 136.21h3.6v1.2h-3.6zM497.75 136.21h3.6v1.2h-3.6zM505.43 136.21h3.6v1.2h-3.6zM513.12 136.21h3.6v1.2h-3.6zM520.81 136.21h3.6v1.2h-3.6zM417.03 140.04h3.6v1.2h-3.6zM424.72 140.04h3.6v1.2h-3.6zM432.41 140.04h3.6v1.2h-3.6zM440.09 140.04h3.6v1.2h-3.6zM447.78 140.04h3.6v1.2h-3.6zM455.47 140.04h3.6v1.2h-3.6zM463.15 140.04h3.6v1.2h-3.6zM470.84 140.04h3.6v1.2h-3.6zM478.53 140.04h3.6v1.2h-3.6zM486.21 140.04h3.6v1.2h-3.6zM493.9 140.04h3.6v1.2h-3.6zM501.59 140.04h3.6v1.2h-3.6zM509.28 140.04h3.6v1.2h-3.6zM516.96 140.04h3.6v1.2h-3.6zM413.19 143.87h3.6v1.2h-3.6zM420.88 143.87h3.6v1.2h-3.6zM428.56 143.87h3.6v1.2h-3.6zM436.25 143.87h3.6v1.2h-3.6zM443.94 143.87h3.6v1.2h-3.6zM451.62 143.87h3.6v1.2h-3.6zM459.31 143.87h3.6v1.2h-3.6zM467 143.87h3.6v1.2h-3.6zM474.68 143.87h3.6v1.2h-3.6zM482.37 143.87h3.6v1.2h-3.6zM490.06 143.87h3.6v1.2h-3.6zM497.75 143.87h3.6v1.2h-3.6zM505.43 143.87h3.6v1.2h-3.6zM513.12 143.87h3.6v1.2h-3.6zM520.81 143.87h3.6v1.2h-3.6zM417.03 147.7h3.6v1.2h-3.6zM424.72 147.7h3.6v1.2h-3.6zM432.41 147.7h3.6v1.2h-3.6zM440.09 147.7h3.6v1.2h-3.6zM447.78 147.7h3.6v1.2h-3.6zM455.47 147.7h3.6v1.2h-3.6zM463.15 147.7h3.6v1.2h-3.6zM470.84 147.7h3.6v1.2h-3.6zM478.53 147.7h3.6v1.2h-3.6zM486.21 147.7h3.6v1.2h-3.6zM493.9 147.7h3.6v1.2h-3.6zM501.59 147.7h3.6v1.2h-3.6zM509.28 147.7h3.6v1.2h-3.6zM516.96 147.7h3.6v1.2h-3.6zM413.19 151.52h3.6v1.2h-3.6zM420.88 151.52h3.6v1.2h-3.6zM428.56 151.52h3.6v1.2h-3.6zM436.25 151.52h3.6v1.2h-3.6zM443.94 151.52h3.6v1.2h-3.6zM451.62 151.52h3.6v1.2h-3.6zM459.31 151.52h3.6v1.2h-3.6zM467 151.52h3.6v1.2h-3.6zM474.68 151.52h3.6v1.2h-3.6zM482.37 151.52h3.6v1.2h-3.6zM490.06 151.52h3.6v1.2h-3.6zM497.75 151.52h3.6v1.2h-3.6zM505.43 151.52h3.6v1.2h-3.6zM513.12 151.52h3.6v1.2h-3.6zM520.81 151.52h3.6v1.2h-3.6zM417.03 155.35h3.6v1.2h-3.6zM424.72 155.35h3.6v1.2h-3.6zM432.41 155.35h3.6v1.2h-3.6zM440.09 155.35h3.6v1.2h-3.6zM447.78 155.35h3.6v1.2h-3.6zM455.47 155.35h3.6v1.2h-3.6zM463.15 155.35h3.6v1.2h-3.6zM470.84 155.35h3.6v1.2h-3.6zM478.53 155.35h3.6v1.2h-3.6zM486.21 155.35h3.6v1.2h-3.6zM493.9 155.35h3.6v1.2h-3.6zM501.59 155.35h3.6v1.2h-3.6zM509.28 155.35h3.6v1.2h-3.6zM516.96 155.35h3.6v1.2h-3.6zM413.19 159.18h3.6v1.2h-3.6zM420.88 159.18h3.6v1.2h-3.6zM428.56 159.18h3.6v1.2h-3.6zM436.25 159.18h3.6v1.2h-3.6zM443.94 159.18h3.6v1.2h-3.6zM451.62 159.18h3.6v1.2h-3.6zM459.31 159.18h3.6v1.2h-3.6zM467 159.18h3.6v1.2h-3.6zM474.68 159.18h3.6v1.2h-3.6zM482.37 159.18h3.6v1.2h-3.6zM490.06 159.18h3.6v1.2h-3.6zM497.75 159.18h3.6v1.2h-3.6zM505.43 159.18h3.6v1.2h-3.6zM513.12 159.18h3.6v1.2h-3.6zM520.81 159.18h3.6v1.2h-3.6z"/>
<path d="M424.73 119.1H511.8V153.1H424.73" stroke="#161616" stroke-width="1.15" fill="none" stroke-linejoin="miter"/>
<clipPath id="c9"><rect x="568.4" y="382.9" width="86.4" height="89.3"/></clipPath>
<rect x="569.4" y="382.9" width="86.4" height="89.3" fill="#FE7CCB"/>
<path d="M569.4 383.47V471.62" stroke="#161616" stroke-width="1.15" fill="none"/>
<path clip-path="url(#c9)" fill="#6a1828" d="M562.23 377.36h1.36v1.36h-1.36zM569.92 377.36h1.36v1.36h-1.36zM577.61 377.36h1.36v1.36h-1.36zM585.29 377.36h1.36v1.36h-1.36zM592.98 377.36h1.36v1.36h-1.36zM600.67 377.36h1.36v1.36h-1.36zM608.36 377.36h1.36v1.36h-1.36zM616.04 377.36h1.36v1.36h-1.36zM623.73 377.36h1.36v1.36h-1.36zM631.42 377.36h1.36v1.36h-1.36zM639.1 377.36h1.36v1.36h-1.36zM646.79 377.36h1.36v1.36h-1.36zM654.48 377.36h1.36v1.36h-1.36zM662.16 377.36h1.36v1.36h-1.36zM558.39 381.19h1.36v1.36h-1.36zM566.08 381.19h1.36v1.36h-1.36zM573.76 381.19h1.36v1.36h-1.36zM581.45 381.19h1.36v1.36h-1.36zM589.14 381.19h1.36v1.36h-1.36zM596.82 381.19h1.36v1.36h-1.36zM604.51 381.19h1.36v1.36h-1.36zM612.2 381.19h1.36v1.36h-1.36zM619.89 381.19h1.36v1.36h-1.36zM627.57 381.19h1.36v1.36h-1.36zM635.26 381.19h1.36v1.36h-1.36zM642.95 381.19h1.36v1.36h-1.36zM650.63 381.19h1.36v1.36h-1.36zM658.32 381.19h1.36v1.36h-1.36zM666.01 381.19h1.36v1.36h-1.36zM562.23 385.02h1.36v1.36h-1.36zM569.92 385.02h1.36v1.36h-1.36zM577.61 385.02h1.36v1.36h-1.36zM585.29 385.02h1.36v1.36h-1.36zM592.98 385.02h1.36v1.36h-1.36zM600.67 385.02h1.36v1.36h-1.36zM608.36 385.02h1.36v1.36h-1.36zM616.04 385.02h1.36v1.36h-1.36zM623.73 385.02h1.36v1.36h-1.36zM631.42 385.02h1.36v1.36h-1.36zM639.1 385.02h1.36v1.36h-1.36zM646.79 385.02h1.36v1.36h-1.36zM654.48 385.02h1.36v1.36h-1.36zM662.16 385.02h1.36v1.36h-1.36zM558.39 388.85h1.36v1.36h-1.36zM566.08 388.85h1.36v1.36h-1.36zM573.76 388.85h1.36v1.36h-1.36zM581.45 388.85h1.36v1.36h-1.36zM589.14 388.85h1.36v1.36h-1.36zM596.82 388.85h1.36v1.36h-1.36zM604.51 388.85h1.36v1.36h-1.36zM612.2 388.85h1.36v1.36h-1.36zM619.89 388.85h1.36v1.36h-1.36zM627.57 388.85h1.36v1.36h-1.36zM635.26 388.85h1.36v1.36h-1.36zM642.95 388.85h1.36v1.36h-1.36zM650.63 388.85h1.36v1.36h-1.36zM658.32 388.85h1.36v1.36h-1.36zM666.01 388.85h1.36v1.36h-1.36zM562.23 392.68h1.36v1.36h-1.36zM569.92 392.68h1.36v1.36h-1.36zM577.61 392.68h1.36v1.36h-1.36zM585.29 392.68h1.36v1.36h-1.36zM592.98 392.68h1.36v1.36h-1.36zM600.67 392.68h1.36v1.36h-1.36zM608.36 392.68h1.36v1.36h-1.36zM616.04 392.68h1.36v1.36h-1.36zM623.73 392.68h1.36v1.36h-1.36zM631.42 392.68h1.36v1.36h-1.36zM639.1 392.68h1.36v1.36h-1.36zM646.79 392.68h1.36v1.36h-1.36zM654.48 392.68h1.36v1.36h-1.36zM662.16 392.68h1.36v1.36h-1.36zM558.39 396.51h1.36v1.36h-1.36zM566.08 396.51h1.36v1.36h-1.36zM573.76 396.51h1.36v1.36h-1.36zM581.45 396.51h1.36v1.36h-1.36zM589.14 396.51h1.36v1.36h-1.36zM596.82 396.51h1.36v1.36h-1.36zM604.51 396.51h1.36v1.36h-1.36zM612.2 396.51h1.36v1.36h-1.36zM619.89 396.51h1.36v1.36h-1.36zM627.57 396.51h1.36v1.36h-1.36zM635.26 396.51h1.36v1.36h-1.36zM642.95 396.51h1.36v1.36h-1.36zM650.63 396.51h1.36v1.36h-1.36zM658.32 396.51h1.36v1.36h-1.36zM666.01 396.51h1.36v1.36h-1.36zM562.23 400.34h1.36v1.36h-1.36zM569.92 400.34h1.36v1.36h-1.36zM577.61 400.34h1.36v1.36h-1.36zM585.29 400.34h1.36v1.36h-1.36zM592.98 400.34h1.36v1.36h-1.36zM600.67 400.34h1.36v1.36h-1.36zM608.36 400.34h1.36v1.36h-1.36zM616.04 400.34h1.36v1.36h-1.36zM623.73 400.34h1.36v1.36h-1.36zM631.42 400.34h1.36v1.36h-1.36zM639.1 400.34h1.36v1.36h-1.36zM646.79 400.34h1.36v1.36h-1.36zM654.48 400.34h1.36v1.36h-1.36zM662.16 400.34h1.36v1.36h-1.36zM558.39 404.17h1.36v1.36h-1.36zM566.08 404.17h1.36v1.36h-1.36zM573.76 404.17h1.36v1.36h-1.36zM581.45 404.17h1.36v1.36h-1.36zM589.14 404.17h1.36v1.36h-1.36zM596.82 404.17h1.36v1.36h-1.36zM604.51 404.17h1.36v1.36h-1.36zM612.2 404.17h1.36v1.36h-1.36zM619.89 404.17h1.36v1.36h-1.36zM627.57 404.17h1.36v1.36h-1.36zM635.26 404.17h1.36v1.36h-1.36zM642.95 404.17h1.36v1.36h-1.36zM650.63 404.17h1.36v1.36h-1.36zM658.32 404.17h1.36v1.36h-1.36zM666.01 404.17h1.36v1.36h-1.36zM562.23 408h1.36v1.36h-1.36zM569.92 408h1.36v1.36h-1.36zM577.61 408h1.36v1.36h-1.36zM585.29 408h1.36v1.36h-1.36zM592.98 408h1.36v1.36h-1.36zM600.67 408h1.36v1.36h-1.36zM608.36 408h1.36v1.36h-1.36zM616.04 408h1.36v1.36h-1.36zM623.73 408h1.36v1.36h-1.36zM631.42 408h1.36v1.36h-1.36zM639.1 408h1.36v1.36h-1.36zM646.79 408h1.36v1.36h-1.36zM654.48 408h1.36v1.36h-1.36zM662.16 408h1.36v1.36h-1.36zM558.39 411.83h1.36v1.36h-1.36zM566.08 411.83h1.36v1.36h-1.36zM573.76 411.83h1.36v1.36h-1.36zM581.45 411.83h1.36v1.36h-1.36zM589.14 411.83h1.36v1.36h-1.36zM596.82 411.83h1.36v1.36h-1.36zM604.51 411.83h1.36v1.36h-1.36zM612.2 411.83h1.36v1.36h-1.36zM619.89 411.83h1.36v1.36h-1.36zM627.57 411.83h1.36v1.36h-1.36zM635.26 411.83h1.36v1.36h-1.36zM642.95 411.83h1.36v1.36h-1.36zM650.63 411.83h1.36v1.36h-1.36zM658.32 411.83h1.36v1.36h-1.36zM666.01 411.83h1.36v1.36h-1.36zM562.23 415.66h1.36v1.36h-1.36zM569.92 415.66h1.36v1.36h-1.36zM577.61 415.66h1.36v1.36h-1.36zM585.29 415.66h1.36v1.36h-1.36zM592.98 415.66h1.36v1.36h-1.36zM600.67 415.66h1.36v1.36h-1.36zM608.36 415.66h1.36v1.36h-1.36zM616.04 415.66h1.36v1.36h-1.36zM623.73 415.66h1.36v1.36h-1.36zM631.42 415.66h1.36v1.36h-1.36zM639.1 415.66h1.36v1.36h-1.36zM646.79 415.66h1.36v1.36h-1.36zM654.48 415.66h1.36v1.36h-1.36zM662.16 415.66h1.36v1.36h-1.36zM558.39 419.49h1.36v1.36h-1.36zM566.08 419.49h1.36v1.36h-1.36zM573.76 419.49h1.36v1.36h-1.36zM581.45 419.49h1.36v1.36h-1.36zM589.14 419.49h1.36v1.36h-1.36zM596.82 419.49h1.36v1.36h-1.36zM604.51 419.49h1.36v1.36h-1.36zM612.2 419.49h1.36v1.36h-1.36zM619.89 419.49h1.36v1.36h-1.36zM627.57 419.49h1.36v1.36h-1.36zM635.26 419.49h1.36v1.36h-1.36zM642.95 419.49h1.36v1.36h-1.36zM650.63 419.49h1.36v1.36h-1.36zM658.32 419.49h1.36v1.36h-1.36zM666.01 419.49h1.36v1.36h-1.36zM562.23 423.31h1.36v1.36h-1.36zM569.92 423.31h1.36v1.36h-1.36zM577.61 423.31h1.36v1.36h-1.36zM585.29 423.31h1.36v1.36h-1.36zM592.98 423.31h1.36v1.36h-1.36zM600.67 423.31h1.36v1.36h-1.36zM608.36 423.31h1.36v1.36h-1.36zM616.04 423.31h1.36v1.36h-1.36zM623.73 423.31h1.36v1.36h-1.36zM631.42 423.31h1.36v1.36h-1.36zM639.1 423.31h1.36v1.36h-1.36zM646.79 423.31h1.36v1.36h-1.36zM654.48 423.31h1.36v1.36h-1.36zM662.16 423.31h1.36v1.36h-1.36zM558.39 427.14h1.36v1.36h-1.36zM566.08 427.14h1.36v1.36h-1.36zM573.76 427.14h1.36v1.36h-1.36zM581.45 427.14h1.36v1.36h-1.36zM589.14 427.14h1.36v1.36h-1.36zM596.82 427.14h1.36v1.36h-1.36zM604.51 427.14h1.36v1.36h-1.36zM612.2 427.14h1.36v1.36h-1.36zM619.89 427.14h1.36v1.36h-1.36zM627.57 427.14h1.36v1.36h-1.36zM635.26 427.14h1.36v1.36h-1.36zM642.95 427.14h1.36v1.36h-1.36zM650.63 427.14h1.36v1.36h-1.36zM658.32 427.14h1.36v1.36h-1.36zM666.01 427.14h1.36v1.36h-1.36zM562.23 430.97h1.36v1.36h-1.36zM569.92 430.97h1.36v1.36h-1.36zM577.61 430.97h1.36v1.36h-1.36zM585.29 430.97h1.36v1.36h-1.36zM592.98 430.97h1.36v1.36h-1.36zM600.67 430.97h1.36v1.36h-1.36zM608.36 430.97h1.36v1.36h-1.36zM616.04 430.97h1.36v1.36h-1.36zM623.73 430.97h1.36v1.36h-1.36zM631.42 430.97h1.36v1.36h-1.36zM639.1 430.97h1.36v1.36h-1.36zM646.79 430.97h1.36v1.36h-1.36zM654.48 430.97h1.36v1.36h-1.36zM662.16 430.97h1.36v1.36h-1.36zM558.39 434.8h1.36v1.36h-1.36zM566.08 434.8h1.36v1.36h-1.36zM573.76 434.8h1.36v1.36h-1.36zM581.45 434.8h1.36v1.36h-1.36zM589.14 434.8h1.36v1.36h-1.36zM596.82 434.8h1.36v1.36h-1.36zM604.51 434.8h1.36v1.36h-1.36zM612.2 434.8h1.36v1.36h-1.36zM619.89 434.8h1.36v1.36h-1.36zM627.57 434.8h1.36v1.36h-1.36zM635.26 434.8h1.36v1.36h-1.36zM642.95 434.8h1.36v1.36h-1.36zM650.63 434.8h1.36v1.36h-1.36zM658.32 434.8h1.36v1.36h-1.36zM666.01 434.8h1.36v1.36h-1.36zM562.23 438.63h1.36v1.36h-1.36zM569.92 438.63h1.36v1.36h-1.36zM577.61 438.63h1.36v1.36h-1.36zM585.29 438.63h1.36v1.36h-1.36zM592.98 438.63h1.36v1.36h-1.36zM600.67 438.63h1.36v1.36h-1.36zM608.36 438.63h1.36v1.36h-1.36zM616.04 438.63h1.36v1.36h-1.36zM623.73 438.63h1.36v1.36h-1.36zM631.42 438.63h1.36v1.36h-1.36zM639.1 438.63h1.36v1.36h-1.36zM646.79 438.63h1.36v1.36h-1.36zM654.48 438.63h1.36v1.36h-1.36zM662.16 438.63h1.36v1.36h-1.36zM558.39 442.46h1.36v1.36h-1.36zM566.08 442.46h1.36v1.36h-1.36zM573.76 442.46h1.36v1.36h-1.36zM581.45 442.46h1.36v1.36h-1.36zM589.14 442.46h1.36v1.36h-1.36zM596.82 442.46h1.36v1.36h-1.36zM604.51 442.46h1.36v1.36h-1.36zM612.2 442.46h1.36v1.36h-1.36zM619.89 442.46h1.36v1.36h-1.36zM627.57 442.46h1.36v1.36h-1.36zM635.26 442.46h1.36v1.36h-1.36zM642.95 442.46h1.36v1.36h-1.36zM650.63 442.46h1.36v1.36h-1.36zM658.32 442.46h1.36v1.36h-1.36zM666.01 442.46h1.36v1.36h-1.36zM562.23 446.29h1.36v1.36h-1.36zM569.92 446.29h1.36v1.36h-1.36zM577.61 446.29h1.36v1.36h-1.36zM585.29 446.29h1.36v1.36h-1.36zM592.98 446.29h1.36v1.36h-1.36zM600.67 446.29h1.36v1.36h-1.36zM608.36 446.29h1.36v1.36h-1.36zM616.04 446.29h1.36v1.36h-1.36zM623.73 446.29h1.36v1.36h-1.36zM631.42 446.29h1.36v1.36h-1.36zM639.1 446.29h1.36v1.36h-1.36zM646.79 446.29h1.36v1.36h-1.36zM654.48 446.29h1.36v1.36h-1.36zM662.16 446.29h1.36v1.36h-1.36zM558.39 450.12h1.36v1.36h-1.36zM566.08 450.12h1.36v1.36h-1.36zM573.76 450.12h1.36v1.36h-1.36zM581.45 450.12h1.36v1.36h-1.36zM589.14 450.12h1.36v1.36h-1.36zM596.82 450.12h1.36v1.36h-1.36zM604.51 450.12h1.36v1.36h-1.36zM612.2 450.12h1.36v1.36h-1.36zM619.89 450.12h1.36v1.36h-1.36zM627.57 450.12h1.36v1.36h-1.36zM635.26 450.12h1.36v1.36h-1.36zM642.95 450.12h1.36v1.36h-1.36zM650.63 450.12h1.36v1.36h-1.36zM658.32 450.12h1.36v1.36h-1.36zM666.01 450.12h1.36v1.36h-1.36zM562.23 453.95h1.36v1.36h-1.36zM569.92 453.95h1.36v1.36h-1.36zM577.61 453.95h1.36v1.36h-1.36zM585.29 453.95h1.36v1.36h-1.36zM592.98 453.95h1.36v1.36h-1.36zM600.67 453.95h1.36v1.36h-1.36zM608.36 453.95h1.36v1.36h-1.36zM616.04 453.95h1.36v1.36h-1.36zM623.73 453.95h1.36v1.36h-1.36zM631.42 453.95h1.36v1.36h-1.36zM639.1 453.95h1.36v1.36h-1.36zM646.79 453.95h1.36v1.36h-1.36zM654.48 453.95h1.36v1.36h-1.36zM662.16 453.95h1.36v1.36h-1.36zM558.39 457.78h1.36v1.36h-1.36zM566.08 457.78h1.36v1.36h-1.36zM573.76 457.78h1.36v1.36h-1.36zM581.45 457.78h1.36v1.36h-1.36zM589.14 457.78h1.36v1.36h-1.36zM596.82 457.78h1.36v1.36h-1.36zM604.51 457.78h1.36v1.36h-1.36zM612.2 457.78h1.36v1.36h-1.36zM619.89 457.78h1.36v1.36h-1.36zM627.57 457.78h1.36v1.36h-1.36zM635.26 457.78h1.36v1.36h-1.36zM642.95 457.78h1.36v1.36h-1.36zM650.63 457.78h1.36v1.36h-1.36zM658.32 457.78h1.36v1.36h-1.36zM666.01 457.78h1.36v1.36h-1.36zM562.23 461.61h1.36v1.36h-1.36zM569.92 461.61h1.36v1.36h-1.36zM577.61 461.61h1.36v1.36h-1.36zM585.29 461.61h1.36v1.36h-1.36zM592.98 461.61h1.36v1.36h-1.36zM600.67 461.61h1.36v1.36h-1.36zM608.36 461.61h1.36v1.36h-1.36zM616.04 461.61h1.36v1.36h-1.36zM623.73 461.61h1.36v1.36h-1.36zM631.42 461.61h1.36v1.36h-1.36zM639.1 461.61h1.36v1.36h-1.36zM646.79 461.61h1.36v1.36h-1.36zM654.48 461.61h1.36v1.36h-1.36zM662.16 461.61h1.36v1.36h-1.36zM558.39 465.44h1.36v1.36h-1.36zM566.08 465.44h1.36v1.36h-1.36zM573.76 465.44h1.36v1.36h-1.36zM581.45 465.44h1.36v1.36h-1.36zM589.14 465.44h1.36v1.36h-1.36zM596.82 465.44h1.36v1.36h-1.36zM604.51 465.44h1.36v1.36h-1.36zM612.2 465.44h1.36v1.36h-1.36zM619.89 465.44h1.36v1.36h-1.36zM627.57 465.44h1.36v1.36h-1.36zM635.26 465.44h1.36v1.36h-1.36zM642.95 465.44h1.36v1.36h-1.36zM650.63 465.44h1.36v1.36h-1.36zM658.32 465.44h1.36v1.36h-1.36zM666.01 465.44h1.36v1.36h-1.36zM562.23 469.27h1.36v1.36h-1.36zM569.92 469.27h1.36v1.36h-1.36zM577.61 469.27h1.36v1.36h-1.36zM585.29 469.27h1.36v1.36h-1.36zM592.98 469.27h1.36v1.36h-1.36zM600.67 469.27h1.36v1.36h-1.36zM608.36 469.27h1.36v1.36h-1.36zM616.04 469.27h1.36v1.36h-1.36zM623.73 469.27h1.36v1.36h-1.36zM631.42 469.27h1.36v1.36h-1.36zM639.1 469.27h1.36v1.36h-1.36zM646.79 469.27h1.36v1.36h-1.36zM654.48 469.27h1.36v1.36h-1.36zM662.16 469.27h1.36v1.36h-1.36zM558.39 473.1h1.36v1.36h-1.36zM566.08 473.1h1.36v1.36h-1.36zM573.76 473.1h1.36v1.36h-1.36zM581.45 473.1h1.36v1.36h-1.36zM589.14 473.1h1.36v1.36h-1.36zM596.82 473.1h1.36v1.36h-1.36zM604.51 473.1h1.36v1.36h-1.36zM612.2 473.1h1.36v1.36h-1.36zM619.89 473.1h1.36v1.36h-1.36zM627.57 473.1h1.36v1.36h-1.36zM635.26 473.1h1.36v1.36h-1.36zM642.95 473.1h1.36v1.36h-1.36zM650.63 473.1h1.36v1.36h-1.36zM658.32 473.1h1.36v1.36h-1.36zM666.01 473.1h1.36v1.36h-1.36zM562.23 476.93h1.36v1.36h-1.36zM569.92 476.93h1.36v1.36h-1.36zM577.61 476.93h1.36v1.36h-1.36zM585.29 476.93h1.36v1.36h-1.36zM592.98 476.93h1.36v1.36h-1.36zM600.67 476.93h1.36v1.36h-1.36zM608.36 476.93h1.36v1.36h-1.36zM616.04 476.93h1.36v1.36h-1.36zM623.73 476.93h1.36v1.36h-1.36zM631.42 476.93h1.36v1.36h-1.36zM639.1 476.93h1.36v1.36h-1.36zM646.79 476.93h1.36v1.36h-1.36zM654.48 476.93h1.36v1.36h-1.36zM662.16 476.93h1.36v1.36h-1.36z"/>
<path d="M568.82 382.9H655.8V472.2H568.82" stroke="#161616" stroke-width="1.15" fill="none" stroke-linejoin="miter"/>
<clipPath id="c10"><rect x="568.4" y="140.5" width="86.4" height="242.4"/></clipPath>
<rect x="569.4" y="140.5" width="86.4" height="242.4" fill="#84D2FB"/>
<path d="M569.4 141.07V382.32" stroke="#161616" stroke-width="1.15" fill="none"/>
<path clip-path="url(#c10)" fill="none" stroke="#0a1a24" stroke-opacity="0.8" stroke-width="1.18" d="M558.89 134.22l3.7 3.7M562.73 134.22l3.7 3.7M566.58 134.22l3.7 3.7M570.42 134.22l3.7 3.7M574.26 134.22l3.7 3.7M578.11 134.22l3.7 3.7M581.95 134.22l3.7 3.7M585.79 134.22l3.7 3.7M589.64 134.22l3.7 3.7M593.48 134.22l3.7 3.7M597.32 134.22l3.7 3.7M601.17 134.22l3.7 3.7M605.01 134.22l3.7 3.7M608.85 134.22l3.7 3.7M612.7 134.22l3.7 3.7M616.54 134.22l3.7 3.7M620.38 134.22l3.7 3.7M624.23 134.22l3.7 3.7M628.07 134.22l3.7 3.7M631.92 134.22l3.7 3.7M635.76 134.22l3.7 3.7M639.6 134.22l3.7 3.7M643.45 134.22l3.7 3.7M647.29 134.22l3.7 3.7M651.13 134.22l3.7 3.7M654.98 134.22l3.7 3.7M658.82 134.22l3.7 3.7M558.89 141.88l3.7 3.7M562.73 141.88l3.7 3.7M566.58 141.88l3.7 3.7M570.42 141.88l3.7 3.7M574.26 141.88l3.7 3.7M578.11 141.88l3.7 3.7M581.95 141.88l3.7 3.7M585.79 141.88l3.7 3.7M589.64 141.88l3.7 3.7M593.48 141.88l3.7 3.7M597.32 141.88l3.7 3.7M601.17 141.88l3.7 3.7M605.01 141.88l3.7 3.7M608.85 141.88l3.7 3.7M612.7 141.88l3.7 3.7M616.54 141.88l3.7 3.7M620.38 141.88l3.7 3.7M624.23 141.88l3.7 3.7M628.07 141.88l3.7 3.7M631.92 141.88l3.7 3.7M635.76 141.88l3.7 3.7M639.6 141.88l3.7 3.7M643.45 141.88l3.7 3.7M647.29 141.88l3.7 3.7M651.13 141.88l3.7 3.7M654.98 141.88l3.7 3.7M658.82 141.88l3.7 3.7M558.89 149.53l3.7 3.7M562.73 149.53l3.7 3.7M566.58 149.53l3.7 3.7M570.42 149.53l3.7 3.7M574.26 149.53l3.7 3.7M578.11 149.53l3.7 3.7M581.95 149.53l3.7 3.7M585.79 149.53l3.7 3.7M589.64 149.53l3.7 3.7M593.48 149.53l3.7 3.7M597.32 149.53l3.7 3.7M601.17 149.53l3.7 3.7M605.01 149.53l3.7 3.7M608.85 149.53l3.7 3.7M612.7 149.53l3.7 3.7M616.54 149.53l3.7 3.7M620.38 149.53l3.7 3.7M624.23 149.53l3.7 3.7M628.07 149.53l3.7 3.7M631.92 149.53l3.7 3.7M635.76 149.53l3.7 3.7M639.6 149.53l3.7 3.7M643.45 149.53l3.7 3.7M647.29 149.53l3.7 3.7M651.13 149.53l3.7 3.7M654.98 149.53l3.7 3.7M658.82 149.53l3.7 3.7M558.89 157.19l3.7 3.7M562.73 157.19l3.7 3.7M566.58 157.19l3.7 3.7M570.42 157.19l3.7 3.7M574.26 157.19l3.7 3.7M578.11 157.19l3.7 3.7M581.95 157.19l3.7 3.7M585.79 157.19l3.7 3.7M589.64 157.19l3.7 3.7M593.48 157.19l3.7 3.7M597.32 157.19l3.7 3.7M601.17 157.19l3.7 3.7M605.01 157.19l3.7 3.7M608.85 157.19l3.7 3.7M612.7 157.19l3.7 3.7M616.54 157.19l3.7 3.7M620.38 157.19l3.7 3.7M624.23 157.19l3.7 3.7M628.07 157.19l3.7 3.7M631.92 157.19l3.7 3.7M635.76 157.19l3.7 3.7M639.6 157.19l3.7 3.7M643.45 157.19l3.7 3.7M647.29 157.19l3.7 3.7M651.13 157.19l3.7 3.7M654.98 157.19l3.7 3.7M658.82 157.19l3.7 3.7M558.89 164.85l3.7 3.7M562.73 164.85l3.7 3.7M566.58 164.85l3.7 3.7M570.42 164.85l3.7 3.7M574.26 164.85l3.7 3.7M578.11 164.85l3.7 3.7M581.95 164.85l3.7 3.7M585.79 164.85l3.7 3.7M589.64 164.85l3.7 3.7M593.48 164.85l3.7 3.7M597.32 164.85l3.7 3.7M601.17 164.85l3.7 3.7M605.01 164.85l3.7 3.7M608.85 164.85l3.7 3.7M612.7 164.85l3.7 3.7M616.54 164.85l3.7 3.7M620.38 164.85l3.7 3.7M624.23 164.85l3.7 3.7M628.07 164.85l3.7 3.7M631.92 164.85l3.7 3.7M635.76 164.85l3.7 3.7M639.6 164.85l3.7 3.7M643.45 164.85l3.7 3.7M647.29 164.85l3.7 3.7M651.13 164.85l3.7 3.7M654.98 164.85l3.7 3.7M658.82 164.85l3.7 3.7M558.89 172.51l3.7 3.7M562.73 172.51l3.7 3.7M566.58 172.51l3.7 3.7M570.42 172.51l3.7 3.7M574.26 172.51l3.7 3.7M578.11 172.51l3.7 3.7M581.95 172.51l3.7 3.7M585.79 172.51l3.7 3.7M589.64 172.51l3.7 3.7M593.48 172.51l3.7 3.7M597.32 172.51l3.7 3.7M601.17 172.51l3.7 3.7M605.01 172.51l3.7 3.7M608.85 172.51l3.7 3.7M612.7 172.51l3.7 3.7M616.54 172.51l3.7 3.7M620.38 172.51l3.7 3.7M624.23 172.51l3.7 3.7M628.07 172.51l3.7 3.7M631.92 172.51l3.7 3.7M635.76 172.51l3.7 3.7M639.6 172.51l3.7 3.7M643.45 172.51l3.7 3.7M647.29 172.51l3.7 3.7M651.13 172.51l3.7 3.7M654.98 172.51l3.7 3.7M658.82 172.51l3.7 3.7M558.89 180.17l3.7 3.7M562.73 180.17l3.7 3.7M566.58 180.17l3.7 3.7M570.42 180.17l3.7 3.7M574.26 180.17l3.7 3.7M578.11 180.17l3.7 3.7M581.95 180.17l3.7 3.7M585.79 180.17l3.7 3.7M589.64 180.17l3.7 3.7M593.48 180.17l3.7 3.7M597.32 180.17l3.7 3.7M601.17 180.17l3.7 3.7M605.01 180.17l3.7 3.7M608.85 180.17l3.7 3.7M612.7 180.17l3.7 3.7M616.54 180.17l3.7 3.7M620.38 180.17l3.7 3.7M624.23 180.17l3.7 3.7M628.07 180.17l3.7 3.7M631.92 180.17l3.7 3.7M635.76 180.17l3.7 3.7M639.6 180.17l3.7 3.7M643.45 180.17l3.7 3.7M647.29 180.17l3.7 3.7M651.13 180.17l3.7 3.7M654.98 180.17l3.7 3.7M658.82 180.17l3.7 3.7M558.89 187.83l3.7 3.7M562.73 187.83l3.7 3.7M566.58 187.83l3.7 3.7M570.42 187.83l3.7 3.7M574.26 187.83l3.7 3.7M578.11 187.83l3.7 3.7M581.95 187.83l3.7 3.7M585.79 187.83l3.7 3.7M589.64 187.83l3.7 3.7M593.48 187.83l3.7 3.7M597.32 187.83l3.7 3.7M601.17 187.83l3.7 3.7M605.01 187.83l3.7 3.7M608.85 187.83l3.7 3.7M612.7 187.83l3.7 3.7M616.54 187.83l3.7 3.7M620.38 187.83l3.7 3.7M624.23 187.83l3.7 3.7M628.07 187.83l3.7 3.7M631.92 187.83l3.7 3.7M635.76 187.83l3.7 3.7M639.6 187.83l3.7 3.7M643.45 187.83l3.7 3.7M647.29 187.83l3.7 3.7M651.13 187.83l3.7 3.7M654.98 187.83l3.7 3.7M658.82 187.83l3.7 3.7M558.89 195.49l3.7 3.7M562.73 195.49l3.7 3.7M566.58 195.49l3.7 3.7M570.42 195.49l3.7 3.7M574.26 195.49l3.7 3.7M578.11 195.49l3.7 3.7M581.95 195.49l3.7 3.7M585.79 195.49l3.7 3.7M589.64 195.49l3.7 3.7M593.48 195.49l3.7 3.7M597.32 195.49l3.7 3.7M601.17 195.49l3.7 3.7M605.01 195.49l3.7 3.7M608.85 195.49l3.7 3.7M612.7 195.49l3.7 3.7M616.54 195.49l3.7 3.7M620.38 195.49l3.7 3.7M624.23 195.49l3.7 3.7M628.07 195.49l3.7 3.7M631.92 195.49l3.7 3.7M635.76 195.49l3.7 3.7M639.6 195.49l3.7 3.7M643.45 195.49l3.7 3.7M647.29 195.49l3.7 3.7M651.13 195.49l3.7 3.7M654.98 195.49l3.7 3.7M658.82 195.49l3.7 3.7M558.89 203.15l3.7 3.7M562.73 203.15l3.7 3.7M566.58 203.15l3.7 3.7M570.42 203.15l3.7 3.7M574.26 203.15l3.7 3.7M578.11 203.15l3.7 3.7M581.95 203.15l3.7 3.7M585.79 203.15l3.7 3.7M589.64 203.15l3.7 3.7M593.48 203.15l3.7 3.7M597.32 203.15l3.7 3.7M601.17 203.15l3.7 3.7M605.01 203.15l3.7 3.7M608.85 203.15l3.7 3.7M612.7 203.15l3.7 3.7M616.54 203.15l3.7 3.7M620.38 203.15l3.7 3.7M624.23 203.15l3.7 3.7M628.07 203.15l3.7 3.7M631.92 203.15l3.7 3.7M635.76 203.15l3.7 3.7M639.6 203.15l3.7 3.7M643.45 203.15l3.7 3.7M647.29 203.15l3.7 3.7M651.13 203.15l3.7 3.7M654.98 203.15l3.7 3.7M658.82 203.15l3.7 3.7M558.89 210.81l3.7 3.7M562.73 210.81l3.7 3.7M566.58 210.81l3.7 3.7M570.42 210.81l3.7 3.7M574.26 210.81l3.7 3.7M578.11 210.81l3.7 3.7M581.95 210.81l3.7 3.7M585.79 210.81l3.7 3.7M589.64 210.81l3.7 3.7M593.48 210.81l3.7 3.7M597.32 210.81l3.7 3.7M601.17 210.81l3.7 3.7M605.01 210.81l3.7 3.7M608.85 210.81l3.7 3.7M612.7 210.81l3.7 3.7M616.54 210.81l3.7 3.7M620.38 210.81l3.7 3.7M624.23 210.81l3.7 3.7M628.07 210.81l3.7 3.7M631.92 210.81l3.7 3.7M635.76 210.81l3.7 3.7M639.6 210.81l3.7 3.7M643.45 210.81l3.7 3.7M647.29 210.81l3.7 3.7M651.13 210.81l3.7 3.7M654.98 210.81l3.7 3.7M658.82 210.81l3.7 3.7M558.89 218.47l3.7 3.7M562.73 218.47l3.7 3.7M566.58 218.47l3.7 3.7M570.42 218.47l3.7 3.7M574.26 218.47l3.7 3.7M578.11 218.47l3.7 3.7M581.95 218.47l3.7 3.7M585.79 218.47l3.7 3.7M589.64 218.47l3.7 3.7M593.48 218.47l3.7 3.7M597.32 218.47l3.7 3.7M601.17 218.47l3.7 3.7M605.01 218.47l3.7 3.7M608.85 218.47l3.7 3.7M612.7 218.47l3.7 3.7M616.54 218.47l3.7 3.7M620.38 218.47l3.7 3.7M624.23 218.47l3.7 3.7M628.07 218.47l3.7 3.7M631.92 218.47l3.7 3.7M635.76 218.47l3.7 3.7M639.6 218.47l3.7 3.7M643.45 218.47l3.7 3.7M647.29 218.47l3.7 3.7M651.13 218.47l3.7 3.7M654.98 218.47l3.7 3.7M658.82 218.47l3.7 3.7M558.89 226.12l3.7 3.7M562.73 226.12l3.7 3.7M566.58 226.12l3.7 3.7M570.42 226.12l3.7 3.7M574.26 226.12l3.7 3.7M578.11 226.12l3.7 3.7M581.95 226.12l3.7 3.7M585.79 226.12l3.7 3.7M589.64 226.12l3.7 3.7M593.48 226.12l3.7 3.7M597.32 226.12l3.7 3.7M601.17 226.12l3.7 3.7M605.01 226.12l3.7 3.7M608.85 226.12l3.7 3.7M612.7 226.12l3.7 3.7M616.54 226.12l3.7 3.7M620.38 226.12l3.7 3.7M624.23 226.12l3.7 3.7M628.07 226.12l3.7 3.7M631.92 226.12l3.7 3.7M635.76 226.12l3.7 3.7M639.6 226.12l3.7 3.7M643.45 226.12l3.7 3.7M647.29 226.12l3.7 3.7M651.13 226.12l3.7 3.7M654.98 226.12l3.7 3.7M658.82 226.12l3.7 3.7M558.89 233.78l3.7 3.7M562.73 233.78l3.7 3.7M566.58 233.78l3.7 3.7M570.42 233.78l3.7 3.7M574.26 233.78l3.7 3.7M578.11 233.78l3.7 3.7M581.95 233.78l3.7 3.7M585.79 233.78l3.7 3.7M589.64 233.78l3.7 3.7M593.48 233.78l3.7 3.7M597.32 233.78l3.7 3.7M601.17 233.78l3.7 3.7M605.01 233.78l3.7 3.7M608.85 233.78l3.7 3.7M612.7 233.78l3.7 3.7M616.54 233.78l3.7 3.7M620.38 233.78l3.7 3.7M624.23 233.78l3.7 3.7M628.07 233.78l3.7 3.7M631.92 233.78l3.7 3.7M635.76 233.78l3.7 3.7M639.6 233.78l3.7 3.7M643.45 233.78l3.7 3.7M647.29 233.78l3.7 3.7M651.13 233.78l3.7 3.7M654.98 233.78l3.7 3.7M658.82 233.78l3.7 3.7M558.89 241.44l3.7 3.7M562.73 241.44l3.7 3.7M566.58 241.44l3.7 3.7M570.42 241.44l3.7 3.7M574.26 241.44l3.7 3.7M578.11 241.44l3.7 3.7M581.95 241.44l3.7 3.7M585.79 241.44l3.7 3.7M589.64 241.44l3.7 3.7M593.48 241.44l3.7 3.7M597.32 241.44l3.7 3.7M601.17 241.44l3.7 3.7M605.01 241.44l3.7 3.7M608.85 241.44l3.7 3.7M612.7 241.44l3.7 3.7M616.54 241.44l3.7 3.7M620.38 241.44l3.7 3.7M624.23 241.44l3.7 3.7M628.07 241.44l3.7 3.7M631.92 241.44l3.7 3.7M635.76 241.44l3.7 3.7M639.6 241.44l3.7 3.7M643.45 241.44l3.7 3.7M647.29 241.44l3.7 3.7M651.13 241.44l3.7 3.7M654.98 241.44l3.7 3.7M658.82 241.44l3.7 3.7M558.89 249.1l3.7 3.7M562.73 249.1l3.7 3.7M566.58 249.1l3.7 3.7M570.42 249.1l3.7 3.7M574.26 249.1l3.7 3.7M578.11 249.1l3.7 3.7M581.95 249.1l3.7 3.7M585.79 249.1l3.7 3.7M589.64 249.1l3.7 3.7M593.48 249.1l3.7 3.7M597.32 249.1l3.7 3.7M601.17 249.1l3.7 3.7M605.01 249.1l3.7 3.7M608.85 249.1l3.7 3.7M612.7 249.1l3.7 3.7M616.54 249.1l3.7 3.7M620.38 249.1l3.7 3.7M624.23 249.1l3.7 3.7M628.07 249.1l3.7 3.7M631.92 249.1l3.7 3.7M635.76 249.1l3.7 3.7M639.6 249.1l3.7 3.7M643.45 249.1l3.7 3.7M647.29 249.1l3.7 3.7M651.13 249.1l3.7 3.7M654.98 249.1l3.7 3.7M658.82 249.1l3.7 3.7M558.89 256.76l3.7 3.7M562.73 256.76l3.7 3.7M566.58 256.76l3.7 3.7M570.42 256.76l3.7 3.7M574.26 256.76l3.7 3.7M578.11 256.76l3.7 3.7M581.95 256.76l3.7 3.7M585.79 256.76l3.7 3.7M589.64 256.76l3.7 3.7M593.48 256.76l3.7 3.7M597.32 256.76l3.7 3.7M601.17 256.76l3.7 3.7M605.01 256.76l3.7 3.7M608.85 256.76l3.7 3.7M612.7 256.76l3.7 3.7M616.54 256.76l3.7 3.7M620.38 256.76l3.7 3.7M624.23 256.76l3.7 3.7M628.07 256.76l3.7 3.7M631.92 256.76l3.7 3.7M635.76 256.76l3.7 3.7M639.6 256.76l3.7 3.7M643.45 256.76l3.7 3.7M647.29 256.76l3.7 3.7M651.13 256.76l3.7 3.7M654.98 256.76l3.7 3.7M658.82 256.76l3.7 3.7M558.89 264.42l3.7 3.7M562.73 264.42l3.7 3.7M566.58 264.42l3.7 3.7M570.42 264.42l3.7 3.7M574.26 264.42l3.7 3.7M578.11 264.42l3.7 3.7M581.95 264.42l3.7 3.7M585.79 264.42l3.7 3.7M589.64 264.42l3.7 3.7M593.48 264.42l3.7 3.7M597.32 264.42l3.7 3.7M601.17 264.42l3.7 3.7M605.01 264.42l3.7 3.7M608.85 264.42l3.7 3.7M612.7 264.42l3.7 3.7M616.54 264.42l3.7 3.7M620.38 264.42l3.7 3.7M624.23 264.42l3.7 3.7M628.07 264.42l3.7 3.7M631.92 264.42l3.7 3.7M635.76 264.42l3.7 3.7M639.6 264.42l3.7 3.7M643.45 264.42l3.7 3.7M647.29 264.42l3.7 3.7M651.13 264.42l3.7 3.7M654.98 264.42l3.7 3.7M658.82 264.42l3.7 3.7M558.89 272.08l3.7 3.7M562.73 272.08l3.7 3.7M566.58 272.08l3.7 3.7M570.42 272.08l3.7 3.7M574.26 272.08l3.7 3.7M578.11 272.08l3.7 3.7M581.95 272.08l3.7 3.7M585.79 272.08l3.7 3.7M589.64 272.08l3.7 3.7M593.48 272.08l3.7 3.7M597.32 272.08l3.7 3.7M601.17 272.08l3.7 3.7M605.01 272.08l3.7 3.7M608.85 272.08l3.7 3.7M612.7 272.08l3.7 3.7M616.54 272.08l3.7 3.7M620.38 272.08l3.7 3.7M624.23 272.08l3.7 3.7M628.07 272.08l3.7 3.7M631.92 272.08l3.7 3.7M635.76 272.08l3.7 3.7M639.6 272.08l3.7 3.7M643.45 272.08l3.7 3.7M647.29 272.08l3.7 3.7M651.13 272.08l3.7 3.7M654.98 272.08l3.7 3.7M658.82 272.08l3.7 3.7M558.89 279.74l3.7 3.7M562.73 279.74l3.7 3.7M566.58 279.74l3.7 3.7M570.42 279.74l3.7 3.7M574.26 279.74l3.7 3.7M578.11 279.74l3.7 3.7M581.95 279.74l3.7 3.7M585.79 279.74l3.7 3.7M589.64 279.74l3.7 3.7M593.48 279.74l3.7 3.7M597.32 279.74l3.7 3.7M601.17 279.74l3.7 3.7M605.01 279.74l3.7 3.7M608.85 279.74l3.7 3.7M612.7 279.74l3.7 3.7M616.54 279.74l3.7 3.7M620.38 279.74l3.7 3.7M624.23 279.74l3.7 3.7M628.07 279.74l3.7 3.7M631.92 279.74l3.7 3.7M635.76 279.74l3.7 3.7M639.6 279.74l3.7 3.7M643.45 279.74l3.7 3.7M647.29 279.74l3.7 3.7M651.13 279.74l3.7 3.7M654.98 279.74l3.7 3.7M658.82 279.74l3.7 3.7M558.89 287.4l3.7 3.7M562.73 287.4l3.7 3.7M566.58 287.4l3.7 3.7M570.42 287.4l3.7 3.7M574.26 287.4l3.7 3.7M578.11 287.4l3.7 3.7M581.95 287.4l3.7 3.7M585.79 287.4l3.7 3.7M589.64 287.4l3.7 3.7M593.48 287.4l3.7 3.7M597.32 287.4l3.7 3.7M601.17 287.4l3.7 3.7M605.01 287.4l3.7 3.7M608.85 287.4l3.7 3.7M612.7 287.4l3.7 3.7M616.54 287.4l3.7 3.7M620.38 287.4l3.7 3.7M624.23 287.4l3.7 3.7M628.07 287.4l3.7 3.7M631.92 287.4l3.7 3.7M635.76 287.4l3.7 3.7M639.6 287.4l3.7 3.7M643.45 287.4l3.7 3.7M647.29 287.4l3.7 3.7M651.13 287.4l3.7 3.7M654.98 287.4l3.7 3.7M658.82 287.4l3.7 3.7M558.89 295.05l3.7 3.7M562.73 295.05l3.7 3.7M566.58 295.05l3.7 3.7M570.42 295.05l3.7 3.7M574.26 295.05l3.7 3.7M578.11 295.05l3.7 3.7M581.95 295.05l3.7 3.7M585.79 295.05l3.7 3.7M589.64 295.05l3.7 3.7M593.48 295.05l3.7 3.7M597.32 295.05l3.7 3.7M601.17 295.05l3.7 3.7M605.01 295.05l3.7 3.7M608.85 295.05l3.7 3.7M612.7 295.05l3.7 3.7M616.54 295.05l3.7 3.7M620.38 295.05l3.7 3.7M624.23 295.05l3.7 3.7M628.07 295.05l3.7 3.7M631.92 295.05l3.7 3.7M635.76 295.05l3.7 3.7M639.6 295.05l3.7 3.7M643.45 295.05l3.7 3.7M647.29 295.05l3.7 3.7M651.13 295.05l3.7 3.7M654.98 295.05l3.7 3.7M658.82 295.05l3.7 3.7M558.89 302.71l3.7 3.7M562.73 302.71l3.7 3.7M566.58 302.71l3.7 3.7M570.42 302.71l3.7 3.7M574.26 302.71l3.7 3.7M578.11 302.71l3.7 3.7M581.95 302.71l3.7 3.7M585.79 302.71l3.7 3.7M589.64 302.71l3.7 3.7M593.48 302.71l3.7 3.7M597.32 302.71l3.7 3.7M601.17 302.71l3.7 3.7M605.01 302.71l3.7 3.7M608.85 302.71l3.7 3.7M612.7 302.71l3.7 3.7M616.54 302.71l3.7 3.7M620.38 302.71l3.7 3.7M624.23 302.71l3.7 3.7M628.07 302.71l3.7 3.7M631.92 302.71l3.7 3.7M635.76 302.71l3.7 3.7M639.6 302.71l3.7 3.7M643.45 302.71l3.7 3.7M647.29 302.71l3.7 3.7M651.13 302.71l3.7 3.7M654.98 302.71l3.7 3.7M658.82 302.71l3.7 3.7M558.89 310.37l3.7 3.7M562.73 310.37l3.7 3.7M566.58 310.37l3.7 3.7M570.42 310.37l3.7 3.7M574.26 310.37l3.7 3.7M578.11 310.37l3.7 3.7M581.95 310.37l3.7 3.7M585.79 310.37l3.7 3.7M589.64 310.37l3.7 3.7M593.48 310.37l3.7 3.7M597.32 310.37l3.7 3.7M601.17 310.37l3.7 3.7M605.01 310.37l3.7 3.7M608.85 310.37l3.7 3.7M612.7 310.37l3.7 3.7M616.54 310.37l3.7 3.7M620.38 310.37l3.7 3.7M624.23 310.37l3.7 3.7M628.07 310.37l3.7 3.7M631.92 310.37l3.7 3.7M635.76 310.37l3.7 3.7M639.6 310.37l3.7 3.7M643.45 310.37l3.7 3.7M647.29 310.37l3.7 3.7M651.13 310.37l3.7 3.7M654.98 310.37l3.7 3.7M658.82 310.37l3.7 3.7M558.89 318.03l3.7 3.7M562.73 318.03l3.7 3.7M566.58 318.03l3.7 3.7M570.42 318.03l3.7 3.7M574.26 318.03l3.7 3.7M578.11 318.03l3.7 3.7M581.95 318.03l3.7 3.7M585.79 318.03l3.7 3.7M589.64 318.03l3.7 3.7M593.48 318.03l3.7 3.7M597.32 318.03l3.7 3.7M601.17 318.03l3.7 3.7M605.01 318.03l3.7 3.7M608.85 318.03l3.7 3.7M612.7 318.03l3.7 3.7M616.54 318.03l3.7 3.7M620.38 318.03l3.7 3.7M624.23 318.03l3.7 3.7M628.07 318.03l3.7 3.7M631.92 318.03l3.7 3.7M635.76 318.03l3.7 3.7M639.6 318.03l3.7 3.7M643.45 318.03l3.7 3.7M647.29 318.03l3.7 3.7M651.13 318.03l3.7 3.7M654.98 318.03l3.7 3.7M658.82 318.03l3.7 3.7M558.89 325.69l3.7 3.7M562.73 325.69l3.7 3.7M566.58 325.69l3.7 3.7M570.42 325.69l3.7 3.7M574.26 325.69l3.7 3.7M578.11 325.69l3.7 3.7M581.95 325.69l3.7 3.7M585.79 325.69l3.7 3.7M589.64 325.69l3.7 3.7M593.48 325.69l3.7 3.7M597.32 325.69l3.7 3.7M601.17 325.69l3.7 3.7M605.01 325.69l3.7 3.7M608.85 325.69l3.7 3.7M612.7 325.69l3.7 3.7M616.54 325.69l3.7 3.7M620.38 325.69l3.7 3.7M624.23 325.69l3.7 3.7M628.07 325.69l3.7 3.7M631.92 325.69l3.7 3.7M635.76 325.69l3.7 3.7M639.6 325.69l3.7 3.7M643.45 325.69l3.7 3.7M647.29 325.69l3.7 3.7M651.13 325.69l3.7 3.7M654.98 325.69l3.7 3.7M658.82 325.69l3.7 3.7M558.89 333.35l3.7 3.7M562.73 333.35l3.7 3.7M566.58 333.35l3.7 3.7M570.42 333.35l3.7 3.7M574.26 333.35l3.7 3.7M578.11 333.35l3.7 3.7M581.95 333.35l3.7 3.7M585.79 333.35l3.7 3.7M589.64 333.35l3.7 3.7M593.48 333.35l3.7 3.7M597.32 333.35l3.7 3.7M601.17 333.35l3.7 3.7M605.01 333.35l3.7 3.7M608.85 333.35l3.7 3.7M612.7 333.35l3.7 3.7M616.54 333.35l3.7 3.7M620.38 333.35l3.7 3.7M624.23 333.35l3.7 3.7M628.07 333.35l3.7 3.7M631.92 333.35l3.7 3.7M635.76 333.35l3.7 3.7M639.6 333.35l3.7 3.7M643.45 333.35l3.7 3.7M647.29 333.35l3.7 3.7M651.13 333.35l3.7 3.7M654.98 333.35l3.7 3.7M658.82 333.35l3.7 3.7M558.89 341.01l3.7 3.7M562.73 341.01l3.7 3.7M566.58 341.01l3.7 3.7M570.42 341.01l3.7 3.7M574.26 341.01l3.7 3.7M578.11 341.01l3.7 3.7M581.95 341.01l3.7 3.7M585.79 341.01l3.7 3.7M589.64 341.01l3.7 3.7M593.48 341.01l3.7 3.7M597.32 341.01l3.7 3.7M601.17 341.01l3.7 3.7M605.01 341.01l3.7 3.7M608.85 341.01l3.7 3.7M612.7 341.01l3.7 3.7M616.54 341.01l3.7 3.7M620.38 341.01l3.7 3.7M624.23 341.01l3.7 3.7M628.07 341.01l3.7 3.7M631.92 341.01l3.7 3.7M635.76 341.01l3.7 3.7M639.6 341.01l3.7 3.7M643.45 341.01l3.7 3.7M647.29 341.01l3.7 3.7M651.13 341.01l3.7 3.7M654.98 341.01l3.7 3.7M658.82 341.01l3.7 3.7M558.89 348.67l3.7 3.7M562.73 348.67l3.7 3.7M566.58 348.67l3.7 3.7M570.42 348.67l3.7 3.7M574.26 348.67l3.7 3.7M578.11 348.67l3.7 3.7M581.95 348.67l3.7 3.7M585.79 348.67l3.7 3.7M589.64 348.67l3.7 3.7M593.48 348.67l3.7 3.7M597.32 348.67l3.7 3.7M601.17 348.67l3.7 3.7M605.01 348.67l3.7 3.7M608.85 348.67l3.7 3.7M612.7 348.67l3.7 3.7M616.54 348.67l3.7 3.7M620.38 348.67l3.7 3.7M624.23 348.67l3.7 3.7M628.07 348.67l3.7 3.7M631.92 348.67l3.7 3.7M635.76 348.67l3.7 3.7M639.6 348.67l3.7 3.7M643.45 348.67l3.7 3.7M647.29 348.67l3.7 3.7M651.13 348.67l3.7 3.7M654.98 348.67l3.7 3.7M658.82 348.67l3.7 3.7M558.89 356.33l3.7 3.7M562.73 356.33l3.7 3.7M566.58 356.33l3.7 3.7M570.42 356.33l3.7 3.7M574.26 356.33l3.7 3.7M578.11 356.33l3.7 3.7M581.95 356.33l3.7 3.7M585.79 356.33l3.7 3.7M589.64 356.33l3.7 3.7M593.48 356.33l3.7 3.7M597.32 356.33l3.7 3.7M601.17 356.33l3.7 3.7M605.01 356.33l3.7 3.7M608.85 356.33l3.7 3.7M612.7 356.33l3.7 3.7M616.54 356.33l3.7 3.7M620.38 356.33l3.7 3.7M624.23 356.33l3.7 3.7M628.07 356.33l3.7 3.7M631.92 356.33l3.7 3.7M635.76 356.33l3.7 3.7M639.6 356.33l3.7 3.7M643.45 356.33l3.7 3.7M647.29 356.33l3.7 3.7M651.13 356.33l3.7 3.7M654.98 356.33l3.7 3.7M658.82 356.33l3.7 3.7M558.89 363.99l3.7 3.7M562.73 363.99l3.7 3.7M566.58 363.99l3.7 3.7M570.42 363.99l3.7 3.7M574.26 363.99l3.7 3.7M578.11 363.99l3.7 3.7M581.95 363.99l3.7 3.7M585.79 363.99l3.7 3.7M589.64 363.99l3.7 3.7M593.48 363.99l3.7 3.7M597.32 363.99l3.7 3.7M601.17 363.99l3.7 3.7M605.01 363.99l3.7 3.7M608.85 363.99l3.7 3.7M612.7 363.99l3.7 3.7M616.54 363.99l3.7 3.7M620.38 363.99l3.7 3.7M624.23 363.99l3.7 3.7M628.07 363.99l3.7 3.7M631.92 363.99l3.7 3.7M635.76 363.99l3.7 3.7M639.6 363.99l3.7 3.7M643.45 363.99l3.7 3.7M647.29 363.99l3.7 3.7M651.13 363.99l3.7 3.7M654.98 363.99l3.7 3.7M658.82 363.99l3.7 3.7M558.89 371.64l3.7 3.7M562.73 371.64l3.7 3.7M566.58 371.64l3.7 3.7M570.42 371.64l3.7 3.7M574.26 371.64l3.7 3.7M578.11 371.64l3.7 3.7M581.95 371.64l3.7 3.7M585.79 371.64l3.7 3.7M589.64 371.64l3.7 3.7M593.48 371.64l3.7 3.7M597.32 371.64l3.7 3.7M601.17 371.64l3.7 3.7M605.01 371.64l3.7 3.7M608.85 371.64l3.7 3.7M612.7 371.64l3.7 3.7M616.54 371.64l3.7 3.7M620.38 371.64l3.7 3.7M624.23 371.64l3.7 3.7M628.07 371.64l3.7 3.7M631.92 371.64l3.7 3.7M635.76 371.64l3.7 3.7M639.6 371.64l3.7 3.7M643.45 371.64l3.7 3.7M647.29 371.64l3.7 3.7M651.13 371.64l3.7 3.7M654.98 371.64l3.7 3.7M658.82 371.64l3.7 3.7M558.89 379.3l3.7 3.7M562.73 379.3l3.7 3.7M566.58 379.3l3.7 3.7M570.42 379.3l3.7 3.7M574.26 379.3l3.7 3.7M578.11 379.3l3.7 3.7M581.95 379.3l3.7 3.7M585.79 379.3l3.7 3.7M589.64 379.3l3.7 3.7M593.48 379.3l3.7 3.7M597.32 379.3l3.7 3.7M601.17 379.3l3.7 3.7M605.01 379.3l3.7 3.7M608.85 379.3l3.7 3.7M612.7 379.3l3.7 3.7M616.54 379.3l3.7 3.7M620.38 379.3l3.7 3.7M624.23 379.3l3.7 3.7M628.07 379.3l3.7 3.7M631.92 379.3l3.7 3.7M635.76 379.3l3.7 3.7M639.6 379.3l3.7 3.7M643.45 379.3l3.7 3.7M647.29 379.3l3.7 3.7M651.13 379.3l3.7 3.7M654.98 379.3l3.7 3.7M658.82 379.3l3.7 3.7M558.89 386.96l3.7 3.7M562.73 386.96l3.7 3.7M566.58 386.96l3.7 3.7M570.42 386.96l3.7 3.7M574.26 386.96l3.7 3.7M578.11 386.96l3.7 3.7M581.95 386.96l3.7 3.7M585.79 386.96l3.7 3.7M589.64 386.96l3.7 3.7M593.48 386.96l3.7 3.7M597.32 386.96l3.7 3.7M601.17 386.96l3.7 3.7M605.01 386.96l3.7 3.7M608.85 386.96l3.7 3.7M612.7 386.96l3.7 3.7M616.54 386.96l3.7 3.7M620.38 386.96l3.7 3.7M624.23 386.96l3.7 3.7M628.07 386.96l3.7 3.7M631.92 386.96l3.7 3.7M635.76 386.96l3.7 3.7M639.6 386.96l3.7 3.7M643.45 386.96l3.7 3.7M647.29 386.96l3.7 3.7M651.13 386.96l3.7 3.7M654.98 386.96l3.7 3.7M658.82 386.96l3.7 3.7"/>
<path d="M568.82 140.5H655.8V382.9H568.82" stroke="#161616" stroke-width="1.15" fill="none" stroke-linejoin="miter"/>
<clipPath id="c11"><rect x="568.4" y="127.3" width="86.4" height="13.2"/></clipPath>
<rect x="569.4" y="127.3" width="86.4" height="13.2" fill="#FFC30F"/>
<path d="M569.4 127.88V139.93" stroke="#161616" stroke-width="1.15" fill="none"/>
<path clip-path="url(#c11)" fill="none" stroke="#1c1400" stroke-opacity="0.8" stroke-width="1.15" d="M558.89 123.04l3.5 -3.5M562.74 123.04l3.5 -3.5M566.58 123.04l3.5 -3.5M570.42 123.04l3.5 -3.5M574.27 123.04l3.5 -3.5M578.11 123.04l3.5 -3.5M581.95 123.04l3.5 -3.5M585.8 123.04l3.5 -3.5M589.64 123.04l3.5 -3.5M593.48 123.04l3.5 -3.5M597.33 123.04l3.5 -3.5M601.17 123.04l3.5 -3.5M605.01 123.04l3.5 -3.5M608.86 123.04l3.5 -3.5M612.7 123.04l3.5 -3.5M616.54 123.04l3.5 -3.5M620.39 123.04l3.5 -3.5M624.23 123.04l3.5 -3.5M628.07 123.04l3.5 -3.5M631.92 123.04l3.5 -3.5M635.76 123.04l3.5 -3.5M639.61 123.04l3.5 -3.5M643.45 123.04l3.5 -3.5M647.29 123.04l3.5 -3.5M651.14 123.04l3.5 -3.5M654.98 123.04l3.5 -3.5M658.82 123.04l3.5 -3.5M558.89 130.7l3.5 -3.5M562.74 130.7l3.5 -3.5M566.58 130.7l3.5 -3.5M570.42 130.7l3.5 -3.5M574.27 130.7l3.5 -3.5M578.11 130.7l3.5 -3.5M581.95 130.7l3.5 -3.5M585.8 130.7l3.5 -3.5M589.64 130.7l3.5 -3.5M593.48 130.7l3.5 -3.5M597.33 130.7l3.5 -3.5M601.17 130.7l3.5 -3.5M605.01 130.7l3.5 -3.5M608.86 130.7l3.5 -3.5M612.7 130.7l3.5 -3.5M616.54 130.7l3.5 -3.5M620.39 130.7l3.5 -3.5M624.23 130.7l3.5 -3.5M628.07 130.7l3.5 -3.5M631.92 130.7l3.5 -3.5M635.76 130.7l3.5 -3.5M639.61 130.7l3.5 -3.5M643.45 130.7l3.5 -3.5M647.29 130.7l3.5 -3.5M651.14 130.7l3.5 -3.5M654.98 130.7l3.5 -3.5M658.82 130.7l3.5 -3.5M558.89 138.36l3.5 -3.5M562.74 138.36l3.5 -3.5M566.58 138.36l3.5 -3.5M570.42 138.36l3.5 -3.5M574.27 138.36l3.5 -3.5M578.11 138.36l3.5 -3.5M581.95 138.36l3.5 -3.5M585.8 138.36l3.5 -3.5M589.64 138.36l3.5 -3.5M593.48 138.36l3.5 -3.5M597.33 138.36l3.5 -3.5M601.17 138.36l3.5 -3.5M605.01 138.36l3.5 -3.5M608.86 138.36l3.5 -3.5M612.7 138.36l3.5 -3.5M616.54 138.36l3.5 -3.5M620.39 138.36l3.5 -3.5M624.23 138.36l3.5 -3.5M628.07 138.36l3.5 -3.5M631.92 138.36l3.5 -3.5M635.76 138.36l3.5 -3.5M639.61 138.36l3.5 -3.5M643.45 138.36l3.5 -3.5M647.29 138.36l3.5 -3.5M651.14 138.36l3.5 -3.5M654.98 138.36l3.5 -3.5M658.82 138.36l3.5 -3.5M558.89 146.02l3.5 -3.5M562.74 146.02l3.5 -3.5M566.58 146.02l3.5 -3.5M570.42 146.02l3.5 -3.5M574.27 146.02l3.5 -3.5M578.11 146.02l3.5 -3.5M581.95 146.02l3.5 -3.5M585.8 146.02l3.5 -3.5M589.64 146.02l3.5 -3.5M593.48 146.02l3.5 -3.5M597.33 146.02l3.5 -3.5M601.17 146.02l3.5 -3.5M605.01 146.02l3.5 -3.5M608.86 146.02l3.5 -3.5M612.7 146.02l3.5 -3.5M616.54 146.02l3.5 -3.5M620.39 146.02l3.5 -3.5M624.23 146.02l3.5 -3.5M628.07 146.02l3.5 -3.5M631.92 146.02l3.5 -3.5M635.76 146.02l3.5 -3.5M639.61 146.02l3.5 -3.5M643.45 146.02l3.5 -3.5M647.29 146.02l3.5 -3.5M651.14 146.02l3.5 -3.5M654.98 146.02l3.5 -3.5M658.82 146.02l3.5 -3.5M558.89 153.68l3.5 -3.5M562.74 153.68l3.5 -3.5M566.58 153.68l3.5 -3.5M570.42 153.68l3.5 -3.5M574.27 153.68l3.5 -3.5M578.11 153.68l3.5 -3.5M581.95 153.68l3.5 -3.5M585.8 153.68l3.5 -3.5M589.64 153.68l3.5 -3.5M593.48 153.68l3.5 -3.5M597.33 153.68l3.5 -3.5M601.17 153.68l3.5 -3.5M605.01 153.68l3.5 -3.5M608.86 153.68l3.5 -3.5M612.7 153.68l3.5 -3.5M616.54 153.68l3.5 -3.5M620.39 153.68l3.5 -3.5M624.23 153.68l3.5 -3.5M628.07 153.68l3.5 -3.5M631.92 153.68l3.5 -3.5M635.76 153.68l3.5 -3.5M639.61 153.68l3.5 -3.5M643.45 153.68l3.5 -3.5M647.29 153.68l3.5 -3.5M651.14 153.68l3.5 -3.5M654.98 153.68l3.5 -3.5M658.82 153.68l3.5 -3.5"/>
<path d="M568.82 127.3H655.8V140.5H568.82" stroke="#161616" stroke-width="1.15" fill="none" stroke-linejoin="miter"/>
<clipPath id="c12"><rect x="568.4" y="110.4" width="86.4" height="16.9"/></clipPath>
<rect x="569.4" y="110.4" width="86.4" height="16.9" fill="#37F8BC"/>
<path d="M569.4 110.98V126.72" stroke="#161616" stroke-width="1.15" fill="none"/>
<path clip-path="url(#c12)" fill="#000" d="M559.24 105.57h3.6v1.2h-3.6zM566.93 105.57h3.6v1.2h-3.6zM574.62 105.57h3.6v1.2h-3.6zM582.3 105.57h3.6v1.2h-3.6zM589.99 105.57h3.6v1.2h-3.6zM597.68 105.57h3.6v1.2h-3.6zM605.36 105.57h3.6v1.2h-3.6zM613.05 105.57h3.6v1.2h-3.6zM620.74 105.57h3.6v1.2h-3.6zM628.42 105.57h3.6v1.2h-3.6zM636.11 105.57h3.6v1.2h-3.6zM643.8 105.57h3.6v1.2h-3.6zM651.49 105.57h3.6v1.2h-3.6zM659.17 105.57h3.6v1.2h-3.6zM555.4 109.4h3.6v1.2h-3.6zM563.09 109.4h3.6v1.2h-3.6zM570.77 109.4h3.6v1.2h-3.6zM578.46 109.4h3.6v1.2h-3.6zM586.15 109.4h3.6v1.2h-3.6zM593.83 109.4h3.6v1.2h-3.6zM601.52 109.4h3.6v1.2h-3.6zM609.21 109.4h3.6v1.2h-3.6zM616.89 109.4h3.6v1.2h-3.6zM624.58 109.4h3.6v1.2h-3.6zM632.27 109.4h3.6v1.2h-3.6zM639.96 109.4h3.6v1.2h-3.6zM647.64 109.4h3.6v1.2h-3.6zM655.33 109.4h3.6v1.2h-3.6zM663.02 109.4h3.6v1.2h-3.6zM559.24 113.23h3.6v1.2h-3.6zM566.93 113.23h3.6v1.2h-3.6zM574.62 113.23h3.6v1.2h-3.6zM582.3 113.23h3.6v1.2h-3.6zM589.99 113.23h3.6v1.2h-3.6zM597.68 113.23h3.6v1.2h-3.6zM605.36 113.23h3.6v1.2h-3.6zM613.05 113.23h3.6v1.2h-3.6zM620.74 113.23h3.6v1.2h-3.6zM628.42 113.23h3.6v1.2h-3.6zM636.11 113.23h3.6v1.2h-3.6zM643.8 113.23h3.6v1.2h-3.6zM651.49 113.23h3.6v1.2h-3.6zM659.17 113.23h3.6v1.2h-3.6zM555.4 117.06h3.6v1.2h-3.6zM563.09 117.06h3.6v1.2h-3.6zM570.77 117.06h3.6v1.2h-3.6zM578.46 117.06h3.6v1.2h-3.6zM586.15 117.06h3.6v1.2h-3.6zM593.83 117.06h3.6v1.2h-3.6zM601.52 117.06h3.6v1.2h-3.6zM609.21 117.06h3.6v1.2h-3.6zM616.89 117.06h3.6v1.2h-3.6zM624.58 117.06h3.6v1.2h-3.6zM632.27 117.06h3.6v1.2h-3.6zM639.96 117.06h3.6v1.2h-3.6zM647.64 117.06h3.6v1.2h-3.6zM655.33 117.06h3.6v1.2h-3.6zM663.02 117.06h3.6v1.2h-3.6zM559.24 120.89h3.6v1.2h-3.6zM566.93 120.89h3.6v1.2h-3.6zM574.62 120.89h3.6v1.2h-3.6zM582.3 120.89h3.6v1.2h-3.6zM589.99 120.89h3.6v1.2h-3.6zM597.68 120.89h3.6v1.2h-3.6zM605.36 120.89h3.6v1.2h-3.6zM613.05 120.89h3.6v1.2h-3.6zM620.74 120.89h3.6v1.2h-3.6zM628.42 120.89h3.6v1.2h-3.6zM636.11 120.89h3.6v1.2h-3.6zM643.8 120.89h3.6v1.2h-3.6zM651.49 120.89h3.6v1.2h-3.6zM659.17 120.89h3.6v1.2h-3.6zM555.4 124.72h3.6v1.2h-3.6zM563.09 124.72h3.6v1.2h-3.6zM570.77 124.72h3.6v1.2h-3.6zM578.46 124.72h3.6v1.2h-3.6zM586.15 124.72h3.6v1.2h-3.6zM593.83 124.72h3.6v1.2h-3.6zM601.52 124.72h3.6v1.2h-3.6zM609.21 124.72h3.6v1.2h-3.6zM616.89 124.72h3.6v1.2h-3.6zM624.58 124.72h3.6v1.2h-3.6zM632.27 124.72h3.6v1.2h-3.6zM639.96 124.72h3.6v1.2h-3.6zM647.64 124.72h3.6v1.2h-3.6zM655.33 124.72h3.6v1.2h-3.6zM663.02 124.72h3.6v1.2h-3.6zM559.24 128.55h3.6v1.2h-3.6zM566.93 128.55h3.6v1.2h-3.6zM574.62 128.55h3.6v1.2h-3.6zM582.3 128.55h3.6v1.2h-3.6zM589.99 128.55h3.6v1.2h-3.6zM597.68 128.55h3.6v1.2h-3.6zM605.36 128.55h3.6v1.2h-3.6zM613.05 128.55h3.6v1.2h-3.6zM620.74 128.55h3.6v1.2h-3.6zM628.42 128.55h3.6v1.2h-3.6zM636.11 128.55h3.6v1.2h-3.6zM643.8 128.55h3.6v1.2h-3.6zM651.49 128.55h3.6v1.2h-3.6zM659.17 128.55h3.6v1.2h-3.6zM555.4 132.38h3.6v1.2h-3.6zM563.09 132.38h3.6v1.2h-3.6zM570.77 132.38h3.6v1.2h-3.6zM578.46 132.38h3.6v1.2h-3.6zM586.15 132.38h3.6v1.2h-3.6zM593.83 132.38h3.6v1.2h-3.6zM601.52 132.38h3.6v1.2h-3.6zM609.21 132.38h3.6v1.2h-3.6zM616.89 132.38h3.6v1.2h-3.6zM624.58 132.38h3.6v1.2h-3.6zM632.27 132.38h3.6v1.2h-3.6zM639.96 132.38h3.6v1.2h-3.6zM647.64 132.38h3.6v1.2h-3.6zM655.33 132.38h3.6v1.2h-3.6zM663.02 132.38h3.6v1.2h-3.6z"/>
<path d="M568.82 110.4H655.8V127.3H568.82" stroke="#161616" stroke-width="1.15" fill="none" stroke-linejoin="miter"/>
<text x="92.9" y="478.5" font-size="20" text-anchor="end">0</text>
<text x="92.9" y="385.82" font-size="20" text-anchor="end">25</text>
<text x="92.9" y="293.14" font-size="20" text-anchor="end">50</text>
<text x="92.9" y="200.46" font-size="20" text-anchor="end">75</text>
<path transform="translate(60.33 107.78) scale(0.009766 -0.009766)" d="M763 0h-180v1147q-65 -62 -170.5 -124t-189.5 -93v174q151 71 264 172t160 196h116v-1472z"/>
<text x="92.9" y="107.78" font-size="20" text-anchor="end">00</text>
<path transform="translate(60.33 15.1) scale(0.009766 -0.009766)" d="M763 0h-180v1147q-65 -62 -170.5 -124t-189.5 -93v174q151 71 264 172t160 196h116v-1472z"/>
<text x="92.9" y="15.1" font-size="20" text-anchor="end">25</text>
<text x="180.8" y="503.2" font-size="20" text-anchor="middle">C20</text>
<text x="324.5" y="503.2" font-size="20" text-anchor="middle">C30</text>
<text x="468.5" y="503.2" font-size="20" text-anchor="middle">C40</text>
<text x="612.4" y="503.2" font-size="20" text-anchor="middle">C50</text>
<text x="395.8" y="540.6" font-size="24" text-anchor="middle">Concrete strength (MPa)</text>
<text transform="translate(19.3 241) rotate(-90)" font-size="24" text-anchor="middle">The rotio of pore of different pores</text>
<text transform="translate(50.4 237.1) rotate(-90)" font-size="24" text-anchor="middle" xml:space="preserve">in total pores  (%)</text>
<clipPath id="c13"><rect x="201.5" y="31.5" width="52.5" height="26.3"/></clipPath>
<rect x="202.5" y="31.5" width="52.5" height="26.3" fill="#FE7CCB"/>
<path d="M202.5 32.08V57.22" stroke="#161616" stroke-width="1.15" fill="none"/>
<path clip-path="url(#c13)" fill="#6a1828" d="M193.26 25.05h1.36v1.36h-1.36zM200.94 25.05h1.36v1.36h-1.36zM208.63 25.05h1.36v1.36h-1.36zM216.32 25.05h1.36v1.36h-1.36zM224 25.05h1.36v1.36h-1.36zM231.69 25.05h1.36v1.36h-1.36zM239.38 25.05h1.36v1.36h-1.36zM247.07 25.05h1.36v1.36h-1.36zM254.75 25.05h1.36v1.36h-1.36zM262.44 25.05h1.36v1.36h-1.36zM189.41 28.88h1.36v1.36h-1.36zM197.1 28.88h1.36v1.36h-1.36zM204.79 28.88h1.36v1.36h-1.36zM212.47 28.88h1.36v1.36h-1.36zM220.16 28.88h1.36v1.36h-1.36zM227.85 28.88h1.36v1.36h-1.36zM235.54 28.88h1.36v1.36h-1.36zM243.22 28.88h1.36v1.36h-1.36zM250.91 28.88h1.36v1.36h-1.36zM258.6 28.88h1.36v1.36h-1.36zM193.26 32.71h1.36v1.36h-1.36zM200.94 32.71h1.36v1.36h-1.36zM208.63 32.71h1.36v1.36h-1.36zM216.32 32.71h1.36v1.36h-1.36zM224 32.71h1.36v1.36h-1.36zM231.69 32.71h1.36v1.36h-1.36zM239.38 32.71h1.36v1.36h-1.36zM247.07 32.71h1.36v1.36h-1.36zM254.75 32.71h1.36v1.36h-1.36zM262.44 32.71h1.36v1.36h-1.36zM189.41 36.54h1.36v1.36h-1.36zM197.1 36.54h1.36v1.36h-1.36zM204.79 36.54h1.36v1.36h-1.36zM212.47 36.54h1.36v1.36h-1.36zM220.16 36.54h1.36v1.36h-1.36zM227.85 36.54h1.36v1.36h-1.36zM235.54 36.54h1.36v1.36h-1.36zM243.22 36.54h1.36v1.36h-1.36zM250.91 36.54h1.36v1.36h-1.36zM258.6 36.54h1.36v1.36h-1.36zM193.26 40.37h1.36v1.36h-1.36zM200.94 40.37h1.36v1.36h-1.36zM208.63 40.37h1.36v1.36h-1.36zM216.32 40.37h1.36v1.36h-1.36zM224 40.37h1.36v1.36h-1.36zM231.69 40.37h1.36v1.36h-1.36zM239.38 40.37h1.36v1.36h-1.36zM247.07 40.37h1.36v1.36h-1.36zM254.75 40.37h1.36v1.36h-1.36zM262.44 40.37h1.36v1.36h-1.36zM189.41 44.19h1.36v1.36h-1.36zM197.1 44.19h1.36v1.36h-1.36zM204.79 44.19h1.36v1.36h-1.36zM212.47 44.19h1.36v1.36h-1.36zM220.16 44.19h1.36v1.36h-1.36zM227.85 44.19h1.36v1.36h-1.36zM235.54 44.19h1.36v1.36h-1.36zM243.22 44.19h1.36v1.36h-1.36zM250.91 44.19h1.36v1.36h-1.36zM258.6 44.19h1.36v1.36h-1.36zM193.26 48.02h1.36v1.36h-1.36zM200.94 48.02h1.36v1.36h-1.36zM208.63 48.02h1.36v1.36h-1.36zM216.32 48.02h1.36v1.36h-1.36zM224 48.02h1.36v1.36h-1.36zM231.69 48.02h1.36v1.36h-1.36zM239.38 48.02h1.36v1.36h-1.36zM247.07 48.02h1.36v1.36h-1.36zM254.75 48.02h1.36v1.36h-1.36zM262.44 48.02h1.36v1.36h-1.36zM189.41 51.85h1.36v1.36h-1.36zM197.1 51.85h1.36v1.36h-1.36zM204.79 51.85h1.36v1.36h-1.36zM212.47 51.85h1.36v1.36h-1.36zM220.16 51.85h1.36v1.36h-1.36zM227.85 51.85h1.36v1.36h-1.36zM235.54 51.85h1.36v1.36h-1.36zM243.22 51.85h1.36v1.36h-1.36zM250.91 51.85h1.36v1.36h-1.36zM258.6 51.85h1.36v1.36h-1.36zM193.26 55.68h1.36v1.36h-1.36zM200.94 55.68h1.36v1.36h-1.36zM208.63 55.68h1.36v1.36h-1.36zM216.32 55.68h1.36v1.36h-1.36zM224 55.68h1.36v1.36h-1.36zM231.69 55.68h1.36v1.36h-1.36zM239.38 55.68h1.36v1.36h-1.36zM247.07 55.68h1.36v1.36h-1.36zM254.75 55.68h1.36v1.36h-1.36zM262.44 55.68h1.36v1.36h-1.36zM189.41 59.51h1.36v1.36h-1.36zM197.1 59.51h1.36v1.36h-1.36zM204.79 59.51h1.36v1.36h-1.36zM212.47 59.51h1.36v1.36h-1.36zM220.16 59.51h1.36v1.36h-1.36zM227.85 59.51h1.36v1.36h-1.36zM235.54 59.51h1.36v1.36h-1.36zM243.22 59.51h1.36v1.36h-1.36zM250.91 59.51h1.36v1.36h-1.36zM258.6 59.51h1.36v1.36h-1.36zM193.26 63.34h1.36v1.36h-1.36zM200.94 63.34h1.36v1.36h-1.36zM208.63 63.34h1.36v1.36h-1.36zM216.32 63.34h1.36v1.36h-1.36zM224 63.34h1.36v1.36h-1.36zM231.69 63.34h1.36v1.36h-1.36zM239.38 63.34h1.36v1.36h-1.36zM247.07 63.34h1.36v1.36h-1.36zM254.75 63.34h1.36v1.36h-1.36zM262.44 63.34h1.36v1.36h-1.36z"/>
<path d="M201.93 31.5H255V57.8H201.93" stroke="#161616" stroke-width="1.15" fill="none" stroke-linejoin="miter"/>
<clipPath id="c14"><rect x="201.5" y="61.7" width="52.5" height="25.4"/></clipPath>
<rect x="202.5" y="61.7" width="52.5" height="25.4" fill="#FFC30F"/>
<path d="M202.5 62.28V86.52" stroke="#161616" stroke-width="1.15" fill="none"/>
<path clip-path="url(#c14)" fill="none" stroke="#1c1400" stroke-opacity="0.8" stroke-width="1.15" d="M193.76 53.51l3.5 -3.5M197.6 53.51l3.5 -3.5M201.45 53.51l3.5 -3.5M205.29 53.51l3.5 -3.5M209.13 53.51l3.5 -3.5M212.98 53.51l3.5 -3.5M216.82 53.51l3.5 -3.5M220.66 53.51l3.5 -3.5M224.51 53.51l3.5 -3.5M228.35 53.51l3.5 -3.5M232.19 53.51l3.5 -3.5M236.04 53.51l3.5 -3.5M239.88 53.51l3.5 -3.5M243.72 53.51l3.5 -3.5M247.57 53.51l3.5 -3.5M251.41 53.51l3.5 -3.5M255.25 53.51l3.5 -3.5M259.1 53.51l3.5 -3.5M193.76 61.17l3.5 -3.5M197.6 61.17l3.5 -3.5M201.45 61.17l3.5 -3.5M205.29 61.17l3.5 -3.5M209.13 61.17l3.5 -3.5M212.98 61.17l3.5 -3.5M216.82 61.17l3.5 -3.5M220.66 61.17l3.5 -3.5M224.51 61.17l3.5 -3.5M228.35 61.17l3.5 -3.5M232.19 61.17l3.5 -3.5M236.04 61.17l3.5 -3.5M239.88 61.17l3.5 -3.5M243.72 61.17l3.5 -3.5M247.57 61.17l3.5 -3.5M251.41 61.17l3.5 -3.5M255.25 61.17l3.5 -3.5M259.1 61.17l3.5 -3.5M193.76 68.83l3.5 -3.5M197.6 68.83l3.5 -3.5M201.45 68.83l3.5 -3.5M205.29 68.83l3.5 -3.5M209.13 68.83l3.5 -3.5M212.98 68.83l3.5 -3.5M216.82 68.83l3.5 -3.5M220.66 68.83l3.5 -3.5M224.51 68.83l3.5 -3.5M228.35 68.83l3.5 -3.5M232.19 68.83l3.5 -3.5M236.04 68.83l3.5 -3.5M239.88 68.83l3.5 -3.5M243.72 68.83l3.5 -3.5M247.57 68.83l3.5 -3.5M251.41 68.83l3.5 -3.5M255.25 68.83l3.5 -3.5M259.1 68.83l3.5 -3.5M193.76 76.49l3.5 -3.5M197.6 76.49l3.5 -3.5M201.45 76.49l3.5 -3.5M205.29 76.49l3.5 -3.5M209.13 76.49l3.5 -3.5M212.98 76.49l3.5 -3.5M216.82 76.49l3.5 -3.5M220.66 76.49l3.5 -3.5M224.51 76.49l3.5 -3.5M228.35 76.49l3.5 -3.5M232.19 76.49l3.5 -3.5M236.04 76.49l3.5 -3.5M239.88 76.49l3.5 -3.5M243.72 76.49l3.5 -3.5M247.57 76.49l3.5 -3.5M251.41 76.49l3.5 -3.5M255.25 76.49l3.5 -3.5M259.1 76.49l3.5 -3.5M193.76 84.15l3.5 -3.5M197.6 84.15l3.5 -3.5M201.45 84.15l3.5 -3.5M205.29 84.15l3.5 -3.5M209.13 84.15l3.5 -3.5M212.98 84.15l3.5 -3.5M216.82 84.15l3.5 -3.5M220.66 84.15l3.5 -3.5M224.51 84.15l3.5 -3.5M228.35 84.15l3.5 -3.5M232.19 84.15l3.5 -3.5M236.04 84.15l3.5 -3.5M239.88 84.15l3.5 -3.5M243.72 84.15l3.5 -3.5M247.57 84.15l3.5 -3.5M251.41 84.15l3.5 -3.5M255.25 84.15l3.5 -3.5M259.1 84.15l3.5 -3.5M193.76 91.81l3.5 -3.5M197.6 91.81l3.5 -3.5M201.45 91.81l3.5 -3.5M205.29 91.81l3.5 -3.5M209.13 91.81l3.5 -3.5M212.98 91.81l3.5 -3.5M216.82 91.81l3.5 -3.5M220.66 91.81l3.5 -3.5M224.51 91.81l3.5 -3.5M228.35 91.81l3.5 -3.5M232.19 91.81l3.5 -3.5M236.04 91.81l3.5 -3.5M239.88 91.81l3.5 -3.5M243.72 91.81l3.5 -3.5M247.57 91.81l3.5 -3.5M251.41 91.81l3.5 -3.5M255.25 91.81l3.5 -3.5M259.1 91.81l3.5 -3.5M193.76 99.47l3.5 -3.5M197.6 99.47l3.5 -3.5M201.45 99.47l3.5 -3.5M205.29 99.47l3.5 -3.5M209.13 99.47l3.5 -3.5M212.98 99.47l3.5 -3.5M216.82 99.47l3.5 -3.5M220.66 99.47l3.5 -3.5M224.51 99.47l3.5 -3.5M228.35 99.47l3.5 -3.5M232.19 99.47l3.5 -3.5M236.04 99.47l3.5 -3.5M239.88 99.47l3.5 -3.5M243.72 99.47l3.5 -3.5M247.57 99.47l3.5 -3.5M251.41 99.47l3.5 -3.5M255.25 99.47l3.5 -3.5M259.1 99.47l3.5 -3.5"/>
<path d="M201.93 61.7H255V87.1H201.93" stroke="#161616" stroke-width="1.15" fill="none" stroke-linejoin="miter"/>
<clipPath id="c15"><rect x="382.8" y="31.6" width="52.1" height="26.4"/></clipPath>
<rect x="383.8" y="31.6" width="52.1" height="26.4" fill="#84D2FB"/>
<path d="M383.8 32.18V57.42" stroke="#161616" stroke-width="1.15" fill="none"/>
<path clip-path="url(#c15)" fill="none" stroke="#0a1a24" stroke-opacity="0.8" stroke-width="1.18" d="M374.4 19.33l3.7 3.7M378.24 19.33l3.7 3.7M382.09 19.33l3.7 3.7M385.93 19.33l3.7 3.7M389.77 19.33l3.7 3.7M393.62 19.33l3.7 3.7M397.46 19.33l3.7 3.7M401.31 19.33l3.7 3.7M405.15 19.33l3.7 3.7M408.99 19.33l3.7 3.7M412.84 19.33l3.7 3.7M416.68 19.33l3.7 3.7M420.52 19.33l3.7 3.7M424.37 19.33l3.7 3.7M428.21 19.33l3.7 3.7M432.05 19.33l3.7 3.7M435.9 19.33l3.7 3.7M439.74 19.33l3.7 3.7M374.4 26.99l3.7 3.7M378.24 26.99l3.7 3.7M382.09 26.99l3.7 3.7M385.93 26.99l3.7 3.7M389.77 26.99l3.7 3.7M393.62 26.99l3.7 3.7M397.46 26.99l3.7 3.7M401.31 26.99l3.7 3.7M405.15 26.99l3.7 3.7M408.99 26.99l3.7 3.7M412.84 26.99l3.7 3.7M416.68 26.99l3.7 3.7M420.52 26.99l3.7 3.7M424.37 26.99l3.7 3.7M428.21 26.99l3.7 3.7M432.05 26.99l3.7 3.7M435.9 26.99l3.7 3.7M439.74 26.99l3.7 3.7M374.4 34.65l3.7 3.7M378.24 34.65l3.7 3.7M382.09 34.65l3.7 3.7M385.93 34.65l3.7 3.7M389.77 34.65l3.7 3.7M393.62 34.65l3.7 3.7M397.46 34.65l3.7 3.7M401.31 34.65l3.7 3.7M405.15 34.65l3.7 3.7M408.99 34.65l3.7 3.7M412.84 34.65l3.7 3.7M416.68 34.65l3.7 3.7M420.52 34.65l3.7 3.7M424.37 34.65l3.7 3.7M428.21 34.65l3.7 3.7M432.05 34.65l3.7 3.7M435.9 34.65l3.7 3.7M439.74 34.65l3.7 3.7M374.4 42.31l3.7 3.7M378.24 42.31l3.7 3.7M382.09 42.31l3.7 3.7M385.93 42.31l3.7 3.7M389.77 42.31l3.7 3.7M393.62 42.31l3.7 3.7M397.46 42.31l3.7 3.7M401.31 42.31l3.7 3.7M405.15 42.31l3.7 3.7M408.99 42.31l3.7 3.7M412.84 42.31l3.7 3.7M416.68 42.31l3.7 3.7M420.52 42.31l3.7 3.7M424.37 42.31l3.7 3.7M428.21 42.31l3.7 3.7M432.05 42.31l3.7 3.7M435.9 42.31l3.7 3.7M439.74 42.31l3.7 3.7M374.4 49.97l3.7 3.7M378.24 49.97l3.7 3.7M382.09 49.97l3.7 3.7M385.93 49.97l3.7 3.7M389.77 49.97l3.7 3.7M393.62 49.97l3.7 3.7M397.46 49.97l3.7 3.7M401.31 49.97l3.7 3.7M405.15 49.97l3.7 3.7M408.99 49.97l3.7 3.7M412.84 49.97l3.7 3.7M416.68 49.97l3.7 3.7M420.52 49.97l3.7 3.7M424.37 49.97l3.7 3.7M428.21 49.97l3.7 3.7M432.05 49.97l3.7 3.7M435.9 49.97l3.7 3.7M439.74 49.97l3.7 3.7M374.4 57.63l3.7 3.7M378.24 57.63l3.7 3.7M382.09 57.63l3.7 3.7M385.93 57.63l3.7 3.7M389.77 57.63l3.7 3.7M393.62 57.63l3.7 3.7M397.46 57.63l3.7 3.7M401.31 57.63l3.7 3.7M405.15 57.63l3.7 3.7M408.99 57.63l3.7 3.7M412.84 57.63l3.7 3.7M416.68 57.63l3.7 3.7M420.52 57.63l3.7 3.7M424.37 57.63l3.7 3.7M428.21 57.63l3.7 3.7M432.05 57.63l3.7 3.7M435.9 57.63l3.7 3.7M439.74 57.63l3.7 3.7M374.4 65.28l3.7 3.7M378.24 65.28l3.7 3.7M382.09 65.28l3.7 3.7M385.93 65.28l3.7 3.7M389.77 65.28l3.7 3.7M393.62 65.28l3.7 3.7M397.46 65.28l3.7 3.7M401.31 65.28l3.7 3.7M405.15 65.28l3.7 3.7M408.99 65.28l3.7 3.7M412.84 65.28l3.7 3.7M416.68 65.28l3.7 3.7M420.52 65.28l3.7 3.7M424.37 65.28l3.7 3.7M428.21 65.28l3.7 3.7M432.05 65.28l3.7 3.7M435.9 65.28l3.7 3.7M439.74 65.28l3.7 3.7"/>
<path d="M383.23 31.6H435.9V58H383.23" stroke="#161616" stroke-width="1.15" fill="none" stroke-linejoin="miter"/>
<clipPath id="c16"><rect x="382.8" y="61.4" width="52.1" height="25.4"/></clipPath>
<rect x="383.8" y="61.4" width="52.1" height="25.4" fill="#37F8BC"/>
<path d="M383.8 61.98V86.22" stroke="#161616" stroke-width="1.15" fill="none"/>
<path clip-path="url(#c16)" fill="#000" d="M370.91 55.79h3.6v1.2h-3.6zM378.6 55.79h3.6v1.2h-3.6zM386.28 55.79h3.6v1.2h-3.6zM393.97 55.79h3.6v1.2h-3.6zM401.66 55.79h3.6v1.2h-3.6zM409.34 55.79h3.6v1.2h-3.6zM417.03 55.79h3.6v1.2h-3.6zM424.72 55.79h3.6v1.2h-3.6zM432.41 55.79h3.6v1.2h-3.6zM440.09 55.79h3.6v1.2h-3.6zM374.75 59.62h3.6v1.2h-3.6zM382.44 59.62h3.6v1.2h-3.6zM390.13 59.62h3.6v1.2h-3.6zM397.81 59.62h3.6v1.2h-3.6zM405.5 59.62h3.6v1.2h-3.6zM413.19 59.62h3.6v1.2h-3.6zM420.88 59.62h3.6v1.2h-3.6zM428.56 59.62h3.6v1.2h-3.6zM436.25 59.62h3.6v1.2h-3.6zM443.94 59.62h3.6v1.2h-3.6zM370.91 63.45h3.6v1.2h-3.6zM378.6 63.45h3.6v1.2h-3.6zM386.28 63.45h3.6v1.2h-3.6zM393.97 63.45h3.6v1.2h-3.6zM401.66 63.45h3.6v1.2h-3.6zM409.34 63.45h3.6v1.2h-3.6zM417.03 63.45h3.6v1.2h-3.6zM424.72 63.45h3.6v1.2h-3.6zM432.41 63.45h3.6v1.2h-3.6zM440.09 63.45h3.6v1.2h-3.6zM374.75 67.28h3.6v1.2h-3.6zM382.44 67.28h3.6v1.2h-3.6zM390.13 67.28h3.6v1.2h-3.6zM397.81 67.28h3.6v1.2h-3.6zM405.5 67.28h3.6v1.2h-3.6zM413.19 67.28h3.6v1.2h-3.6zM420.88 67.28h3.6v1.2h-3.6zM428.56 67.28h3.6v1.2h-3.6zM436.25 67.28h3.6v1.2h-3.6zM443.94 67.28h3.6v1.2h-3.6zM370.91 71.11h3.6v1.2h-3.6zM378.6 71.11h3.6v1.2h-3.6zM386.28 71.11h3.6v1.2h-3.6zM393.97 71.11h3.6v1.2h-3.6zM401.66 71.11h3.6v1.2h-3.6zM409.34 71.11h3.6v1.2h-3.6zM417.03 71.11h3.6v1.2h-3.6zM424.72 71.11h3.6v1.2h-3.6zM432.41 71.11h3.6v1.2h-3.6zM440.09 71.11h3.6v1.2h-3.6zM374.75 74.93h3.6v1.2h-3.6zM382.44 74.93h3.6v1.2h-3.6zM390.13 74.93h3.6v1.2h-3.6zM397.81 74.93h3.6v1.2h-3.6zM405.5 74.93h3.6v1.2h-3.6zM413.19 74.93h3.6v1.2h-3.6zM420.88 74.93h3.6v1.2h-3.6zM428.56 74.93h3.6v1.2h-3.6zM436.25 74.93h3.6v1.2h-3.6zM443.94 74.93h3.6v1.2h-3.6zM370.91 78.76h3.6v1.2h-3.6zM378.6 78.76h3.6v1.2h-3.6zM386.28 78.76h3.6v1.2h-3.6zM393.97 78.76h3.6v1.2h-3.6zM401.66 78.76h3.6v1.2h-3.6zM409.34 78.76h3.6v1.2h-3.6zM417.03 78.76h3.6v1.2h-3.6zM424.72 78.76h3.6v1.2h-3.6zM432.41 78.76h3.6v1.2h-3.6zM440.09 78.76h3.6v1.2h-3.6zM374.75 82.59h3.6v1.2h-3.6zM382.44 82.59h3.6v1.2h-3.6zM390.13 82.59h3.6v1.2h-3.6zM397.81 82.59h3.6v1.2h-3.6zM405.5 82.59h3.6v1.2h-3.6zM413.19 82.59h3.6v1.2h-3.6zM420.88 82.59h3.6v1.2h-3.6zM428.56 82.59h3.6v1.2h-3.6zM436.25 82.59h3.6v1.2h-3.6zM443.94 82.59h3.6v1.2h-3.6zM370.91 86.42h3.6v1.2h-3.6zM378.6 86.42h3.6v1.2h-3.6zM386.28 86.42h3.6v1.2h-3.6zM393.97 86.42h3.6v1.2h-3.6zM401.66 86.42h3.6v1.2h-3.6zM409.34 86.42h3.6v1.2h-3.6zM417.03 86.42h3.6v1.2h-3.6zM424.72 86.42h3.6v1.2h-3.6zM432.41 86.42h3.6v1.2h-3.6zM440.09 86.42h3.6v1.2h-3.6zM374.75 90.25h3.6v1.2h-3.6zM382.44 90.25h3.6v1.2h-3.6zM390.13 90.25h3.6v1.2h-3.6zM397.81 90.25h3.6v1.2h-3.6zM405.5 90.25h3.6v1.2h-3.6zM413.19 90.25h3.6v1.2h-3.6zM420.88 90.25h3.6v1.2h-3.6zM428.56 90.25h3.6v1.2h-3.6zM436.25 90.25h3.6v1.2h-3.6zM443.94 90.25h3.6v1.2h-3.6z"/>
<path d="M383.23 61.4H435.9V86.8H383.23" stroke="#161616" stroke-width="1.15" fill="none" stroke-linejoin="miter"/>
<text x="261.7" y="52.8" font-size="24.4">&lt;20nm</text>
<text x="261.7" y="81.8" font-size="24.4">50~200nm</text>
<text x="443.1" y="52.8" font-size="24.4">20~50nm</text>
<text x="443.1" y="81.8" font-size="24.4">&gt;200nm</text>
</svg>
</body></html>
